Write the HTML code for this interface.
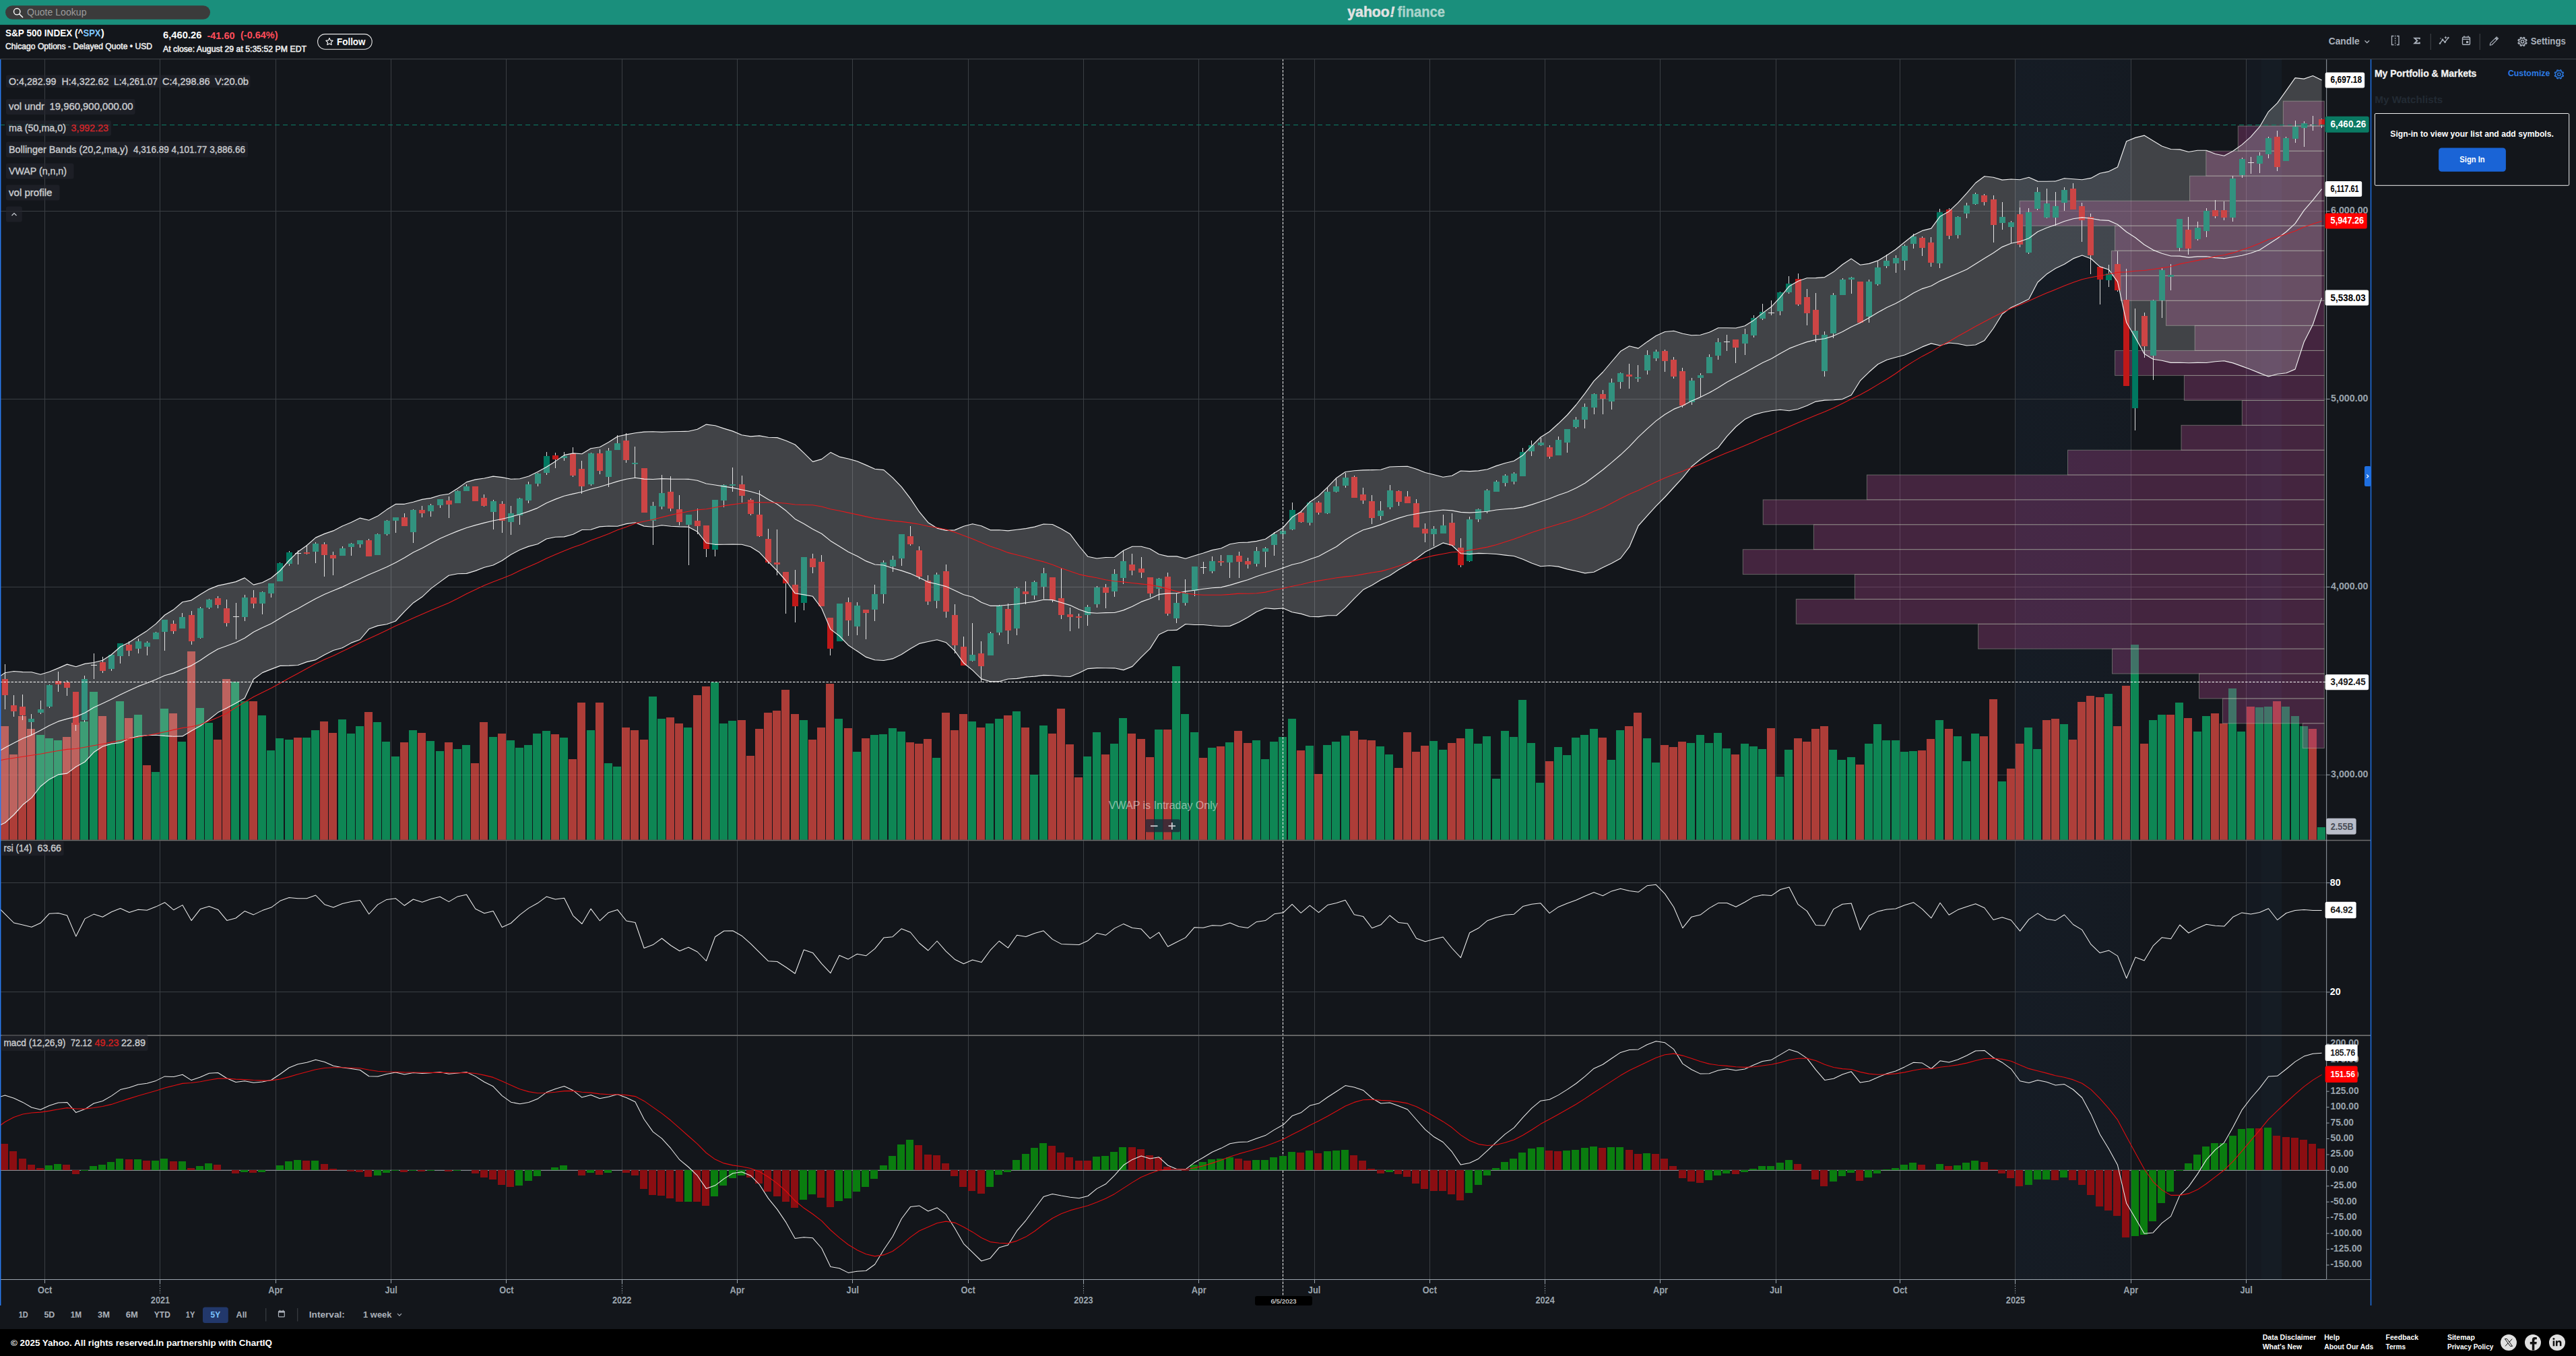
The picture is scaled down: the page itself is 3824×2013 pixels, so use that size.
<!DOCTYPE html><html><head><meta charset="utf-8"><title>S&amp;P 500 INDEX (^SPX) Interactive Chart</title><style>html,body{margin:0;padding:0;background:#13161b;}svg{display:block;font-family:"Liberation Sans", sans-serif;}</style></head><body>
<svg width="3824" height="2013" viewBox="0 0 3824 2013">
<defs>
<linearGradient id="g1" x1="0" x2="1" y1="0" y2="0"><stop offset="0" stop-color="#1b2a3c" stop-opacity="0.30"/><stop offset="1" stop-color="#1b2a3c" stop-opacity="0.22"/></linearGradient>
<linearGradient id="g2" x1="0" x2="1" y1="0" y2="0"><stop offset="0" stop-color="#1d2a3a" stop-opacity="0.3"/><stop offset="1" stop-color="#1d2a3a" stop-opacity="0.17"/></linearGradient>
<clipPath id="cpMain"><rect x="0" y="87.6" width="3453.7" height="1159.2"/></clipPath>
<clipPath id="cpMacd"><rect x="0" y="1538" width="3453.7" height="361.20000000000005"/></clipPath>
</defs>
<rect x="0" y="0" width="3824" height="2013" fill="#13161b" />
<rect x="2992" y="87.6" width="171.5" height="1811.6" fill="url(#g1)" />
<rect x="3335" y="87.6" width="21.5" height="1811.6" fill="rgba(27,42,60,0.2)" />
<rect x="3356.5" y="87.6" width="30.5" height="1811.6" fill="rgba(27,42,60,0.3)" />
<line x1="66.5" y1="87.6" x2="66.5" y2="1899.2" stroke="#3a3e43" stroke-width="1" />
<line x1="237.5" y1="87.6" x2="237.5" y2="1899.2" stroke="#3a3e43" stroke-width="1" />
<line x1="409.5" y1="87.6" x2="409.5" y2="1899.2" stroke="#3a3e43" stroke-width="1" />
<line x1="580.5" y1="87.6" x2="580.5" y2="1899.2" stroke="#3a3e43" stroke-width="1" />
<line x1="751.5" y1="87.6" x2="751.5" y2="1899.2" stroke="#3a3e43" stroke-width="1" />
<line x1="923.5" y1="87.6" x2="923.5" y2="1899.2" stroke="#3a3e43" stroke-width="1" />
<line x1="1094.5" y1="87.6" x2="1094.5" y2="1899.2" stroke="#3a3e43" stroke-width="1" />
<line x1="1265.5" y1="87.6" x2="1265.5" y2="1899.2" stroke="#3a3e43" stroke-width="1" />
<line x1="1437.5" y1="87.6" x2="1437.5" y2="1899.2" stroke="#3a3e43" stroke-width="1" />
<line x1="1608.5" y1="87.6" x2="1608.5" y2="1899.2" stroke="#3a3e43" stroke-width="1" />
<line x1="1779.5" y1="87.6" x2="1779.5" y2="1899.2" stroke="#3a3e43" stroke-width="1" />
<line x1="1951.5" y1="87.6" x2="1951.5" y2="1899.2" stroke="#3a3e43" stroke-width="1" />
<line x1="2122.5" y1="87.6" x2="2122.5" y2="1899.2" stroke="#3a3e43" stroke-width="1" />
<line x1="2293.5" y1="87.6" x2="2293.5" y2="1899.2" stroke="#3a3e43" stroke-width="1" />
<line x1="2464.5" y1="87.6" x2="2464.5" y2="1899.2" stroke="#3a3e43" stroke-width="1" />
<line x1="2636.5" y1="87.6" x2="2636.5" y2="1899.2" stroke="#3a3e43" stroke-width="1" />
<line x1="2820.5" y1="87.6" x2="2820.5" y2="1899.2" stroke="#3a3e43" stroke-width="1" />
<line x1="2991.5" y1="87.6" x2="2991.5" y2="1899.2" stroke="#3a3e43" stroke-width="1" />
<line x1="3163.5" y1="87.6" x2="3163.5" y2="1899.2" stroke="#3a3e43" stroke-width="1" />
<line x1="3334.5" y1="87.6" x2="3334.5" y2="1899.2" stroke="#3a3e43" stroke-width="1" />
<line x1="0" y1="313.5" x2="3453.7" y2="313.5" stroke="#3a3e43" stroke-width="1" />
<line x1="0" y1="592.5" x2="3453.7" y2="592.5" stroke="#3a3e43" stroke-width="1" />
<line x1="0" y1="871.5" x2="3453.7" y2="871.5" stroke="#3a3e43" stroke-width="1" />
<line x1="0" y1="1150.5" x2="3453.7" y2="1150.5" stroke="#3a3e43" stroke-width="1" />
<line x1="0" y1="1310.5" x2="3453.7" y2="1310.5" stroke="#3a3e43" stroke-width="1" />
<line x1="0" y1="1472.5" x2="3453.7" y2="1472.5" stroke="#3a3e43" stroke-width="1" />
<g clip-path="url(#cpMain)" shape-rendering="crispEdges">
<rect x="0.8" y="1078.3" width="12" height="168.3" fill="rgba(240,78,69,0.7)" />
<rect x="14" y="1120.4" width="12" height="126.2" fill="rgba(240,78,69,0.7)" />
<rect x="27.2" y="1063.4" width="12" height="183.2" fill="rgba(240,78,69,0.7)" />
<rect x="40.3" y="1082.4" width="12" height="164.2" fill="rgba(240,78,69,0.7)" />
<rect x="53.5" y="1091.3" width="12" height="155.3" fill="rgba(13,183,108,0.7)" />
<rect x="66.7" y="1096.3" width="12" height="150.3" fill="rgba(13,183,108,0.7)" />
<rect x="79.9" y="1099.3" width="12" height="147.3" fill="rgba(13,183,108,0.7)" />
<rect x="93" y="1094.3" width="12" height="152.3" fill="rgba(240,78,69,0.7)" />
<rect x="106.2" y="1072.5" width="12" height="174.1" fill="rgba(240,78,69,0.7)" />
<rect x="119.4" y="1071.2" width="12" height="175.4" fill="rgba(13,183,108,0.7)" />
<rect x="132.6" y="1026.5" width="12" height="220.1" fill="rgba(13,183,108,0.7)" />
<rect x="145.7" y="1063.4" width="12" height="183.2" fill="rgba(240,78,69,0.7)" />
<rect x="158.9" y="1104.1" width="12" height="142.5" fill="rgba(13,183,108,0.7)" />
<rect x="172.1" y="1041.1" width="12" height="205.5" fill="rgba(13,183,108,0.7)" />
<rect x="185.3" y="1066.1" width="12" height="180.5" fill="rgba(240,78,69,0.7)" />
<rect x="198.5" y="1061.3" width="12" height="185.3" fill="rgba(13,183,108,0.7)" />
<rect x="211.6" y="1136.4" width="12" height="110.2" fill="rgba(240,78,69,0.7)" />
<rect x="224.8" y="1146.3" width="12" height="100.3" fill="rgba(13,183,108,0.7)" />
<rect x="238" y="1052.4" width="12" height="194.2" fill="rgba(13,183,108,0.7)" />
<rect x="251.2" y="1059.2" width="12" height="187.4" fill="rgba(240,78,69,0.7)" />
<rect x="264.3" y="1100.5" width="12" height="146.1" fill="rgba(13,183,108,0.7)" />
<rect x="277.5" y="966.5" width="12" height="280.1" fill="rgba(240,78,69,0.7)" />
<rect x="290.7" y="1051.2" width="12" height="195.4" fill="rgba(13,183,108,0.7)" />
<rect x="303.9" y="1073.4" width="12" height="173.2" fill="rgba(13,183,108,0.7)" />
<rect x="317" y="1098.2" width="12" height="148.4" fill="rgba(240,78,69,0.7)" />
<rect x="330.2" y="1008.4" width="12" height="238.2" fill="rgba(240,78,69,0.7)" />
<rect x="343.4" y="1011.6" width="12" height="235" fill="rgba(13,183,108,0.7)" />
<rect x="356.6" y="1040.5" width="12" height="206.1" fill="rgba(13,183,108,0.7)" />
<rect x="369.8" y="1041.1" width="12" height="205.5" fill="rgba(240,78,69,0.7)" />
<rect x="382.9" y="1062.2" width="12" height="184.4" fill="rgba(13,183,108,0.7)" />
<rect x="396.1" y="1113.5" width="12" height="133.1" fill="rgba(13,183,108,0.7)" />
<rect x="409.3" y="1096.3" width="12" height="150.3" fill="rgba(13,183,108,0.7)" />
<rect x="422.5" y="1098.2" width="12" height="148.4" fill="rgba(13,183,108,0.7)" />
<rect x="435.6" y="1095.4" width="12" height="151.2" fill="rgba(240,78,69,0.7)" />
<rect x="448.8" y="1095.4" width="12" height="151.2" fill="rgba(13,183,108,0.7)" />
<rect x="462" y="1084.2" width="12" height="162.4" fill="rgba(13,183,108,0.7)" />
<rect x="475.2" y="1071.2" width="12" height="175.4" fill="rgba(240,78,69,0.7)" />
<rect x="488.3" y="1088.3" width="12" height="158.3" fill="rgba(240,78,69,0.7)" />
<rect x="501.5" y="1068.4" width="12" height="178.2" fill="rgba(13,183,108,0.7)" />
<rect x="514.7" y="1089.2" width="12" height="157.4" fill="rgba(13,183,108,0.7)" />
<rect x="527.9" y="1078.3" width="12" height="168.3" fill="rgba(13,183,108,0.7)" />
<rect x="541.1" y="1057.4" width="12" height="189.2" fill="rgba(240,78,69,0.7)" />
<rect x="554.2" y="1072.3" width="12" height="174.3" fill="rgba(13,183,108,0.7)" />
<rect x="567.4" y="1101.4" width="12" height="145.2" fill="rgba(13,183,108,0.7)" />
<rect x="580.6" y="1123.4" width="12" height="123.2" fill="rgba(13,183,108,0.7)" />
<rect x="593.8" y="1102.3" width="12" height="144.3" fill="rgba(240,78,69,0.7)" />
<rect x="606.9" y="1084.2" width="12" height="162.4" fill="rgba(13,183,108,0.7)" />
<rect x="620.1" y="1088.3" width="12" height="158.3" fill="rgba(240,78,69,0.7)" />
<rect x="633.3" y="1100.2" width="12" height="146.4" fill="rgba(13,183,108,0.7)" />
<rect x="646.5" y="1115.4" width="12" height="131.2" fill="rgba(13,183,108,0.7)" />
<rect x="659.7" y="1102.3" width="12" height="144.3" fill="rgba(240,78,69,0.7)" />
<rect x="672.8" y="1112.4" width="12" height="134.2" fill="rgba(13,183,108,0.7)" />
<rect x="686" y="1106.4" width="12" height="140.2" fill="rgba(13,183,108,0.7)" />
<rect x="699.2" y="1133.2" width="12" height="113.4" fill="rgba(240,78,69,0.7)" />
<rect x="712.4" y="1072.3" width="12" height="174.3" fill="rgba(240,78,69,0.7)" />
<rect x="725.5" y="1094.3" width="12" height="152.3" fill="rgba(13,183,108,0.7)" />
<rect x="738.7" y="1089.2" width="12" height="157.4" fill="rgba(240,78,69,0.7)" />
<rect x="751.9" y="1099.3" width="12" height="147.3" fill="rgba(13,183,108,0.7)" />
<rect x="765.1" y="1110.3" width="12" height="136.3" fill="rgba(13,183,108,0.7)" />
<rect x="778.2" y="1106.4" width="12" height="140.2" fill="rgba(13,183,108,0.7)" />
<rect x="791.4" y="1089.2" width="12" height="157.4" fill="rgba(13,183,108,0.7)" />
<rect x="804.6" y="1085.4" width="12" height="161.2" fill="rgba(13,183,108,0.7)" />
<rect x="817.8" y="1090.4" width="12" height="156.2" fill="rgba(240,78,69,0.7)" />
<rect x="831" y="1095.4" width="12" height="151.2" fill="rgba(13,183,108,0.7)" />
<rect x="844.1" y="1127.3" width="12" height="119.3" fill="rgba(240,78,69,0.7)" />
<rect x="857.3" y="1043.4" width="12" height="203.2" fill="rgba(240,78,69,0.7)" />
<rect x="870.5" y="1084.2" width="12" height="162.4" fill="rgba(13,183,108,0.7)" />
<rect x="883.7" y="1043.4" width="12" height="203.2" fill="rgba(240,78,69,0.7)" />
<rect x="896.8" y="1133.2" width="12" height="113.4" fill="rgba(13,183,108,0.7)" />
<rect x="910" y="1138.3" width="12" height="108.3" fill="rgba(13,183,108,0.7)" />
<rect x="923.2" y="1080.3" width="12" height="166.3" fill="rgba(240,78,69,0.7)" />
<rect x="936.4" y="1084.2" width="12" height="162.4" fill="rgba(240,78,69,0.7)" />
<rect x="949.5" y="1098.2" width="12" height="148.4" fill="rgba(240,78,69,0.7)" />
<rect x="962.7" y="1034.3" width="12" height="212.3" fill="rgba(13,183,108,0.7)" />
<rect x="975.9" y="1067.3" width="12" height="179.3" fill="rgba(13,183,108,0.7)" />
<rect x="989.1" y="1065.4" width="12" height="181.2" fill="rgba(240,78,69,0.7)" />
<rect x="1002.3" y="1074.4" width="12" height="172.2" fill="rgba(240,78,69,0.7)" />
<rect x="1015.4" y="1080.3" width="12" height="166.3" fill="rgba(13,183,108,0.7)" />
<rect x="1028.6" y="1032.2" width="12" height="214.4" fill="rgba(240,78,69,0.7)" />
<rect x="1041.8" y="1019.4" width="12" height="227.2" fill="rgba(240,78,69,0.7)" />
<rect x="1055" y="1013.4" width="12" height="233.2" fill="rgba(13,183,108,0.7)" />
<rect x="1068.1" y="1074.4" width="12" height="172.2" fill="rgba(13,183,108,0.7)" />
<rect x="1081.3" y="1070.2" width="12" height="176.4" fill="rgba(13,183,108,0.7)" />
<rect x="1094.5" y="1069.3" width="12" height="177.3" fill="rgba(240,78,69,0.7)" />
<rect x="1107.7" y="1122.2" width="12" height="124.4" fill="rgba(240,78,69,0.7)" />
<rect x="1120.8" y="1082.4" width="12" height="164.2" fill="rgba(240,78,69,0.7)" />
<rect x="1134" y="1058.3" width="12" height="188.3" fill="rgba(240,78,69,0.7)" />
<rect x="1147.2" y="1055.3" width="12" height="191.3" fill="rgba(240,78,69,0.7)" />
<rect x="1160.4" y="1024.4" width="12" height="222.2" fill="rgba(240,78,69,0.7)" />
<rect x="1173.6" y="1059.5" width="12" height="187.1" fill="rgba(240,78,69,0.7)" />
<rect x="1186.7" y="1069.3" width="12" height="177.3" fill="rgba(13,183,108,0.7)" />
<rect x="1199.9" y="1098.2" width="12" height="148.4" fill="rgba(240,78,69,0.7)" />
<rect x="1213.1" y="1080.3" width="12" height="166.3" fill="rgba(240,78,69,0.7)" />
<rect x="1226.3" y="1014.6" width="12" height="232" fill="rgba(240,78,69,0.7)" />
<rect x="1239.4" y="1067.3" width="12" height="179.3" fill="rgba(13,183,108,0.7)" />
<rect x="1252.6" y="1081.2" width="12" height="165.4" fill="rgba(240,78,69,0.7)" />
<rect x="1265.8" y="1116.3" width="12" height="130.3" fill="rgba(13,183,108,0.7)" />
<rect x="1279" y="1096.3" width="12" height="150.3" fill="rgba(240,78,69,0.7)" />
<rect x="1292.1" y="1091.3" width="12" height="155.3" fill="rgba(13,183,108,0.7)" />
<rect x="1305.3" y="1090.4" width="12" height="156.2" fill="rgba(13,183,108,0.7)" />
<rect x="1318.5" y="1081.2" width="12" height="165.4" fill="rgba(13,183,108,0.7)" />
<rect x="1331.7" y="1086.3" width="12" height="160.3" fill="rgba(13,183,108,0.7)" />
<rect x="1344.9" y="1102.3" width="12" height="144.3" fill="rgba(240,78,69,0.7)" />
<rect x="1358" y="1104.4" width="12" height="142.2" fill="rgba(240,78,69,0.7)" />
<rect x="1371.2" y="1097.3" width="12" height="149.3" fill="rgba(240,78,69,0.7)" />
<rect x="1384.4" y="1125.2" width="12" height="121.4" fill="rgba(13,183,108,0.7)" />
<rect x="1397.6" y="1058.3" width="12" height="188.3" fill="rgba(240,78,69,0.7)" />
<rect x="1410.7" y="1084.2" width="12" height="162.4" fill="rgba(240,78,69,0.7)" />
<rect x="1423.9" y="1060.4" width="12" height="186.2" fill="rgba(240,78,69,0.7)" />
<rect x="1437.1" y="1071.4" width="12" height="175.2" fill="rgba(13,183,108,0.7)" />
<rect x="1450.3" y="1080.3" width="12" height="166.3" fill="rgba(240,78,69,0.7)" />
<rect x="1463.4" y="1074.4" width="12" height="172.2" fill="rgba(13,183,108,0.7)" />
<rect x="1476.6" y="1067.3" width="12" height="179.3" fill="rgba(13,183,108,0.7)" />
<rect x="1489.8" y="1062.4" width="12" height="184.2" fill="rgba(240,78,69,0.7)" />
<rect x="1503" y="1056.3" width="12" height="190.3" fill="rgba(13,183,108,0.7)" />
<rect x="1516.2" y="1080.3" width="12" height="166.3" fill="rgba(240,78,69,0.7)" />
<rect x="1529.3" y="1150.2" width="12" height="96.4" fill="rgba(13,183,108,0.7)" />
<rect x="1542.5" y="1077.3" width="12" height="169.3" fill="rgba(13,183,108,0.7)" />
<rect x="1555.7" y="1089.2" width="12" height="157.4" fill="rgba(240,78,69,0.7)" />
<rect x="1568.9" y="1052.4" width="12" height="194.2" fill="rgba(240,78,69,0.7)" />
<rect x="1582" y="1105.3" width="12" height="141.3" fill="rgba(240,78,69,0.7)" />
<rect x="1595.2" y="1154.3" width="12" height="92.3" fill="rgba(240,78,69,0.7)" />
<rect x="1608.4" y="1123.4" width="12" height="123.2" fill="rgba(13,183,108,0.7)" />
<rect x="1621.6" y="1087.4" width="12" height="159.2" fill="rgba(13,183,108,0.7)" />
<rect x="1634.7" y="1120.4" width="12" height="126.2" fill="rgba(240,78,69,0.7)" />
<rect x="1647.9" y="1104.4" width="12" height="142.2" fill="rgba(13,183,108,0.7)" />
<rect x="1661.1" y="1066.3" width="12" height="180.3" fill="rgba(13,183,108,0.7)" />
<rect x="1674.3" y="1089.2" width="12" height="157.4" fill="rgba(240,78,69,0.7)" />
<rect x="1687.5" y="1097.3" width="12" height="149.3" fill="rgba(240,78,69,0.7)" />
<rect x="1700.6" y="1124.3" width="12" height="122.3" fill="rgba(240,78,69,0.7)" />
<rect x="1713.8" y="1083.3" width="12" height="163.3" fill="rgba(13,183,108,0.7)" />
<rect x="1727" y="1083.3" width="12" height="163.3" fill="rgba(240,78,69,0.7)" />
<rect x="1740.2" y="988.5" width="12" height="258.1" fill="rgba(13,183,108,0.7)" />
<rect x="1753.3" y="1060.4" width="12" height="186.2" fill="rgba(13,183,108,0.7)" />
<rect x="1766.5" y="1087.4" width="12" height="159.2" fill="rgba(13,183,108,0.7)" />
<rect x="1779.7" y="1125.2" width="12" height="121.4" fill="rgba(240,78,69,0.7)" />
<rect x="1792.9" y="1110.3" width="12" height="136.3" fill="rgba(13,183,108,0.7)" />
<rect x="1806.1" y="1108.3" width="12" height="138.3" fill="rgba(240,78,69,0.7)" />
<rect x="1819.2" y="1102.3" width="12" height="144.3" fill="rgba(13,183,108,0.7)" />
<rect x="1832.4" y="1085.4" width="12" height="161.2" fill="rgba(240,78,69,0.7)" />
<rect x="1845.6" y="1103.2" width="12" height="143.4" fill="rgba(240,78,69,0.7)" />
<rect x="1858.8" y="1099.3" width="12" height="147.3" fill="rgba(13,183,108,0.7)" />
<rect x="1871.9" y="1127.3" width="12" height="119.3" fill="rgba(13,183,108,0.7)" />
<rect x="1885.1" y="1101.4" width="12" height="145.2" fill="rgba(13,183,108,0.7)" />
<rect x="1898.3" y="1094.3" width="12" height="152.3" fill="rgba(13,183,108,0.7)" />
<rect x="1911.5" y="1067.3" width="12" height="179.3" fill="rgba(13,183,108,0.7)" />
<rect x="1924.6" y="1114.2" width="12" height="132.4" fill="rgba(240,78,69,0.7)" />
<rect x="1937.8" y="1107.3" width="12" height="139.3" fill="rgba(13,183,108,0.7)" />
<rect x="1951" y="1149.3" width="12" height="97.3" fill="rgba(240,78,69,0.7)" />
<rect x="1964.2" y="1106.4" width="12" height="140.2" fill="rgba(13,183,108,0.7)" />
<rect x="1977.4" y="1101.4" width="12" height="145.2" fill="rgba(13,183,108,0.7)" />
<rect x="1990.5" y="1092.2" width="12" height="154.4" fill="rgba(13,183,108,0.7)" />
<rect x="2003.7" y="1085.4" width="12" height="161.2" fill="rgba(240,78,69,0.7)" />
<rect x="2016.9" y="1098.2" width="12" height="148.4" fill="rgba(240,78,69,0.7)" />
<rect x="2030.1" y="1099.3" width="12" height="147.3" fill="rgba(240,78,69,0.7)" />
<rect x="2043.2" y="1108.3" width="12" height="138.3" fill="rgba(13,183,108,0.7)" />
<rect x="2056.4" y="1120.4" width="12" height="126.2" fill="rgba(13,183,108,0.7)" />
<rect x="2069.6" y="1140.3" width="12" height="106.3" fill="rgba(240,78,69,0.7)" />
<rect x="2082.8" y="1087.4" width="12" height="159.2" fill="rgba(240,78,69,0.7)" />
<rect x="2095.9" y="1116.3" width="12" height="130.3" fill="rgba(240,78,69,0.7)" />
<rect x="2109.1" y="1107.3" width="12" height="139.3" fill="rgba(240,78,69,0.7)" />
<rect x="2122.3" y="1100.2" width="12" height="146.4" fill="rgba(13,183,108,0.7)" />
<rect x="2135.5" y="1113.3" width="12" height="133.3" fill="rgba(13,183,108,0.7)" />
<rect x="2148.7" y="1103.2" width="12" height="143.4" fill="rgba(240,78,69,0.7)" />
<rect x="2161.8" y="1096.3" width="12" height="150.3" fill="rgba(240,78,69,0.7)" />
<rect x="2175" y="1082.4" width="12" height="164.2" fill="rgba(13,183,108,0.7)" />
<rect x="2188.2" y="1104.4" width="12" height="142.2" fill="rgba(13,183,108,0.7)" />
<rect x="2201.4" y="1093.4" width="12" height="153.2" fill="rgba(13,183,108,0.7)" />
<rect x="2214.5" y="1156.1" width="12" height="90.5" fill="rgba(13,183,108,0.7)" />
<rect x="2227.7" y="1085.4" width="12" height="161.2" fill="rgba(13,183,108,0.7)" />
<rect x="2240.9" y="1094.3" width="12" height="152.3" fill="rgba(13,183,108,0.7)" />
<rect x="2254.1" y="1039.3" width="12" height="207.3" fill="rgba(13,183,108,0.7)" />
<rect x="2267.2" y="1103.2" width="12" height="143.4" fill="rgba(13,183,108,0.7)" />
<rect x="2280.4" y="1162.3" width="12" height="84.3" fill="rgba(13,183,108,0.7)" />
<rect x="2293.6" y="1130.2" width="12" height="116.4" fill="rgba(240,78,69,0.7)" />
<rect x="2306.8" y="1109.4" width="12" height="137.2" fill="rgba(13,183,108,0.7)" />
<rect x="2320" y="1121.3" width="12" height="125.3" fill="rgba(13,183,108,0.7)" />
<rect x="2333.1" y="1095.4" width="12" height="151.2" fill="rgba(13,183,108,0.7)" />
<rect x="2346.3" y="1091.3" width="12" height="155.3" fill="rgba(13,183,108,0.7)" />
<rect x="2359.5" y="1082.4" width="12" height="164.2" fill="rgba(13,183,108,0.7)" />
<rect x="2372.7" y="1095.4" width="12" height="151.2" fill="rgba(240,78,69,0.7)" />
<rect x="2385.8" y="1128.2" width="12" height="118.4" fill="rgba(13,183,108,0.7)" />
<rect x="2399" y="1084.2" width="12" height="162.4" fill="rgba(13,183,108,0.7)" />
<rect x="2412.2" y="1078.3" width="12" height="168.3" fill="rgba(240,78,69,0.7)" />
<rect x="2425.4" y="1058.3" width="12" height="188.3" fill="rgba(240,78,69,0.7)" />
<rect x="2438.5" y="1096.3" width="12" height="150.3" fill="rgba(13,183,108,0.7)" />
<rect x="2451.7" y="1132.3" width="12" height="114.3" fill="rgba(13,183,108,0.7)" />
<rect x="2464.9" y="1106.4" width="12" height="140.2" fill="rgba(240,78,69,0.7)" />
<rect x="2478.1" y="1109.4" width="12" height="137.2" fill="rgba(240,78,69,0.7)" />
<rect x="2491.3" y="1101.4" width="12" height="145.2" fill="rgba(240,78,69,0.7)" />
<rect x="2504.4" y="1103.2" width="12" height="143.4" fill="rgba(13,183,108,0.7)" />
<rect x="2517.6" y="1091.3" width="12" height="155.3" fill="rgba(13,183,108,0.7)" />
<rect x="2530.8" y="1103.2" width="12" height="143.4" fill="rgba(13,183,108,0.7)" />
<rect x="2544" y="1088.3" width="12" height="158.3" fill="rgba(13,183,108,0.7)" />
<rect x="2557.1" y="1111.2" width="12" height="135.4" fill="rgba(13,183,108,0.7)" />
<rect x="2570.3" y="1120.4" width="12" height="126.2" fill="rgba(240,78,69,0.7)" />
<rect x="2583.5" y="1104.4" width="12" height="142.2" fill="rgba(13,183,108,0.7)" />
<rect x="2596.7" y="1108.3" width="12" height="138.3" fill="rgba(13,183,108,0.7)" />
<rect x="2609.8" y="1112.4" width="12" height="134.2" fill="rgba(13,183,108,0.7)" />
<rect x="2623" y="1081.2" width="12" height="165.4" fill="rgba(240,78,69,0.7)" />
<rect x="2636.2" y="1153.2" width="12" height="93.4" fill="rgba(13,183,108,0.7)" />
<rect x="2649.4" y="1113.3" width="12" height="133.3" fill="rgba(13,183,108,0.7)" />
<rect x="2662.6" y="1096.3" width="12" height="150.3" fill="rgba(240,78,69,0.7)" />
<rect x="2675.7" y="1101.4" width="12" height="145.2" fill="rgba(240,78,69,0.7)" />
<rect x="2688.9" y="1082.4" width="12" height="164.2" fill="rgba(240,78,69,0.7)" />
<rect x="2702.1" y="1078.3" width="12" height="168.3" fill="rgba(240,78,69,0.7)" />
<rect x="2715.3" y="1113.3" width="12" height="133.3" fill="rgba(13,183,108,0.7)" />
<rect x="2728.4" y="1128.2" width="12" height="118.4" fill="rgba(13,183,108,0.7)" />
<rect x="2741.6" y="1124.3" width="12" height="122.3" fill="rgba(13,183,108,0.7)" />
<rect x="2754.8" y="1135.3" width="12" height="111.3" fill="rgba(240,78,69,0.7)" />
<rect x="2768" y="1104.4" width="12" height="142.2" fill="rgba(13,183,108,0.7)" />
<rect x="2781.1" y="1075.3" width="12" height="171.3" fill="rgba(13,183,108,0.7)" />
<rect x="2794.3" y="1099.3" width="12" height="147.3" fill="rgba(13,183,108,0.7)" />
<rect x="2807.5" y="1099.3" width="12" height="147.3" fill="rgba(13,183,108,0.7)" />
<rect x="2820.7" y="1116.3" width="12" height="130.3" fill="rgba(13,183,108,0.7)" />
<rect x="2833.9" y="1115.4" width="12" height="131.2" fill="rgba(13,183,108,0.7)" />
<rect x="2847" y="1114.2" width="12" height="132.4" fill="rgba(240,78,69,0.7)" />
<rect x="2860.2" y="1097.3" width="12" height="149.3" fill="rgba(240,78,69,0.7)" />
<rect x="2873.4" y="1069.3" width="12" height="177.3" fill="rgba(13,183,108,0.7)" />
<rect x="2886.6" y="1082.4" width="12" height="164.2" fill="rgba(240,78,69,0.7)" />
<rect x="2899.7" y="1093.4" width="12" height="153.2" fill="rgba(13,183,108,0.7)" />
<rect x="2912.9" y="1130.2" width="12" height="116.4" fill="rgba(13,183,108,0.7)" />
<rect x="2926.1" y="1089.2" width="12" height="157.4" fill="rgba(13,183,108,0.7)" />
<rect x="2939.3" y="1093.4" width="12" height="153.2" fill="rgba(240,78,69,0.7)" />
<rect x="2952.5" y="1038.4" width="12" height="208.2" fill="rgba(240,78,69,0.7)" />
<rect x="2965.6" y="1160.3" width="12" height="86.3" fill="rgba(13,183,108,0.7)" />
<rect x="2978.8" y="1141.2" width="12" height="105.4" fill="rgba(240,78,69,0.7)" />
<rect x="2992" y="1104.4" width="12" height="142.2" fill="rgba(240,78,69,0.7)" />
<rect x="3005.2" y="1080.3" width="12" height="166.3" fill="rgba(13,183,108,0.7)" />
<rect x="3018.3" y="1112.4" width="12" height="134.2" fill="rgba(13,183,108,0.7)" />
<rect x="3031.5" y="1069.3" width="12" height="177.3" fill="rgba(240,78,69,0.7)" />
<rect x="3044.7" y="1067.3" width="12" height="179.3" fill="rgba(240,78,69,0.7)" />
<rect x="3057.9" y="1075.3" width="12" height="171.3" fill="rgba(13,183,108,0.7)" />
<rect x="3071" y="1098.2" width="12" height="148.4" fill="rgba(240,78,69,0.7)" />
<rect x="3084.2" y="1042.3" width="12" height="204.3" fill="rgba(240,78,69,0.7)" />
<rect x="3097.4" y="1033.4" width="12" height="213.2" fill="rgba(240,78,69,0.7)" />
<rect x="3110.6" y="1035.4" width="12" height="211.2" fill="rgba(240,78,69,0.7)" />
<rect x="3123.8" y="1030.4" width="12" height="216.2" fill="rgba(13,183,108,0.7)" />
<rect x="3136.9" y="1078.3" width="12" height="168.3" fill="rgba(240,78,69,0.7)" />
<rect x="3150.1" y="1017.6" width="12" height="229" fill="rgba(240,78,69,0.7)" />
<rect x="3163.3" y="957.3" width="12" height="289.3" fill="rgba(13,183,108,0.7)" />
<rect x="3176.5" y="1104.4" width="12" height="142.2" fill="rgba(240,78,69,0.7)" />
<rect x="3189.6" y="1069.3" width="12" height="177.3" fill="rgba(13,183,108,0.7)" />
<rect x="3202.8" y="1061.3" width="12" height="185.3" fill="rgba(13,183,108,0.7)" />
<rect x="3216" y="1061.3" width="12" height="185.3" fill="rgba(240,78,69,0.7)" />
<rect x="3229.2" y="1043.4" width="12" height="203.2" fill="rgba(13,183,108,0.7)" />
<rect x="3242.3" y="1066.3" width="12" height="180.3" fill="rgba(240,78,69,0.7)" />
<rect x="3255.5" y="1086.3" width="12" height="160.3" fill="rgba(13,183,108,0.7)" />
<rect x="3268.7" y="1063.4" width="12" height="183.2" fill="rgba(13,183,108,0.7)" />
<rect x="3281.9" y="1059.2" width="12" height="187.4" fill="rgba(240,78,69,0.7)" />
<rect x="3295.1" y="1074.4" width="12" height="172.2" fill="rgba(240,78,69,0.7)" />
<rect x="3308.2" y="1022.4" width="12" height="224.2" fill="rgba(13,183,108,0.7)" />
<rect x="3321.4" y="1086.3" width="12" height="160.3" fill="rgba(13,183,108,0.7)" />
<rect x="3334.6" y="1049.4" width="12" height="197.2" fill="rgba(240,78,69,0.7)" />
<rect x="3347.8" y="1050.3" width="12" height="196.3" fill="rgba(13,183,108,0.7)" />
<rect x="3360.9" y="1048.5" width="12" height="198.1" fill="rgba(13,183,108,0.7)" />
<rect x="3374.1" y="1041.4" width="12" height="205.2" fill="rgba(240,78,69,0.7)" />
<rect x="3387.3" y="1049.4" width="12" height="197.2" fill="rgba(13,183,108,0.7)" />
<rect x="3400.5" y="1063.4" width="12" height="183.2" fill="rgba(13,183,108,0.7)" />
<rect x="3413.6" y="1078.3" width="12" height="168.3" fill="rgba(13,183,108,0.7)" />
<rect x="3426.8" y="1082.4" width="12" height="164.2" fill="rgba(240,78,69,0.7)" />
<rect x="3440" y="1228.3" width="12" height="18.3" fill="rgba(13,183,108,0.7)" />
</g>
<g>
<rect x="3389.3" y="150.1" width="61" height="37" fill="rgba(182,74,150,0.3)" stroke="rgba(205,228,195,0.36)" stroke-width="1"/>
<rect x="3322.3" y="187.1" width="128" height="37" fill="rgba(182,74,150,0.3)" stroke="rgba(205,228,195,0.36)" stroke-width="1"/>
<rect x="3274.8" y="224.2" width="175.5" height="37" fill="rgba(182,74,150,0.3)" stroke="rgba(205,228,195,0.36)" stroke-width="1"/>
<rect x="3250.6" y="261.2" width="199.7" height="37" fill="rgba(182,74,150,0.3)" stroke="rgba(205,228,195,0.36)" stroke-width="1"/>
<rect x="2998.1" y="298.2" width="452.2" height="37" fill="rgba(182,74,150,0.3)" stroke="rgba(205,228,195,0.36)" stroke-width="1"/>
<rect x="3139.6" y="335.2" width="310.7" height="37" fill="rgba(182,74,150,0.3)" stroke="rgba(205,228,195,0.36)" stroke-width="1"/>
<rect x="3134.4" y="372.3" width="315.9" height="37" fill="rgba(182,74,150,0.3)" stroke="rgba(205,228,195,0.36)" stroke-width="1"/>
<rect x="3148" y="409.3" width="302.3" height="37" fill="rgba(182,74,150,0.3)" stroke="rgba(205,228,195,0.36)" stroke-width="1"/>
<rect x="3215.5" y="446.3" width="234.8" height="37" fill="rgba(182,74,150,0.3)" stroke="rgba(205,228,195,0.36)" stroke-width="1"/>
<rect x="3258.2" y="483.4" width="192.1" height="37" fill="rgba(182,74,150,0.3)" stroke="rgba(205,228,195,0.36)" stroke-width="1"/>
<rect x="3139.6" y="520.4" width="310.7" height="37" fill="rgba(182,74,150,0.3)" stroke="rgba(205,228,195,0.36)" stroke-width="1"/>
<rect x="3242.4" y="557.4" width="207.9" height="37" fill="rgba(182,74,150,0.3)" stroke="rgba(205,228,195,0.36)" stroke-width="1"/>
<rect x="3328.3" y="594.5" width="122" height="36.8" fill="rgba(182,74,150,0.3)" stroke="rgba(205,228,195,0.36)" stroke-width="1"/>
<rect x="3238" y="631.3" width="212.3" height="36.9" fill="rgba(182,74,150,0.3)" stroke="rgba(205,228,195,0.36)" stroke-width="1"/>
<rect x="3069.5" y="668.2" width="380.8" height="36.9" fill="rgba(182,74,150,0.3)" stroke="rgba(205,228,195,0.36)" stroke-width="1"/>
<rect x="2771.4" y="705" width="678.9" height="36.9" fill="rgba(182,74,150,0.3)" stroke="rgba(205,228,195,0.36)" stroke-width="1"/>
<rect x="2617.2" y="741.9" width="833.1" height="36.9" fill="rgba(182,74,150,0.3)" stroke="rgba(205,228,195,0.36)" stroke-width="1"/>
<rect x="2692.4" y="778.8" width="757.9" height="36.9" fill="rgba(182,74,150,0.3)" stroke="rgba(205,228,195,0.36)" stroke-width="1"/>
<rect x="2587.3" y="815.7" width="863" height="36.9" fill="rgba(182,74,150,0.3)" stroke="rgba(205,228,195,0.36)" stroke-width="1"/>
<rect x="2753.4" y="852.6" width="696.9" height="36.9" fill="rgba(182,74,150,0.3)" stroke="rgba(205,228,195,0.36)" stroke-width="1"/>
<rect x="2666.3" y="889.4" width="784" height="36.9" fill="rgba(182,74,150,0.3)" stroke="rgba(205,228,195,0.36)" stroke-width="1"/>
<rect x="2936.6" y="926.3" width="513.7" height="36.9" fill="rgba(182,74,150,0.3)" stroke="rgba(205,228,195,0.36)" stroke-width="1"/>
<rect x="3135.5" y="963.2" width="314.8" height="36.9" fill="rgba(182,74,150,0.3)" stroke="rgba(205,228,195,0.36)" stroke-width="1"/>
<rect x="3264.5" y="1000.1" width="185.8" height="36.9" fill="rgba(182,74,150,0.3)" stroke="rgba(205,228,195,0.36)" stroke-width="1"/>
<rect x="3299.4" y="1037" width="150.9" height="36.9" fill="rgba(182,74,150,0.3)" stroke="rgba(205,228,195,0.36)" stroke-width="1"/>
<rect x="3418.3" y="1073.8" width="32" height="36.9" fill="rgba(182,74,150,0.3)" stroke="rgba(205,228,195,0.36)" stroke-width="1"/>
</g>
<g clip-path="url(#cpMain)" shape-rendering="crispEdges">
<line x1="7.5" y1="986.3" x2="7.5" y2="1052.8" stroke="#dcdcdc" stroke-width="1" />
<rect x="3" y="1008.1" width="9" height="23.9" fill="#c01818" />
<line x1="20.5" y1="1031.6" x2="20.5" y2="1063.7" stroke="#dcdcdc" stroke-width="1" />
<rect x="16" y="1046.6" width="9" height="9.4" fill="#c01818" />
<line x1="33.5" y1="1030.7" x2="33.5" y2="1068.8" stroke="#dcdcdc" stroke-width="1" />
<rect x="29" y="1048.9" width="9" height="13.1" fill="#c01818" />
<line x1="46.5" y1="1060.1" x2="46.5" y2="1091.9" stroke="#dcdcdc" stroke-width="1" />
<rect x="42" y="1067.1" width="9" height="4.4" fill="#007860" />
<line x1="60.5" y1="1039.5" x2="60.5" y2="1060" stroke="#dcdcdc" stroke-width="1" />
<rect x="56" y="1053.1" width="9" height="4.9" fill="#007860" />
<line x1="73.5" y1="1015.8" x2="73.5" y2="1051.4" stroke="#dcdcdc" stroke-width="1" />
<rect x="69" y="1017.2" width="9" height="31.4" fill="#007860" />
<line x1="86.5" y1="996.9" x2="86.5" y2="1027.3" stroke="#dcdcdc" stroke-width="1" />
<rect x="82" y="1010.8" width="9" height="5.3" fill="#c01818" />
<line x1="99.5" y1="1010.2" x2="99.5" y2="1033.2" stroke="#dcdcdc" stroke-width="1" />
<rect x="95" y="1012.6" width="9" height="8.7" fill="#c01818" />
<line x1="112.5" y1="1027.2" x2="112.5" y2="1085.1" stroke="#dcdcdc" stroke-width="1" />
<rect x="108" y="1027.2" width="9" height="48.6" fill="#c01818" />
<line x1="125.5" y1="1002.7" x2="125.5" y2="1072.3" stroke="#dcdcdc" stroke-width="1" />
<rect x="121" y="1008.2" width="9" height="60.3" fill="#007860" />
<line x1="139.5" y1="970.1" x2="139.5" y2="1007.5" stroke="#dcdcdc" stroke-width="1" />
<rect x="135" y="986.9" width="9" height="1" fill="#dcdcdc" />
<line x1="152.5" y1="975" x2="152.5" y2="998.6" stroke="#dcdcdc" stroke-width="1" />
<rect x="148" y="982.9" width="9" height="12.7" fill="#c01818" />
<line x1="165.5" y1="970.6" x2="165.5" y2="996.1" stroke="#dcdcdc" stroke-width="1" />
<rect x="161" y="972.3" width="9" height="20.8" fill="#007860" />
<line x1="178.5" y1="955.3" x2="178.5" y2="984.5" stroke="#dcdcdc" stroke-width="1" />
<rect x="174" y="955.3" width="9" height="18.9" fill="#007860" />
<line x1="191.5" y1="951.6" x2="191.5" y2="973.6" stroke="#dcdcdc" stroke-width="1" />
<rect x="187" y="956.5" width="9" height="9.5" fill="#c01818" />
<line x1="205.5" y1="947.6" x2="205.5" y2="970.2" stroke="#dcdcdc" stroke-width="1" />
<rect x="201" y="952.4" width="9" height="10.3" fill="#007860" />
<line x1="218.5" y1="951.9" x2="218.5" y2="972.8" stroke="#dcdcdc" stroke-width="1" />
<rect x="214" y="954.2" width="9" height="6" fill="#007860" />
<line x1="231.5" y1="938.3" x2="231.5" y2="948.6" stroke="#dcdcdc" stroke-width="1" />
<rect x="227" y="939.4" width="9" height="10" fill="#007860" />
<line x1="244.5" y1="919.7" x2="244.5" y2="965.5" stroke="#dcdcdc" stroke-width="1" />
<rect x="240" y="920.3" width="9" height="17.6" fill="#007860" />
<line x1="257.5" y1="920.6" x2="257.5" y2="941.2" stroke="#dcdcdc" stroke-width="1" />
<rect x="253" y="926.3" width="9" height="10.5" fill="#c01818" />
<line x1="270.5" y1="910" x2="270.5" y2="932.6" stroke="#dcdcdc" stroke-width="1" />
<rect x="266" y="915.6" width="9" height="17.4" fill="#007860" />
<line x1="284.5" y1="907.4" x2="284.5" y2="956.7" stroke="#dcdcdc" stroke-width="1" />
<rect x="280" y="912.8" width="9" height="39.1" fill="#c01818" />
<line x1="297.5" y1="900.8" x2="297.5" y2="947.9" stroke="#dcdcdc" stroke-width="1" />
<rect x="293" y="902.9" width="9" height="44.2" fill="#007860" />
<line x1="310.5" y1="888.9" x2="310.5" y2="903.5" stroke="#dcdcdc" stroke-width="1" />
<rect x="306" y="889.6" width="9" height="12.6" fill="#007860" />
<line x1="323.5" y1="885.2" x2="323.5" y2="903.4" stroke="#dcdcdc" stroke-width="1" />
<rect x="319" y="888.2" width="9" height="10" fill="#c01818" />
<line x1="336.5" y1="889.6" x2="336.5" y2="930.1" stroke="#dcdcdc" stroke-width="1" />
<rect x="332" y="903.3" width="9" height="21.6" fill="#c01818" />
<line x1="350.5" y1="895.2" x2="350.5" y2="948.5" stroke="#dcdcdc" stroke-width="1" />
<rect x="346" y="914.9" width="9" height="1" fill="#dcdcdc" />
<line x1="363.5" y1="882.5" x2="363.5" y2="921.8" stroke="#dcdcdc" stroke-width="1" />
<rect x="359" y="887.2" width="9" height="28.4" fill="#007860" />
<line x1="376.5" y1="875.9" x2="376.5" y2="903" stroke="#dcdcdc" stroke-width="1" />
<rect x="372" y="887.3" width="9" height="9.1" fill="#c01818" />
<line x1="389.5" y1="877.5" x2="389.5" y2="912.2" stroke="#dcdcdc" stroke-width="1" />
<rect x="385" y="878.5" width="9" height="17" fill="#007860" />
<line x1="402.5" y1="865.6" x2="402.5" y2="887.2" stroke="#dcdcdc" stroke-width="1" />
<rect x="398" y="865.8" width="9" height="14.9" fill="#007860" />
<line x1="415.5" y1="835.3" x2="415.5" y2="861.8" stroke="#dcdcdc" stroke-width="1" />
<rect x="411" y="835.5" width="9" height="27.1" fill="#007860" />
<line x1="429.5" y1="818" x2="429.5" y2="839.9" stroke="#dcdcdc" stroke-width="1" />
<rect x="425" y="819.6" width="9" height="17.7" fill="#007860" />
<line x1="442.5" y1="817.2" x2="442.5" y2="838.4" stroke="#dcdcdc" stroke-width="1" />
<rect x="438" y="820.7" width="9" height="1" fill="#dcdcdc" />
<line x1="455.5" y1="810.4" x2="455.5" y2="822.6" stroke="#dcdcdc" stroke-width="1" />
<rect x="451" y="819.8" width="9" height="1.9" fill="#c01818" />
<line x1="468.5" y1="805" x2="468.5" y2="835.5" stroke="#dcdcdc" stroke-width="1" />
<rect x="464" y="806.5" width="9" height="12.1" fill="#007860" />
<line x1="481.5" y1="805.4" x2="481.5" y2="855.5" stroke="#dcdcdc" stroke-width="1" />
<rect x="477" y="807.7" width="9" height="16" fill="#c01818" />
<line x1="494.5" y1="818.7" x2="494.5" y2="854.3" stroke="#dcdcdc" stroke-width="1" />
<rect x="490" y="824" width="9" height="4.7" fill="#c01818" />
<line x1="508.5" y1="810.7" x2="508.5" y2="823.9" stroke="#dcdcdc" stroke-width="1" />
<rect x="504" y="814.4" width="9" height="10.3" fill="#007860" />
<line x1="521.5" y1="806.3" x2="521.5" y2="824.5" stroke="#dcdcdc" stroke-width="1" />
<rect x="517" y="807.3" width="9" height="4.5" fill="#007860" />
<line x1="534.5" y1="801.7" x2="534.5" y2="813.2" stroke="#dcdcdc" stroke-width="1" />
<rect x="530" y="802.4" width="9" height="5.8" fill="#007860" />
<line x1="547.5" y1="799.7" x2="547.5" y2="825.5" stroke="#dcdcdc" stroke-width="1" />
<rect x="543" y="802.1" width="9" height="23.6" fill="#c01818" />
<line x1="560.5" y1="791.6" x2="560.5" y2="823" stroke="#dcdcdc" stroke-width="1" />
<rect x="556" y="793.1" width="9" height="30.7" fill="#007860" />
<line x1="574.5" y1="772.2" x2="574.5" y2="794.8" stroke="#dcdcdc" stroke-width="1" />
<rect x="570" y="773.1" width="9" height="19.6" fill="#007860" />
<line x1="587.5" y1="767.7" x2="587.5" y2="790.7" stroke="#dcdcdc" stroke-width="1" />
<rect x="583" y="768.3" width="9" height="4.5" fill="#007860" />
<line x1="600.5" y1="761.6" x2="600.5" y2="781.4" stroke="#dcdcdc" stroke-width="1" />
<rect x="596" y="767.5" width="9" height="13.4" fill="#c01818" />
<line x1="613.5" y1="755.6" x2="613.5" y2="806.4" stroke="#dcdcdc" stroke-width="1" />
<rect x="609" y="756.5" width="9" height="33" fill="#007860" />
<line x1="626.5" y1="751.4" x2="626.5" y2="767.5" stroke="#dcdcdc" stroke-width="1" />
<rect x="622" y="757.1" width="9" height="4.8" fill="#c01818" />
<line x1="639.5" y1="748.4" x2="639.5" y2="767.3" stroke="#dcdcdc" stroke-width="1" />
<rect x="635" y="749.6" width="9" height="9.1" fill="#007860" />
<line x1="653.5" y1="740.7" x2="653.5" y2="753.9" stroke="#dcdcdc" stroke-width="1" />
<rect x="649" y="740.8" width="9" height="9.2" fill="#007860" />
<line x1="666.5" y1="737.4" x2="666.5" y2="768.8" stroke="#dcdcdc" stroke-width="1" />
<rect x="662" y="742.6" width="9" height="6.4" fill="#c01818" />
<line x1="679.5" y1="728.2" x2="679.5" y2="745.8" stroke="#dcdcdc" stroke-width="1" />
<rect x="675" y="729.3" width="9" height="17.3" fill="#007860" />
<line x1="692.5" y1="719.1" x2="692.5" y2="728.1" stroke="#dcdcdc" stroke-width="1" />
<rect x="688" y="722" width="9" height="6.8" fill="#007860" />
<line x1="705.5" y1="722" x2="705.5" y2="743.7" stroke="#dcdcdc" stroke-width="1" />
<rect x="701" y="722" width="9" height="22.2" fill="#c01818" />
<line x1="718.5" y1="733.9" x2="718.5" y2="752.1" stroke="#dcdcdc" stroke-width="1" />
<rect x="714" y="738.9" width="9" height="12.5" fill="#c01818" />
<line x1="732.5" y1="741.6" x2="732.5" y2="786.1" stroke="#dcdcdc" stroke-width="1" />
<rect x="728" y="744.3" width="9" height="15.5" fill="#007860" />
<line x1="745.5" y1="743.8" x2="745.5" y2="790.9" stroke="#dcdcdc" stroke-width="1" />
<rect x="741" y="748.1" width="9" height="24.5" fill="#c01818" />
<line x1="758.5" y1="751.4" x2="758.5" y2="793.6" stroke="#dcdcdc" stroke-width="1" />
<rect x="754" y="762.2" width="9" height="12.7" fill="#007860" />
<line x1="771.5" y1="738.7" x2="771.5" y2="779.4" stroke="#dcdcdc" stroke-width="1" />
<rect x="767" y="739.9" width="9" height="24.8" fill="#007860" />
<line x1="784.5" y1="715.3" x2="784.5" y2="746.6" stroke="#dcdcdc" stroke-width="1" />
<rect x="780" y="719.4" width="9" height="23.4" fill="#007860" />
<line x1="798.5" y1="701.8" x2="798.5" y2="721.5" stroke="#dcdcdc" stroke-width="1" />
<rect x="794" y="702.5" width="9" height="15.2" fill="#007860" />
<line x1="811.5" y1="671" x2="811.5" y2="705.4" stroke="#dcdcdc" stroke-width="1" />
<rect x="807" y="676.8" width="9" height="25" fill="#007860" />
<line x1="824.5" y1="672" x2="824.5" y2="695.4" stroke="#dcdcdc" stroke-width="1" />
<rect x="820" y="675.7" width="9" height="6" fill="#c01818" />
<line x1="837.5" y1="671.2" x2="837.5" y2="683.7" stroke="#dcdcdc" stroke-width="1" />
<rect x="833" y="676.7" width="9" height="3.2" fill="#007860" />
<line x1="850.5" y1="663.9" x2="850.5" y2="708.1" stroke="#dcdcdc" stroke-width="1" />
<rect x="846" y="672.8" width="9" height="33.5" fill="#c01818" />
<line x1="863.5" y1="683.7" x2="863.5" y2="733.3" stroke="#dcdcdc" stroke-width="1" />
<rect x="859" y="696" width="9" height="26" fill="#c01818" />
<line x1="877.5" y1="672.3" x2="877.5" y2="720.6" stroke="#dcdcdc" stroke-width="1" />
<rect x="873" y="672.8" width="9" height="46.4" fill="#007860" />
<line x1="890.5" y1="667.2" x2="890.5" y2="704" stroke="#dcdcdc" stroke-width="1" />
<rect x="886" y="673.3" width="9" height="25.8" fill="#c01818" />
<line x1="903.5" y1="664.8" x2="903.5" y2="723.2" stroke="#dcdcdc" stroke-width="1" />
<rect x="899" y="668.9" width="9" height="39.3" fill="#007860" />
<line x1="916.5" y1="645.7" x2="916.5" y2="666.6" stroke="#dcdcdc" stroke-width="1" />
<rect x="912" y="657.7" width="9" height="9.8" fill="#007860" />
<line x1="929.5" y1="643" x2="929.5" y2="686.5" stroke="#dcdcdc" stroke-width="1" />
<rect x="925" y="654.3" width="9" height="29" fill="#c01818" />
<line x1="942.5" y1="662.5" x2="942.5" y2="709" stroke="#dcdcdc" stroke-width="1" />
<rect x="938" y="686.5" width="9" height="2.9" fill="#007860" />
<line x1="956.5" y1="695" x2="956.5" y2="761.1" stroke="#dcdcdc" stroke-width="1" />
<rect x="952" y="695" width="9" height="66.2" fill="#c01818" />
<line x1="969.5" y1="745" x2="969.5" y2="809.3" stroke="#dcdcdc" stroke-width="1" />
<rect x="965" y="750.9" width="9" height="21.9" fill="#007860" />
<line x1="982.5" y1="705.3" x2="982.5" y2="755.9" stroke="#dcdcdc" stroke-width="1" />
<rect x="978" y="731.8" width="9" height="20" fill="#007860" />
<line x1="995.5" y1="706.8" x2="995.5" y2="759.4" stroke="#dcdcdc" stroke-width="1" />
<rect x="991" y="730.3" width="9" height="25.1" fill="#c01818" />
<line x1="1008.5" y1="734.8" x2="1008.5" y2="780.1" stroke="#dcdcdc" stroke-width="1" />
<rect x="1004" y="756.3" width="9" height="18.6" fill="#c01818" />
<line x1="1022.5" y1="763.9" x2="1022.5" y2="839.4" stroke="#dcdcdc" stroke-width="1" />
<rect x="1018" y="764.1" width="9" height="15.3" fill="#007860" />
<line x1="1035.5" y1="755.1" x2="1035.5" y2="793.4" stroke="#dcdcdc" stroke-width="1" />
<rect x="1031" y="772.6" width="9" height="7.9" fill="#c01818" />
<line x1="1048.5" y1="780.2" x2="1048.5" y2="827.3" stroke="#dcdcdc" stroke-width="1" />
<rect x="1044" y="780.2" width="9" height="35" fill="#c01818" />
<line x1="1061.5" y1="741.6" x2="1061.5" y2="826.3" stroke="#dcdcdc" stroke-width="1" />
<rect x="1057" y="742.2" width="9" height="73.4" fill="#007860" />
<line x1="1074.5" y1="719.1" x2="1074.5" y2="753" stroke="#dcdcdc" stroke-width="1" />
<rect x="1070" y="719.9" width="9" height="23.3" fill="#007860" />
<line x1="1087.5" y1="693.6" x2="1087.5" y2="729.8" stroke="#dcdcdc" stroke-width="1" />
<rect x="1083" y="719.1" width="9" height="2.1" fill="#007860" />
<line x1="1101.5" y1="705.8" x2="1101.5" y2="745.9" stroke="#dcdcdc" stroke-width="1" />
<rect x="1097" y="718.5" width="9" height="17.4" fill="#c01818" />
<line x1="1114.5" y1="740" x2="1114.5" y2="765" stroke="#dcdcdc" stroke-width="1" />
<rect x="1110" y="742.3" width="9" height="20.3" fill="#c01818" />
<line x1="1127.5" y1="728.3" x2="1127.5" y2="796.7" stroke="#dcdcdc" stroke-width="1" />
<rect x="1123" y="763.8" width="9" height="32.6" fill="#c01818" />
<line x1="1140.5" y1="785.3" x2="1140.5" y2="836.7" stroke="#dcdcdc" stroke-width="1" />
<rect x="1136" y="800.2" width="9" height="35.2" fill="#c01818" />
<line x1="1153.5" y1="785.6" x2="1153.5" y2="853.9" stroke="#dcdcdc" stroke-width="1" />
<rect x="1149" y="834.9" width="9" height="2.8" fill="#c01818" />
<line x1="1166.5" y1="848.7" x2="1166.5" y2="910.7" stroke="#dcdcdc" stroke-width="1" />
<rect x="1162" y="848.7" width="9" height="16.8" fill="#c01818" />
<line x1="1180.5" y1="846.1" x2="1180.5" y2="924.3" stroke="#dcdcdc" stroke-width="1" />
<rect x="1176" y="867.7" width="9" height="31.9" fill="#c01818" />
<line x1="1193.5" y1="827.2" x2="1193.5" y2="906.2" stroke="#dcdcdc" stroke-width="1" />
<rect x="1189" y="827.2" width="9" height="67.4" fill="#007860" />
<line x1="1206.5" y1="821.9" x2="1206.5" y2="850.8" stroke="#dcdcdc" stroke-width="1" />
<rect x="1202" y="829.2" width="9" height="12.7" fill="#c01818" />
<line x1="1219.5" y1="824.3" x2="1219.5" y2="899.2" stroke="#dcdcdc" stroke-width="1" />
<rect x="1215" y="833.8" width="9" height="66" fill="#c01818" />
<line x1="1232.5" y1="916.5" x2="1232.5" y2="972.7" stroke="#dcdcdc" stroke-width="1" />
<rect x="1228" y="916.5" width="9" height="46.4" fill="#c01818" />
<line x1="1246.5" y1="895.5" x2="1246.5" y2="950.8" stroke="#dcdcdc" stroke-width="1" />
<rect x="1242" y="896" width="9" height="55.6" fill="#007860" />
<line x1="1259.5" y1="886.5" x2="1259.5" y2="944.3" stroke="#dcdcdc" stroke-width="1" />
<rect x="1255" y="893.5" width="9" height="27.4" fill="#c01818" />
<line x1="1272.5" y1="894.1" x2="1272.5" y2="943.3" stroke="#dcdcdc" stroke-width="1" />
<rect x="1268" y="899.4" width="9" height="30.6" fill="#007860" />
<line x1="1285.5" y1="904.6" x2="1285.5" y2="949" stroke="#dcdcdc" stroke-width="1" />
<rect x="1281" y="904.6" width="9" height="5.8" fill="#c01818" />
<line x1="1298.5" y1="867.9" x2="1298.5" y2="922" stroke="#dcdcdc" stroke-width="1" />
<rect x="1294" y="882.1" width="9" height="22.5" fill="#007860" />
<line x1="1311.5" y1="832.3" x2="1311.5" y2="896.3" stroke="#dcdcdc" stroke-width="1" />
<rect x="1307" y="835" width="9" height="46.7" fill="#007860" />
<line x1="1325.5" y1="824.6" x2="1325.5" y2="849.1" stroke="#dcdcdc" stroke-width="1" />
<rect x="1321" y="830.9" width="9" height="10" fill="#007860" />
<line x1="1338.5" y1="793.1" x2="1338.5" y2="840.1" stroke="#dcdcdc" stroke-width="1" />
<rect x="1334" y="793.2" width="9" height="35.4" fill="#007860" />
<line x1="1351.5" y1="780.6" x2="1351.5" y2="810.4" stroke="#dcdcdc" stroke-width="1" />
<rect x="1347" y="796.2" width="9" height="12.2" fill="#c01818" />
<line x1="1364.5" y1="810.9" x2="1364.5" y2="859.7" stroke="#dcdcdc" stroke-width="1" />
<rect x="1360" y="817" width="9" height="39.1" fill="#c01818" />
<line x1="1377.5" y1="853.8" x2="1377.5" y2="898.3" stroke="#dcdcdc" stroke-width="1" />
<rect x="1373" y="861.7" width="9" height="31.6" fill="#c01818" />
<line x1="1390.5" y1="850" x2="1390.5" y2="903" stroke="#dcdcdc" stroke-width="1" />
<rect x="1386" y="852.6" width="9" height="38.9" fill="#007860" />
<line x1="1404.5" y1="838.1" x2="1404.5" y2="916.8" stroke="#dcdcdc" stroke-width="1" />
<rect x="1400" y="848" width="9" height="59.5" fill="#c01818" />
<line x1="1417.5" y1="897.3" x2="1417.5" y2="969.7" stroke="#dcdcdc" stroke-width="1" />
<rect x="1413" y="913.2" width="9" height="44.5" fill="#c01818" />
<line x1="1430.5" y1="944.8" x2="1430.5" y2="987.4" stroke="#dcdcdc" stroke-width="1" />
<rect x="1426" y="959.9" width="9" height="27.9" fill="#c01818" />
<line x1="1443.5" y1="925.2" x2="1443.5" y2="981.6" stroke="#dcdcdc" stroke-width="1" />
<rect x="1439" y="971.9" width="9" height="9.1" fill="#007860" />
<line x1="1456.5" y1="951.7" x2="1456.5" y2="1013.2" stroke="#dcdcdc" stroke-width="1" />
<rect x="1452" y="969.7" width="9" height="18.8" fill="#c01818" />
<line x1="1470.5" y1="937.5" x2="1470.5" y2="972.2" stroke="#dcdcdc" stroke-width="1" />
<rect x="1466" y="940.3" width="9" height="32.6" fill="#007860" />
<line x1="1483.5" y1="897.8" x2="1483.5" y2="943.4" stroke="#dcdcdc" stroke-width="1" />
<rect x="1479" y="899" width="9" height="39.6" fill="#007860" />
<line x1="1496.5" y1="896" x2="1496.5" y2="955.6" stroke="#dcdcdc" stroke-width="1" />
<rect x="1492" y="904.3" width="9" height="31.8" fill="#c01818" />
<line x1="1509.5" y1="871" x2="1509.5" y2="942.7" stroke="#dcdcdc" stroke-width="1" />
<rect x="1505" y="873.4" width="9" height="60" fill="#007860" />
<line x1="1522.5" y1="863.3" x2="1522.5" y2="897.4" stroke="#dcdcdc" stroke-width="1" />
<rect x="1518" y="877.5" width="9" height="4.3" fill="#c01818" />
<line x1="1535.5" y1="861.9" x2="1535.5" y2="890" stroke="#dcdcdc" stroke-width="1" />
<rect x="1531" y="864.1" width="9" height="20.3" fill="#007860" />
<line x1="1549.5" y1="843.3" x2="1549.5" y2="888.8" stroke="#dcdcdc" stroke-width="1" />
<rect x="1545" y="851.4" width="9" height="19.3" fill="#007860" />
<line x1="1562.5" y1="856.8" x2="1562.5" y2="894.1" stroke="#dcdcdc" stroke-width="1" />
<rect x="1558" y="856.9" width="9" height="33.6" fill="#c01818" />
<line x1="1575.5" y1="843.2" x2="1575.5" y2="919.4" stroke="#dcdcdc" stroke-width="1" />
<rect x="1571" y="888.3" width="9" height="25" fill="#c01818" />
<line x1="1588.5" y1="902.1" x2="1588.5" y2="937.1" stroke="#dcdcdc" stroke-width="1" />
<rect x="1584" y="912.2" width="9" height="3.3" fill="#c01818" />
<line x1="1601.5" y1="910.9" x2="1601.5" y2="932.5" stroke="#dcdcdc" stroke-width="1" />
<rect x="1597" y="915.1" width="9" height="1.9" fill="#c01818" />
<line x1="1614.5" y1="897.5" x2="1614.5" y2="928.7" stroke="#dcdcdc" stroke-width="1" />
<rect x="1610" y="900.6" width="9" height="12.5" fill="#007860" />
<line x1="1628.5" y1="870.3" x2="1628.5" y2="901.9" stroke="#dcdcdc" stroke-width="1" />
<rect x="1624" y="871.6" width="9" height="25.4" fill="#007860" />
<line x1="1641.5" y1="867.1" x2="1641.5" y2="903.3" stroke="#dcdcdc" stroke-width="1" />
<rect x="1637" y="871.6" width="9" height="8.2" fill="#c01818" />
<line x1="1654.5" y1="845.1" x2="1654.5" y2="885.6" stroke="#dcdcdc" stroke-width="1" />
<rect x="1650" y="851.7" width="9" height="26.6" fill="#007860" />
<line x1="1667.5" y1="816.9" x2="1667.5" y2="867" stroke="#dcdcdc" stroke-width="1" />
<rect x="1663" y="833.3" width="9" height="25.1" fill="#007860" />
<line x1="1680.5" y1="822.1" x2="1680.5" y2="854.4" stroke="#dcdcdc" stroke-width="1" />
<rect x="1676" y="838" width="9" height="8.9" fill="#c01818" />
<line x1="1694.5" y1="826.8" x2="1694.5" y2="858" stroke="#dcdcdc" stroke-width="1" />
<rect x="1690" y="844.4" width="9" height="5.7" fill="#c01818" />
<line x1="1707.5" y1="856.8" x2="1707.5" y2="887.3" stroke="#dcdcdc" stroke-width="1" />
<rect x="1703" y="856.8" width="9" height="23.8" fill="#c01818" />
<line x1="1720.5" y1="857.9" x2="1720.5" y2="891.4" stroke="#dcdcdc" stroke-width="1" />
<rect x="1716" y="858.6" width="9" height="15.7" fill="#007860" />
<line x1="1733.5" y1="849.5" x2="1733.5" y2="914.2" stroke="#dcdcdc" stroke-width="1" />
<rect x="1729" y="856" width="9" height="54.8" fill="#c01818" />
<line x1="1746.5" y1="881.3" x2="1746.5" y2="924.7" stroke="#dcdcdc" stroke-width="1" />
<rect x="1742" y="894.6" width="9" height="23.5" fill="#007860" />
<line x1="1759.5" y1="860.4" x2="1759.5" y2="898.9" stroke="#dcdcdc" stroke-width="1" />
<rect x="1755" y="879.5" width="9" height="15.7" fill="#007860" />
<line x1="1773.5" y1="840.5" x2="1773.5" y2="884.9" stroke="#dcdcdc" stroke-width="1" />
<rect x="1769" y="840.9" width="9" height="36.1" fill="#007860" />
<line x1="1786.5" y1="834.2" x2="1786.5" y2="851.9" stroke="#dcdcdc" stroke-width="1" />
<rect x="1782" y="842" width="9" height="1" fill="#dcdcdc" />
<line x1="1799.5" y1="825.9" x2="1799.5" y2="851.1" stroke="#dcdcdc" stroke-width="1" />
<rect x="1795" y="833" width="9" height="15.4" fill="#007860" />
<line x1="1812.5" y1="824.1" x2="1812.5" y2="839.8" stroke="#dcdcdc" stroke-width="1" />
<rect x="1808" y="833.1" width="9" height="1.8" fill="#c01818" />
<line x1="1825.5" y1="823.9" x2="1825.5" y2="857.6" stroke="#dcdcdc" stroke-width="1" />
<rect x="1821" y="824.1" width="9" height="11.2" fill="#007860" />
<line x1="1839.5" y1="819.2" x2="1839.5" y2="857.9" stroke="#dcdcdc" stroke-width="1" />
<rect x="1835" y="824.9" width="9" height="9.3" fill="#c01818" />
<line x1="1852.5" y1="828.3" x2="1852.5" y2="843.8" stroke="#dcdcdc" stroke-width="1" />
<rect x="1848" y="833.2" width="9" height="4.4" fill="#c01818" />
<line x1="1865.5" y1="812" x2="1865.5" y2="840.7" stroke="#dcdcdc" stroke-width="1" />
<rect x="1861" y="817.8" width="9" height="19" fill="#007860" />
<line x1="1878.5" y1="812" x2="1878.5" y2="842.4" stroke="#dcdcdc" stroke-width="1" />
<rect x="1874" y="814.1" width="9" height="4.9" fill="#007860" />
<line x1="1891.5" y1="790.3" x2="1891.5" y2="825" stroke="#dcdcdc" stroke-width="1" />
<rect x="1887" y="792.6" width="9" height="16.3" fill="#007860" />
<line x1="1904.5" y1="781.4" x2="1904.5" y2="798.6" stroke="#dcdcdc" stroke-width="1" />
<rect x="1900" y="788" width="9" height="5.2" fill="#007860" />
<line x1="1918.5" y1="746.3" x2="1918.5" y2="786.5" stroke="#dcdcdc" stroke-width="1" />
<rect x="1914" y="757.1" width="9" height="29" fill="#007860" />
<line x1="1931.5" y1="759.8" x2="1931.5" y2="776.2" stroke="#dcdcdc" stroke-width="1" />
<rect x="1927" y="760.9" width="9" height="14.1" fill="#c01818" />
<line x1="1944.5" y1="743.5" x2="1944.5" y2="779.9" stroke="#dcdcdc" stroke-width="1" />
<rect x="1940" y="745.8" width="9" height="30.2" fill="#007860" />
<line x1="1957.5" y1="744.1" x2="1957.5" y2="764" stroke="#dcdcdc" stroke-width="1" />
<rect x="1953" y="745.7" width="9" height="15.2" fill="#c01818" />
<line x1="1970.5" y1="724.2" x2="1970.5" y2="762.6" stroke="#dcdcdc" stroke-width="1" />
<rect x="1966" y="730.4" width="9" height="31.8" fill="#007860" />
<line x1="1983.5" y1="710" x2="1983.5" y2="730.5" stroke="#dcdcdc" stroke-width="1" />
<rect x="1979" y="721.8" width="9" height="8.5" fill="#007860" />
<line x1="1997.5" y1="702" x2="1997.5" y2="723.9" stroke="#dcdcdc" stroke-width="1" />
<rect x="1993" y="709" width="9" height="11.6" fill="#007860" />
<line x1="2010.5" y1="705.6" x2="2010.5" y2="739" stroke="#dcdcdc" stroke-width="1" />
<rect x="2006" y="708.3" width="9" height="30.6" fill="#c01818" />
<line x1="2023.5" y1="724.3" x2="2023.5" y2="747.5" stroke="#dcdcdc" stroke-width="1" />
<rect x="2019" y="734.3" width="9" height="8.5" fill="#c01818" />
<line x1="2036.5" y1="734.6" x2="2036.5" y2="777.9" stroke="#dcdcdc" stroke-width="1" />
<rect x="2032" y="743.6" width="9" height="25.5" fill="#c01818" />
<line x1="2049.5" y1="743.5" x2="2049.5" y2="772" stroke="#dcdcdc" stroke-width="1" />
<rect x="2045" y="758.2" width="9" height="7.9" fill="#007860" />
<line x1="2063.5" y1="720.4" x2="2063.5" y2="755.6" stroke="#dcdcdc" stroke-width="1" />
<rect x="2059" y="727.5" width="9" height="25.8" fill="#007860" />
<line x1="2076.5" y1="727.9" x2="2076.5" y2="751.3" stroke="#dcdcdc" stroke-width="1" />
<rect x="2072" y="729.1" width="9" height="15.5" fill="#c01818" />
<line x1="2089.5" y1="728.6" x2="2089.5" y2="746.6" stroke="#dcdcdc" stroke-width="1" />
<rect x="2085" y="737.2" width="9" height="9.4" fill="#c01818" />
<line x1="2102.5" y1="741.3" x2="2102.5" y2="783.1" stroke="#dcdcdc" stroke-width="1" />
<rect x="2098" y="747.2" width="9" height="35.7" fill="#c01818" />
<line x1="2115.5" y1="777" x2="2115.5" y2="804.8" stroke="#dcdcdc" stroke-width="1" />
<rect x="2111" y="784.7" width="9" height="7.1" fill="#c01818" />
<line x1="2128.5" y1="781" x2="2128.5" y2="811" stroke="#dcdcdc" stroke-width="1" />
<rect x="2124" y="785.3" width="9" height="7.5" fill="#007860" />
<line x1="2142.5" y1="763.8" x2="2142.5" y2="792.2" stroke="#dcdcdc" stroke-width="1" />
<rect x="2138" y="780" width="9" height="11.6" fill="#007860" />
<line x1="2155.5" y1="761.6" x2="2155.5" y2="809.2" stroke="#dcdcdc" stroke-width="1" />
<rect x="2151" y="775.9" width="9" height="33.8" fill="#c01818" />
<line x1="2168.5" y1="799" x2="2168.5" y2="842.4" stroke="#dcdcdc" stroke-width="1" />
<rect x="2164" y="812.7" width="9" height="26.7" fill="#c01818" />
<line x1="2181.5" y1="767.2" x2="2181.5" y2="834.3" stroke="#dcdcdc" stroke-width="1" />
<rect x="2177" y="771.4" width="9" height="61.9" fill="#007860" />
<line x1="2194.5" y1="754.8" x2="2194.5" y2="775.4" stroke="#dcdcdc" stroke-width="1" />
<rect x="2190" y="755.6" width="9" height="15" fill="#007860" />
<line x1="2207.5" y1="726" x2="2207.5" y2="761.5" stroke="#dcdcdc" stroke-width="1" />
<rect x="2203" y="728" width="9" height="30.7" fill="#007860" />
<line x1="2221.5" y1="712.8" x2="2221.5" y2="729" stroke="#dcdcdc" stroke-width="1" />
<rect x="2217" y="715.4" width="9" height="14.1" fill="#007860" />
<line x1="2234.5" y1="704.2" x2="2234.5" y2="721.5" stroke="#dcdcdc" stroke-width="1" />
<rect x="2230" y="705.5" width="9" height="11.9" fill="#007860" />
<line x1="2247.5" y1="701.4" x2="2247.5" y2="718.9" stroke="#dcdcdc" stroke-width="1" />
<rect x="2243" y="702.8" width="9" height="12" fill="#007860" />
<line x1="2260.5" y1="665.4" x2="2260.5" y2="705.9" stroke="#dcdcdc" stroke-width="1" />
<rect x="2256" y="670.8" width="9" height="35.9" fill="#007860" />
<line x1="2273.5" y1="654.4" x2="2273.5" y2="676.7" stroke="#dcdcdc" stroke-width="1" />
<rect x="2269" y="660.9" width="9" height="8.9" fill="#007860" />
<line x1="2287.5" y1="650.1" x2="2287.5" y2="661.6" stroke="#dcdcdc" stroke-width="1" />
<rect x="2283" y="656.7" width="9" height="3.9" fill="#007860" />
<line x1="2300.5" y1="661" x2="2300.5" y2="681.1" stroke="#dcdcdc" stroke-width="1" />
<rect x="2296" y="663.5" width="9" height="14.2" fill="#c01818" />
<line x1="2313.5" y1="647.6" x2="2313.5" y2="676.2" stroke="#dcdcdc" stroke-width="1" />
<rect x="2309" y="652.7" width="9" height="23.2" fill="#007860" />
<line x1="2326.5" y1="636.5" x2="2326.5" y2="672" stroke="#dcdcdc" stroke-width="1" />
<rect x="2322" y="637.1" width="9" height="19.6" fill="#007860" />
<line x1="2339.5" y1="618.5" x2="2339.5" y2="635.9" stroke="#dcdcdc" stroke-width="1" />
<rect x="2335" y="622.9" width="9" height="11.3" fill="#007860" />
<line x1="2352.5" y1="599.3" x2="2352.5" y2="635.6" stroke="#dcdcdc" stroke-width="1" />
<rect x="2348" y="604" width="9" height="19.1" fill="#007860" />
<line x1="2366.5" y1="584.1" x2="2366.5" y2="615.3" stroke="#dcdcdc" stroke-width="1" />
<rect x="2362" y="585" width="9" height="20.2" fill="#007860" />
<line x1="2379.5" y1="579" x2="2379.5" y2="614.7" stroke="#dcdcdc" stroke-width="1" />
<rect x="2375" y="585" width="9" height="6.7" fill="#c01818" />
<line x1="2392.5" y1="561.5" x2="2392.5" y2="607.5" stroke="#dcdcdc" stroke-width="1" />
<rect x="2388" y="567.7" width="9" height="28.5" fill="#007860" />
<line x1="2405.5" y1="553.3" x2="2405.5" y2="576.5" stroke="#dcdcdc" stroke-width="1" />
<rect x="2401" y="554.2" width="9" height="13.1" fill="#007860" />
<line x1="2418.5" y1="539.7" x2="2418.5" y2="576.6" stroke="#dcdcdc" stroke-width="1" />
<rect x="2414" y="555.9" width="9" height="2.8" fill="#c01818" />
<line x1="2431.5" y1="542.3" x2="2431.5" y2="567" stroke="#dcdcdc" stroke-width="1" />
<rect x="2427" y="559.8" width="9" height="2.2" fill="#007860" />
<line x1="2445.5" y1="519.6" x2="2445.5" y2="555.7" stroke="#dcdcdc" stroke-width="1" />
<rect x="2441" y="527.1" width="9" height="22.9" fill="#007860" />
<line x1="2458.5" y1="518.6" x2="2458.5" y2="535.7" stroke="#dcdcdc" stroke-width="1" />
<rect x="2454" y="521.5" width="9" height="10.5" fill="#007860" />
<line x1="2471.5" y1="518.8" x2="2471.5" y2="551.7" stroke="#dcdcdc" stroke-width="1" />
<rect x="2467" y="520.5" width="9" height="15.8" fill="#c01818" />
<line x1="2484.5" y1="529.7" x2="2484.5" y2="562.3" stroke="#dcdcdc" stroke-width="1" />
<rect x="2480" y="533.5" width="9" height="25.3" fill="#c01818" />
<line x1="2497.5" y1="545.5" x2="2497.5" y2="605.4" stroke="#dcdcdc" stroke-width="1" />
<rect x="2493" y="550.7" width="9" height="51.7" fill="#c01818" />
<line x1="2511.5" y1="560.5" x2="2511.5" y2="601" stroke="#dcdcdc" stroke-width="1" />
<rect x="2507" y="564.6" width="9" height="32.2" fill="#007860" />
<line x1="2524.5" y1="553.6" x2="2524.5" y2="589.4" stroke="#dcdcdc" stroke-width="1" />
<rect x="2520" y="556.8" width="9" height="4.6" fill="#007860" />
<line x1="2537.5" y1="525.6" x2="2537.5" y2="552.7" stroke="#dcdcdc" stroke-width="1" />
<rect x="2533" y="530.3" width="9" height="23.2" fill="#007860" />
<line x1="2550.5" y1="501.7" x2="2550.5" y2="533.6" stroke="#dcdcdc" stroke-width="1" />
<rect x="2546" y="507.9" width="9" height="20.4" fill="#007860" />
<line x1="2563.5" y1="497.1" x2="2563.5" y2="520.8" stroke="#dcdcdc" stroke-width="1" />
<rect x="2559" y="506.9" width="9" height="1" fill="#dcdcdc" />
<line x1="2576.5" y1="504.3" x2="2576.5" y2="539" stroke="#dcdcdc" stroke-width="1" />
<rect x="2572" y="504.3" width="9" height="11.5" fill="#c01818" />
<line x1="2590.5" y1="487.8" x2="2590.5" y2="527.1" stroke="#dcdcdc" stroke-width="1" />
<rect x="2586" y="495.7" width="9" height="14.7" fill="#007860" />
<line x1="2603.5" y1="467.7" x2="2603.5" y2="501.2" stroke="#dcdcdc" stroke-width="1" />
<rect x="2599" y="472.1" width="9" height="26" fill="#007860" />
<line x1="2616.5" y1="451.4" x2="2616.5" y2="475.2" stroke="#dcdcdc" stroke-width="1" />
<rect x="2612" y="462.9" width="9" height="10.1" fill="#007860" />
<line x1="2629.5" y1="446.4" x2="2629.5" y2="467.9" stroke="#dcdcdc" stroke-width="1" />
<rect x="2625" y="463.6" width="9" height="1" fill="#dcdcdc" />
<line x1="2642.5" y1="433.4" x2="2642.5" y2="467.9" stroke="#dcdcdc" stroke-width="1" />
<rect x="2638" y="434.2" width="9" height="27.6" fill="#007860" />
<line x1="2655.5" y1="409.6" x2="2655.5" y2="435.5" stroke="#dcdcdc" stroke-width="1" />
<rect x="2651" y="420.8" width="9" height="12.7" fill="#007860" />
<line x1="2669.5" y1="405.7" x2="2669.5" y2="453.8" stroke="#dcdcdc" stroke-width="1" />
<rect x="2665" y="414.4" width="9" height="37.9" fill="#c01818" />
<line x1="2682.5" y1="429.2" x2="2682.5" y2="483.4" stroke="#dcdcdc" stroke-width="1" />
<rect x="2678" y="440.6" width="9" height="24.6" fill="#c01818" />
<line x1="2695.5" y1="434.5" x2="2695.5" y2="508.2" stroke="#dcdcdc" stroke-width="1" />
<rect x="2691" y="459.5" width="9" height="37.1" fill="#c01818" />
<line x1="2708.5" y1="492.4" x2="2708.5" y2="559.2" stroke="#dcdcdc" stroke-width="1" />
<rect x="2704" y="496.5" width="9" height="54.6" fill="#007860" />
<line x1="2721.5" y1="434.5" x2="2721.5" y2="502" stroke="#dcdcdc" stroke-width="1" />
<rect x="2717" y="437.9" width="9" height="57.2" fill="#007860" />
<line x1="2735.5" y1="413" x2="2735.5" y2="437.9" stroke="#dcdcdc" stroke-width="1" />
<rect x="2731" y="415.4" width="9" height="22.4" fill="#007860" />
<line x1="2748.5" y1="410.7" x2="2748.5" y2="436" stroke="#dcdcdc" stroke-width="1" />
<rect x="2744" y="411.6" width="9" height="3.2" fill="#007860" />
<line x1="2761.5" y1="418.4" x2="2761.5" y2="480.1" stroke="#dcdcdc" stroke-width="1" />
<rect x="2757" y="418.4" width="9" height="60.9" fill="#c01818" />
<line x1="2774.5" y1="415" x2="2774.5" y2="478.9" stroke="#dcdcdc" stroke-width="1" />
<rect x="2770" y="417.8" width="9" height="52.1" fill="#007860" />
<line x1="2787.5" y1="387.8" x2="2787.5" y2="423.8" stroke="#dcdcdc" stroke-width="1" />
<rect x="2783" y="396.5" width="9" height="25.2" fill="#007860" />
<line x1="2800.5" y1="378.4" x2="2800.5" y2="397.5" stroke="#dcdcdc" stroke-width="1" />
<rect x="2796" y="386.6" width="9" height="8.1" fill="#007860" />
<line x1="2814.5" y1="379" x2="2814.5" y2="404.5" stroke="#dcdcdc" stroke-width="1" />
<rect x="2810" y="383" width="9" height="7.6" fill="#007860" />
<line x1="2827.5" y1="363.1" x2="2827.5" y2="400.9" stroke="#dcdcdc" stroke-width="1" />
<rect x="2823" y="365.1" width="9" height="22.3" fill="#007860" />
<line x1="2840.5" y1="347.4" x2="2840.5" y2="368.7" stroke="#dcdcdc" stroke-width="1" />
<rect x="2836" y="351.3" width="9" height="10.5" fill="#007860" />
<line x1="2853.5" y1="350.6" x2="2853.5" y2="379.8" stroke="#dcdcdc" stroke-width="1" />
<rect x="2849" y="353.2" width="9" height="14.7" fill="#c01818" />
<line x1="2866.5" y1="351.8" x2="2866.5" y2="396.4" stroke="#dcdcdc" stroke-width="1" />
<rect x="2862" y="359.8" width="9" height="30.1" fill="#c01818" />
<line x1="2879.5" y1="310" x2="2879.5" y2="398.2" stroke="#dcdcdc" stroke-width="1" />
<rect x="2875" y="314.8" width="9" height="76.2" fill="#007860" />
<line x1="2893.5" y1="308.7" x2="2893.5" y2="354.5" stroke="#dcdcdc" stroke-width="1" />
<rect x="2889" y="311" width="9" height="39.4" fill="#c01818" />
<line x1="2906.5" y1="321.1" x2="2906.5" y2="353.9" stroke="#dcdcdc" stroke-width="1" />
<rect x="2902" y="322.1" width="9" height="27.3" fill="#007860" />
<line x1="2919.5" y1="301.2" x2="2919.5" y2="323.6" stroke="#dcdcdc" stroke-width="1" />
<rect x="2915" y="304.5" width="9" height="12" fill="#007860" />
<line x1="2932.5" y1="285.6" x2="2932.5" y2="304.2" stroke="#dcdcdc" stroke-width="1" />
<rect x="2928" y="288.3" width="9" height="14.8" fill="#007860" />
<line x1="2945.5" y1="287.7" x2="2945.5" y2="305.2" stroke="#dcdcdc" stroke-width="1" />
<rect x="2941" y="290.4" width="9" height="9.7" fill="#c01818" />
<line x1="2959.5" y1="289.8" x2="2959.5" y2="360.3" stroke="#dcdcdc" stroke-width="1" />
<rect x="2955" y="295.7" width="9" height="37.9" fill="#c01818" />
<line x1="2972.5" y1="299.6" x2="2972.5" y2="340.7" stroke="#dcdcdc" stroke-width="1" />
<rect x="2968" y="321.7" width="9" height="9.3" fill="#007860" />
<line x1="2985.5" y1="327.7" x2="2985.5" y2="361.1" stroke="#dcdcdc" stroke-width="1" />
<rect x="2981" y="329.6" width="9" height="6.9" fill="#007860" />
<line x1="2998.5" y1="307.7" x2="2998.5" y2="367.1" stroke="#dcdcdc" stroke-width="1" />
<rect x="2994" y="318.3" width="9" height="44.2" fill="#c01818" />
<line x1="3011.5" y1="309.3" x2="3011.5" y2="376.8" stroke="#dcdcdc" stroke-width="1" />
<rect x="3007" y="314.5" width="9" height="60.7" fill="#007860" />
<line x1="3024.5" y1="277.8" x2="3024.5" y2="311.6" stroke="#dcdcdc" stroke-width="1" />
<rect x="3020" y="285.3" width="9" height="25.1" fill="#007860" />
<line x1="3038.5" y1="279.8" x2="3038.5" y2="323.9" stroke="#dcdcdc" stroke-width="1" />
<rect x="3034" y="302.2" width="9" height="20.7" fill="#007860" />
<line x1="3051.5" y1="285.3" x2="3051.5" y2="334.7" stroke="#dcdcdc" stroke-width="1" />
<rect x="3047" y="306.3" width="9" height="16.5" fill="#007860" />
<line x1="3064.5" y1="278" x2="3064.5" y2="312.7" stroke="#dcdcdc" stroke-width="1" />
<rect x="3060" y="281.5" width="9" height="19.8" fill="#007860" />
<line x1="3077.5" y1="272.4" x2="3077.5" y2="311.1" stroke="#dcdcdc" stroke-width="1" />
<rect x="3073" y="279.6" width="9" height="31.1" fill="#c01818" />
<line x1="3090.5" y1="301.3" x2="3090.5" y2="358.8" stroke="#dcdcdc" stroke-width="1" />
<rect x="3086" y="306.1" width="9" height="20.9" fill="#c01818" />
<line x1="3103.5" y1="317.4" x2="3103.5" y2="406.6" stroke="#dcdcdc" stroke-width="1" />
<rect x="3099" y="322.4" width="9" height="56.1" fill="#c01818" />
<line x1="3117.5" y1="395.7" x2="3117.5" y2="451.7" stroke="#dcdcdc" stroke-width="1" />
<rect x="3113" y="395.7" width="9" height="19.3" fill="#c01818" />
<line x1="3130.5" y1="392.9" x2="3130.5" y2="425.7" stroke="#dcdcdc" stroke-width="1" />
<rect x="3126" y="406.2" width="9" height="9.7" fill="#007860" />
<line x1="3143.5" y1="372.9" x2="3143.5" y2="432.8" stroke="#dcdcdc" stroke-width="1" />
<rect x="3139" y="392.2" width="9" height="39.1" fill="#c01818" />
<line x1="3156.5" y1="398.5" x2="3156.5" y2="573" stroke="#dcdcdc" stroke-width="1" />
<rect x="3152" y="445.2" width="9" height="127.4" fill="#c01818" />
<line x1="3169.5" y1="458.2" x2="3169.5" y2="638.5" stroke="#dcdcdc" stroke-width="1" />
<rect x="3165" y="491.1" width="9" height="115" fill="#007860" />
<line x1="3183.5" y1="464.3" x2="3183.5" y2="530.9" stroke="#dcdcdc" stroke-width="1" />
<rect x="3179" y="469.2" width="9" height="45.2" fill="#c01818" />
<line x1="3196.5" y1="445.1" x2="3196.5" y2="564.1" stroke="#dcdcdc" stroke-width="1" />
<rect x="3192" y="446" width="9" height="82.3" fill="#007860" />
<line x1="3209.5" y1="397" x2="3209.5" y2="471.6" stroke="#dcdcdc" stroke-width="1" />
<rect x="3205" y="400.9" width="9" height="44.7" fill="#007860" />
<line x1="3222.5" y1="391.6" x2="3222.5" y2="431" stroke="#dcdcdc" stroke-width="1" />
<rect x="3218" y="408.4" width="9" height="2.1" fill="#007860" />
<line x1="3235.5" y1="325.1" x2="3235.5" y2="373.2" stroke="#dcdcdc" stroke-width="1" />
<rect x="3231" y="325.1" width="9" height="43" fill="#007860" />
<line x1="3248.5" y1="322.3" x2="3248.5" y2="378.4" stroke="#dcdcdc" stroke-width="1" />
<rect x="3244" y="340.6" width="9" height="28.7" fill="#c01818" />
<line x1="3262.5" y1="329.4" x2="3262.5" y2="357.1" stroke="#dcdcdc" stroke-width="1" />
<rect x="3258" y="338.2" width="9" height="16.9" fill="#007860" />
<line x1="3275.5" y1="308.8" x2="3275.5" y2="352.2" stroke="#dcdcdc" stroke-width="1" />
<rect x="3271" y="313.4" width="9" height="29.7" fill="#007860" />
<line x1="3288.5" y1="297" x2="3288.5" y2="323.8" stroke="#dcdcdc" stroke-width="1" />
<rect x="3284" y="312.2" width="9" height="8.5" fill="#c01818" />
<line x1="3301.5" y1="299.3" x2="3301.5" y2="326.8" stroke="#dcdcdc" stroke-width="1" />
<rect x="3297" y="312.4" width="9" height="10.9" fill="#c01818" />
<line x1="3314.5" y1="261.2" x2="3314.5" y2="329.4" stroke="#dcdcdc" stroke-width="1" />
<rect x="3310" y="265.2" width="9" height="57.5" fill="#007860" />
<line x1="3328.5" y1="234.1" x2="3328.5" y2="263.9" stroke="#dcdcdc" stroke-width="1" />
<rect x="3324" y="235.6" width="9" height="24.8" fill="#007860" />
<line x1="3341.5" y1="232.6" x2="3341.5" y2="257.5" stroke="#dcdcdc" stroke-width="1" />
<rect x="3337" y="240.7" width="9" height="1" fill="#dcdcdc" />
<line x1="3354.5" y1="225.5" x2="3354.5" y2="257.3" stroke="#dcdcdc" stroke-width="1" />
<rect x="3350" y="230.7" width="9" height="12.4" fill="#007860" />
<line x1="3367.5" y1="203.1" x2="3367.5" y2="234.9" stroke="#dcdcdc" stroke-width="1" />
<rect x="3363" y="205.1" width="9" height="24.2" fill="#007860" />
<line x1="3380.5" y1="194.4" x2="3380.5" y2="254.2" stroke="#dcdcdc" stroke-width="1" />
<rect x="3376" y="202.6" width="9" height="45.3" fill="#c01818" />
<line x1="3393.5" y1="203.3" x2="3393.5" y2="237.7" stroke="#dcdcdc" stroke-width="1" />
<rect x="3389" y="204.9" width="9" height="33.6" fill="#007860" />
<line x1="3407.5" y1="179.3" x2="3407.5" y2="212" stroke="#dcdcdc" stroke-width="1" />
<rect x="3403" y="188.1" width="9" height="17.6" fill="#007860" />
<line x1="3420.5" y1="179.9" x2="3420.5" y2="217.6" stroke="#dcdcdc" stroke-width="1" />
<rect x="3416" y="183.3" width="9" height="6.9" fill="#007860" />
<line x1="3433.5" y1="171.8" x2="3433.5" y2="193.8" stroke="#dcdcdc" stroke-width="1" />
<rect x="3429" y="185" width="9" height="1" fill="#dcdcdc" />
<line x1="3446.5" y1="176.4" x2="3446.5" y2="189.5" stroke="#dcdcdc" stroke-width="1" />
<rect x="3442" y="177" width="9" height="8.9" fill="#c01818" />
</g>
<g clip-path="url(#cpMain)">
<polygon points="-5.8,1007.9 7.4,998.7 20.6,996.5 33.8,997.6 46.9,997.8 60.1,1001.2 73.3,997.2 86.5,991.9 99.6,986.1 112.8,989.7 126,985.4 139.2,983.5 152.3,980.2 165.5,971.7 178.7,960 191.9,953.6 205.1,944.7 218.2,936.4 231.4,926.1 244.6,913 257.8,904.9 270.9,893.7 284.1,891.1 297.3,882.5 310.5,874.6 323.6,869.4 336.8,866.6 350,863.6 363.2,857.9 376.4,868.1 389.5,864.8 402.7,858 415.9,847 429.1,832 442.2,819.2 455.4,809.7 468.6,798.1 481.8,792.4 494.9,787.9 508.1,781 521.3,775.5 534.5,769.1 547.7,772.2 560.8,766.1 574,756.6 587.2,748.4 600.4,748.3 613.5,745.3 626.7,741.4 639.9,739.4 653.1,735.3 666.3,733.3 679.4,725 692.6,715.6 705.8,711.9 719,710 732.1,707.1 745.3,708.6 758.5,711.2 771.7,710.7 784.8,707 798,700.5 811.2,693.3 824.4,684.9 837.6,675.6 850.7,672.9 863.9,673.8 877.1,665.7 890.3,663.7 903.4,656.6 916.6,648 929.8,645.1 943,642.7 956.1,641.1 969.3,640.7 982.5,641.4 995.7,640.8 1008.9,640.5 1022,640.3 1035.2,637.2 1048.4,630.1 1061.6,631.7 1074.7,636.1 1087.9,640.1 1101.1,645.8 1114.3,647.9 1127.4,646.9 1140.6,649.2 1153.8,649.6 1167,654.2 1180.2,660 1193.3,672.4 1206.5,685.4 1219.7,681.6 1232.9,671.6 1246,678.1 1259.2,681 1272.4,684.7 1285.6,690.4 1298.7,696.2 1311.9,697.6 1325.1,709.1 1338.3,722.8 1351.5,740.1 1364.6,759.7 1377.8,775.7 1391,784.1 1404.2,787.4 1417.3,786.9 1430.5,781.2 1443.7,777.7 1456.9,780.8 1470,786.8 1483.2,786.8 1496.4,787.9 1509.6,786.3 1522.8,784.6 1535.9,782.1 1549.1,778 1562.3,778.5 1575.5,784.9 1588.6,792.8 1601.8,810.5 1615,826.3 1628.2,829 1641.3,827.5 1654.5,827.3 1667.7,817.2 1680.9,811.2 1694.1,811.2 1707.2,814.8 1720.4,822.8 1733.6,825.9 1746.8,825.9 1759.9,829.2 1773.1,825 1786.3,821 1799.5,816.6 1812.7,814 1825.8,807.8 1839,805.5 1852.2,805.1 1865.4,803.4 1878.5,800.3 1891.7,791.2 1904.9,783 1918.1,767.8 1931.2,759.5 1944.4,745.3 1957.6,736 1970.8,723.1 1984,709.4 1997.1,700.5 2010.3,698.7 2023.5,697.9 2036.7,697.6 2049.8,697.2 2063,693 2076.2,692.5 2089.4,692.3 2102.5,696.2 2115.7,701.5 2128.9,704.7 2142.1,708.2 2155.3,706.2 2168.4,699 2181.6,699.6 2194.8,698.9 2208,696.7 2221.1,691.6 2234.3,687.5 2247.5,684.2 2260.7,675.7 2273.8,662.2 2287,649 2300.2,640.7 2313.4,628.8 2326.6,616 2339.7,601 2352.9,583.8 2366.1,565.7 2379.3,552.5 2392.4,537 2405.6,521.6 2418.8,513.8 2432,517.1 2445.1,507.4 2458.3,498.5 2471.5,492.5 2484.7,491.3 2497.9,495.2 2511,497.7 2524.2,497.2 2537.4,493.3 2550.6,486.8 2563.7,486.7 2576.9,487 2590.1,483.8 2603.3,475.4 2616.4,464.9 2629.6,455.3 2642.8,441.2 2656,424.9 2669.2,417.2 2682.3,412.8 2695.5,412.6 2708.7,411.6 2721.9,403.6 2735,392.7 2748.2,384.1 2761.4,393.2 2774.6,391.4 2787.7,386.9 2800.9,379.1 2814.1,370.3 2827.3,359.5 2840.5,349 2853.6,342.4 2866.8,339.1 2880,321.2 2893.2,313.7 2906.3,301.4 2919.5,286.9 2932.7,271.5 2945.9,261.7 2959.1,263.2 2972.2,267.1 2985.4,266 2998.6,266.7 3011.8,263.3 3024.9,269.1 3038.1,269.3 3051.3,269 3064.5,264.7 3077.6,265.8 3090.8,266.8 3104,264.4 3117.2,257.2 3130.4,254.6 3143.5,248 3156.7,209.8 3169.9,204.4 3183.1,201.1 3196.2,209 3209.4,217 3222.6,221.5 3235.8,221.9 3248.9,225.5 3262.1,223.3 3275.3,223.2 3288.5,228.5 3301.7,231.3 3314.8,224.2 3328,214.9 3341.2,203.1 3354.4,188.2 3367.5,165.8 3380.7,152.8 3393.9,134.3 3407.1,115.6 3420.2,117.1 3433.4,112.5 3446.6,119.1 3446.6,442.4 3433.4,481.7 3420.2,507.8 3407.1,548.1 3393.9,553.7 3380.7,555.2 3367.5,559 3354.4,553.9 3341.2,548.5 3328,543.6 3314.8,538.9 3301.7,535.8 3288.5,536.7 3275.3,538.5 3262.1,538.4 3248.9,538.7 3235.8,538.3 3222.6,538.4 3209.4,535.3 3196.2,533.2 3183.1,525.3 3169.9,501.1 3156.7,478.8 3143.5,418.4 3130.4,400.2 3117.2,395.9 3104,384 3090.8,379 3077.6,383.9 3064.5,392.3 3051.3,398.5 3038.1,407.1 3024.9,419 3011.8,444.1 2998.6,450.4 2985.4,456.4 2972.2,466.2 2959.1,487.5 2945.9,505.4 2932.7,512 2919.5,513 2906.3,510.2 2893.2,509 2880,513 2866.8,509.9 2853.6,514.9 2840.5,521.2 2827.3,527 2814.1,530.5 2800.9,534.2 2787.7,540.7 2774.6,552.3 2761.4,565.2 2748.2,586.5 2735,592.6 2721.9,593.7 2708.7,594.1 2695.5,596.1 2682.3,602.3 2669.2,607.3 2656,609.8 2642.8,608.2 2629.6,609.8 2616.4,612.3 2603.3,615.9 2590.1,622.6 2576.9,633.5 2563.7,647.6 2550.6,664.4 2537.4,672.8 2524.2,682 2511,692.8 2497.9,709.2 2484.7,723.5 2471.5,738 2458.3,751.3 2445.1,765.8 2432,780.5 2418.8,811.7 2405.6,829 2392.4,836.2 2379.3,842.5 2366.1,849.3 2352.9,850.9 2339.7,847.8 2326.6,844.9 2313.4,841.1 2300.2,839.8 2287,840.7 2273.8,836 2260.7,830.2 2247.5,825.5 2234.3,824.1 2221.1,822.5 2208,821.8 2194.8,821.4 2181.6,822.6 2168.4,821.7 2155.3,809.5 2142.1,805.9 2128.9,812.8 2115.7,819.2 2102.5,829.2 2089.4,838.2 2076.2,845.8 2063,854.4 2049.8,860.7 2036.7,868.7 2023.5,875.6 2010.3,888.6 1997.1,902.4 1984,913.7 1970.8,913.7 1957.6,915.6 1944.4,915.3 1931.2,911.1 1918.1,908.8 1904.9,903 1891.7,903.9 1878.5,902.7 1865.4,908.3 1852.2,916.4 1839,923.8 1825.8,929.4 1812.7,929.8 1799.5,928.8 1786.3,927.5 1773.1,927.5 1759.9,926.5 1746.8,935.4 1733.6,935.8 1720.4,942 1707.2,962.9 1694.1,975.7 1680.9,989.4 1667.7,994.6 1654.5,991.8 1641.3,991.7 1628.2,991.6 1615,992.6 1601.8,999 1588.6,1004.5 1575.5,1004 1562.3,1002.7 1549.1,1002.4 1535.9,1004.1 1522.8,1005.1 1509.6,1007.4 1496.4,1008 1483.2,1011.8 1470,1011.8 1456.9,1007.9 1443.7,994.9 1430.5,984.2 1417.3,966.2 1404.2,953.7 1391,949.8 1377.8,952.5 1364.6,955.4 1351.5,963 1338.3,971.5 1325.1,977.9 1311.9,980.5 1298.7,979.8 1285.6,975.4 1272.4,966.6 1259.2,957.7 1246,944 1232.9,934.1 1219.7,903 1206.5,885.3 1193.3,882.9 1180.2,880.8 1167,862.5 1153.8,847.5 1140.6,834.1 1127.4,820.1 1114.3,811.7 1101.1,808.2 1087.9,808 1074.7,808.2 1061.6,808.3 1048.4,806 1035.2,789.3 1022,782.2 1008.9,781.9 995.7,781.3 982.5,779.7 969.3,782.3 956.1,781.1 943,775.7 929.8,777.6 916.6,781.3 903.4,781 890.3,781.9 877.1,786.2 863.9,786.5 850.7,793.3 837.6,796.9 824.4,797.2 811.2,800 798,807.7 784.8,811.1 771.7,816.2 758.5,823.2 745.3,832.3 732.1,839 719,842.2 705.8,847.4 692.6,851.4 679.4,851.8 666.3,854.2 653.1,863.9 639.9,873.6 626.7,886.1 613.5,894.9 600.4,907.8 587.2,922 574,926.8 560.8,928.9 547.7,933.8 534.5,949.5 521.3,954.4 508.1,961.8 494.9,965.5 481.8,972.1 468.6,979.6 455.4,982.6 442.2,987.5 429.1,988.1 415.9,988.4 402.7,993.4 389.5,998.6 376.4,1008.3 363.2,1036.4 350,1044.1 336.8,1051.1 323.6,1057.6 310.5,1068 297.3,1077.8 284.1,1085.1 270.9,1092.9 257.8,1093.3 244.6,1092.4 231.4,1091.2 218.2,1091.6 205.1,1093.1 191.9,1096.4 178.7,1102.5 165.5,1104.1 152.3,1108.2 139.2,1116.8 126,1131 112.8,1138.2 99.6,1148.1 86.5,1149.9 73.3,1156.9 60.1,1167.5 46.9,1184.4 33.8,1194.8 20.6,1209.5 7.4,1221.5 -5.8,1227.6" fill="rgba(255,255,255,0.197)"/>
<polyline points="-5.8,1007.9 7.4,998.7 20.6,996.5 33.8,997.6 46.9,997.8 60.1,1001.2 73.3,997.2 86.5,991.9 99.6,986.1 112.8,989.7 126,985.4 139.2,983.5 152.3,980.2 165.5,971.7 178.7,960 191.9,953.6 205.1,944.7 218.2,936.4 231.4,926.1 244.6,913 257.8,904.9 270.9,893.7 284.1,891.1 297.3,882.5 310.5,874.6 323.6,869.4 336.8,866.6 350,863.6 363.2,857.9 376.4,868.1 389.5,864.8 402.7,858 415.9,847 429.1,832 442.2,819.2 455.4,809.7 468.6,798.1 481.8,792.4 494.9,787.9 508.1,781 521.3,775.5 534.5,769.1 547.7,772.2 560.8,766.1 574,756.6 587.2,748.4 600.4,748.3 613.5,745.3 626.7,741.4 639.9,739.4 653.1,735.3 666.3,733.3 679.4,725 692.6,715.6 705.8,711.9 719,710 732.1,707.1 745.3,708.6 758.5,711.2 771.7,710.7 784.8,707 798,700.5 811.2,693.3 824.4,684.9 837.6,675.6 850.7,672.9 863.9,673.8 877.1,665.7 890.3,663.7 903.4,656.6 916.6,648 929.8,645.1 943,642.7 956.1,641.1 969.3,640.7 982.5,641.4 995.7,640.8 1008.9,640.5 1022,640.3 1035.2,637.2 1048.4,630.1 1061.6,631.7 1074.7,636.1 1087.9,640.1 1101.1,645.8 1114.3,647.9 1127.4,646.9 1140.6,649.2 1153.8,649.6 1167,654.2 1180.2,660 1193.3,672.4 1206.5,685.4 1219.7,681.6 1232.9,671.6 1246,678.1 1259.2,681 1272.4,684.7 1285.6,690.4 1298.7,696.2 1311.9,697.6 1325.1,709.1 1338.3,722.8 1351.5,740.1 1364.6,759.7 1377.8,775.7 1391,784.1 1404.2,787.4 1417.3,786.9 1430.5,781.2 1443.7,777.7 1456.9,780.8 1470,786.8 1483.2,786.8 1496.4,787.9 1509.6,786.3 1522.8,784.6 1535.9,782.1 1549.1,778 1562.3,778.5 1575.5,784.9 1588.6,792.8 1601.8,810.5 1615,826.3 1628.2,829 1641.3,827.5 1654.5,827.3 1667.7,817.2 1680.9,811.2 1694.1,811.2 1707.2,814.8 1720.4,822.8 1733.6,825.9 1746.8,825.9 1759.9,829.2 1773.1,825 1786.3,821 1799.5,816.6 1812.7,814 1825.8,807.8 1839,805.5 1852.2,805.1 1865.4,803.4 1878.5,800.3 1891.7,791.2 1904.9,783 1918.1,767.8 1931.2,759.5 1944.4,745.3 1957.6,736 1970.8,723.1 1984,709.4 1997.1,700.5 2010.3,698.7 2023.5,697.9 2036.7,697.6 2049.8,697.2 2063,693 2076.2,692.5 2089.4,692.3 2102.5,696.2 2115.7,701.5 2128.9,704.7 2142.1,708.2 2155.3,706.2 2168.4,699 2181.6,699.6 2194.8,698.9 2208,696.7 2221.1,691.6 2234.3,687.5 2247.5,684.2 2260.7,675.7 2273.8,662.2 2287,649 2300.2,640.7 2313.4,628.8 2326.6,616 2339.7,601 2352.9,583.8 2366.1,565.7 2379.3,552.5 2392.4,537 2405.6,521.6 2418.8,513.8 2432,517.1 2445.1,507.4 2458.3,498.5 2471.5,492.5 2484.7,491.3 2497.9,495.2 2511,497.7 2524.2,497.2 2537.4,493.3 2550.6,486.8 2563.7,486.7 2576.9,487 2590.1,483.8 2603.3,475.4 2616.4,464.9 2629.6,455.3 2642.8,441.2 2656,424.9 2669.2,417.2 2682.3,412.8 2695.5,412.6 2708.7,411.6 2721.9,403.6 2735,392.7 2748.2,384.1 2761.4,393.2 2774.6,391.4 2787.7,386.9 2800.9,379.1 2814.1,370.3 2827.3,359.5 2840.5,349 2853.6,342.4 2866.8,339.1 2880,321.2 2893.2,313.7 2906.3,301.4 2919.5,286.9 2932.7,271.5 2945.9,261.7 2959.1,263.2 2972.2,267.1 2985.4,266 2998.6,266.7 3011.8,263.3 3024.9,269.1 3038.1,269.3 3051.3,269 3064.5,264.7 3077.6,265.8 3090.8,266.8 3104,264.4 3117.2,257.2 3130.4,254.6 3143.5,248 3156.7,209.8 3169.9,204.4 3183.1,201.1 3196.2,209 3209.4,217 3222.6,221.5 3235.8,221.9 3248.9,225.5 3262.1,223.3 3275.3,223.2 3288.5,228.5 3301.7,231.3 3314.8,224.2 3328,214.9 3341.2,203.1 3354.4,188.2 3367.5,165.8 3380.7,152.8 3393.9,134.3 3407.1,115.6 3420.2,117.1 3433.4,112.5 3446.6,119.1" fill="none" stroke="#f0f0f0" stroke-width="1.15" stroke-linejoin="round"/>
<polyline points="-5.8,1227.6 7.4,1221.5 20.6,1209.5 33.8,1194.8 46.9,1184.4 60.1,1167.5 73.3,1156.9 86.5,1149.9 99.6,1148.1 112.8,1138.2 126,1131 139.2,1116.8 152.3,1108.2 165.5,1104.1 178.7,1102.5 191.9,1096.4 205.1,1093.1 218.2,1091.6 231.4,1091.2 244.6,1092.4 257.8,1093.3 270.9,1092.9 284.1,1085.1 297.3,1077.8 310.5,1068 323.6,1057.6 336.8,1051.1 350,1044.1 363.2,1036.4 376.4,1008.3 389.5,998.6 402.7,993.4 415.9,988.4 429.1,988.1 442.2,987.5 455.4,982.6 468.6,979.6 481.8,972.1 494.9,965.5 508.1,961.8 521.3,954.4 534.5,949.5 547.7,933.8 560.8,928.9 574,926.8 587.2,922 600.4,907.8 613.5,894.9 626.7,886.1 639.9,873.6 653.1,863.9 666.3,854.2 679.4,851.8 692.6,851.4 705.8,847.4 719,842.2 732.1,839 745.3,832.3 758.5,823.2 771.7,816.2 784.8,811.1 798,807.7 811.2,800 824.4,797.2 837.6,796.9 850.7,793.3 863.9,786.5 877.1,786.2 890.3,781.9 903.4,781 916.6,781.3 929.8,777.6 943,775.7 956.1,781.1 969.3,782.3 982.5,779.7 995.7,781.3 1008.9,781.9 1022,782.2 1035.2,789.3 1048.4,806 1061.6,808.3 1074.7,808.2 1087.9,808 1101.1,808.2 1114.3,811.7 1127.4,820.1 1140.6,834.1 1153.8,847.5 1167,862.5 1180.2,880.8 1193.3,882.9 1206.5,885.3 1219.7,903 1232.9,934.1 1246,944 1259.2,957.7 1272.4,966.6 1285.6,975.4 1298.7,979.8 1311.9,980.5 1325.1,977.9 1338.3,971.5 1351.5,963 1364.6,955.4 1377.8,952.5 1391,949.8 1404.2,953.7 1417.3,966.2 1430.5,984.2 1443.7,994.9 1456.9,1007.9 1470,1011.8 1483.2,1011.8 1496.4,1008 1509.6,1007.4 1522.8,1005.1 1535.9,1004.1 1549.1,1002.4 1562.3,1002.7 1575.5,1004 1588.6,1004.5 1601.8,999 1615,992.6 1628.2,991.6 1641.3,991.7 1654.5,991.8 1667.7,994.6 1680.9,989.4 1694.1,975.7 1707.2,962.9 1720.4,942 1733.6,935.8 1746.8,935.4 1759.9,926.5 1773.1,927.5 1786.3,927.5 1799.5,928.8 1812.7,929.8 1825.8,929.4 1839,923.8 1852.2,916.4 1865.4,908.3 1878.5,902.7 1891.7,903.9 1904.9,903 1918.1,908.8 1931.2,911.1 1944.4,915.3 1957.6,915.6 1970.8,913.7 1984,913.7 1997.1,902.4 2010.3,888.6 2023.5,875.6 2036.7,868.7 2049.8,860.7 2063,854.4 2076.2,845.8 2089.4,838.2 2102.5,829.2 2115.7,819.2 2128.9,812.8 2142.1,805.9 2155.3,809.5 2168.4,821.7 2181.6,822.6 2194.8,821.4 2208,821.8 2221.1,822.5 2234.3,824.1 2247.5,825.5 2260.7,830.2 2273.8,836 2287,840.7 2300.2,839.8 2313.4,841.1 2326.6,844.9 2339.7,847.8 2352.9,850.9 2366.1,849.3 2379.3,842.5 2392.4,836.2 2405.6,829 2418.8,811.7 2432,780.5 2445.1,765.8 2458.3,751.3 2471.5,738 2484.7,723.5 2497.9,709.2 2511,692.8 2524.2,682 2537.4,672.8 2550.6,664.4 2563.7,647.6 2576.9,633.5 2590.1,622.6 2603.3,615.9 2616.4,612.3 2629.6,609.8 2642.8,608.2 2656,609.8 2669.2,607.3 2682.3,602.3 2695.5,596.1 2708.7,594.1 2721.9,593.7 2735,592.6 2748.2,586.5 2761.4,565.2 2774.6,552.3 2787.7,540.7 2800.9,534.2 2814.1,530.5 2827.3,527 2840.5,521.2 2853.6,514.9 2866.8,509.9 2880,513 2893.2,509 2906.3,510.2 2919.5,513 2932.7,512 2945.9,505.4 2959.1,487.5 2972.2,466.2 2985.4,456.4 2998.6,450.4 3011.8,444.1 3024.9,419 3038.1,407.1 3051.3,398.5 3064.5,392.3 3077.6,383.9 3090.8,379 3104,384 3117.2,395.9 3130.4,400.2 3143.5,418.4 3156.7,478.8 3169.9,501.1 3183.1,525.3 3196.2,533.2 3209.4,535.3 3222.6,538.4 3235.8,538.3 3248.9,538.7 3262.1,538.4 3275.3,538.5 3288.5,536.7 3301.7,535.8 3314.8,538.9 3328,543.6 3341.2,548.5 3354.4,553.9 3367.5,559 3380.7,555.2 3393.9,553.7 3407.1,548.1 3420.2,507.8 3433.4,481.7 3446.6,442.4" fill="none" stroke="#f0f0f0" stroke-width="1.15" stroke-linejoin="round"/>
<polyline points="-5.8,1117.8 7.4,1110.1 20.6,1103 33.8,1096.2 46.9,1091.1 60.1,1084.3 73.3,1077 86.5,1070.9 99.6,1067.1 112.8,1063.9 126,1058.2 139.2,1050.2 152.3,1044.2 165.5,1037.9 178.7,1031.3 191.9,1025 205.1,1018.9 218.2,1014 231.4,1008.7 244.6,1002.7 257.8,999.1 270.9,993.3 284.1,988.1 297.3,980.2 310.5,971.3 323.6,963.5 336.8,958.8 350,953.8 363.2,947.2 376.4,938.2 389.5,931.7 402.7,925.7 415.9,917.7 429.1,910.1 442.2,903.4 455.4,896.1 468.6,888.8 481.8,882.3 494.9,876.7 508.1,871.4 521.3,865 534.5,859.3 547.7,853 560.8,847.5 574,841.7 587.2,835.2 600.4,828 613.5,820.1 626.7,813.8 639.9,806.5 653.1,799.6 666.3,793.7 679.4,788.4 692.6,783.5 705.8,779.6 719,776.1 732.1,773 745.3,770.5 758.5,767.2 771.7,763.5 784.8,759.1 798,754.1 811.2,746.7 824.4,741.1 837.6,736.2 850.7,733.1 863.9,730.2 877.1,726 890.3,722.8 903.4,718.8 916.6,714.6 929.8,711.3 943,709.2 956.1,711.1 969.3,711.5 982.5,710.6 995.7,711.1 1008.9,711.2 1022,711.3 1035.2,713.3 1048.4,718 1061.6,720 1074.7,722.1 1087.9,724.1 1101.1,727 1114.3,729.8 1127.4,733.5 1140.6,741.6 1153.8,748.5 1167,758.3 1180.2,770.4 1193.3,777.6 1206.5,785.4 1219.7,792.3 1232.9,802.9 1246,811.1 1259.2,819.3 1272.4,825.6 1285.6,832.9 1298.7,838 1311.9,839 1325.1,843.5 1338.3,847.1 1351.5,851.6 1364.6,857.6 1377.8,864.1 1391,867 1404.2,870.6 1417.3,876.6 1430.5,882.7 1443.7,886.3 1456.9,894.3 1470,899.3 1483.2,899.3 1496.4,898 1509.6,896.8 1522.8,894.9 1535.9,893.1 1549.1,890.2 1562.3,890.6 1575.5,894.5 1588.6,898.6 1601.8,904.8 1615,909.4 1628.2,910.3 1641.3,909.6 1654.5,909.5 1667.7,905.9 1680.9,900.3 1694.1,893.4 1707.2,888.8 1720.4,882.4 1733.6,880.9 1746.8,880.7 1759.9,877.9 1773.1,876.2 1786.3,874.3 1799.5,872.7 1812.7,871.9 1825.8,868.6 1839,864.6 1852.2,860.7 1865.4,855.8 1878.5,851.5 1891.7,847.5 1904.9,843 1918.1,838.3 1931.2,835.3 1944.4,830.3 1957.6,825.8 1970.8,818.4 1984,811.5 1997.1,801.5 2010.3,793.6 2023.5,786.8 2036.7,783.1 2049.8,778.9 2063,773.7 2076.2,769.1 2089.4,765.2 2102.5,762.7 2115.7,760.4 2128.9,758.8 2142.1,757 2155.3,757.9 2168.4,760.4 2181.6,761.1 2194.8,760.2 2208,759.3 2221.1,757 2234.3,755.8 2247.5,754.9 2260.7,752.9 2273.8,749.1 2287,744.8 2300.2,740.3 2313.4,735 2326.6,730.5 2339.7,724.4 2352.9,717.3 2366.1,707.5 2379.3,697.5 2392.4,686.6 2405.6,675.3 2418.8,662.8 2432,648.8 2445.1,636.6 2458.3,624.9 2471.5,615.3 2484.7,607.4 2497.9,602.2 2511,595.3 2524.2,589.6 2537.4,583.1 2550.6,575.6 2563.7,567.2 2576.9,560.3 2590.1,553.2 2603.3,545.7 2616.4,538.6 2629.6,532.5 2642.8,524.7 2656,517.4 2669.2,512.2 2682.3,507.6 2695.5,504.4 2708.7,502.8 2721.9,498.6 2735,492.6 2748.2,485.3 2761.4,479.2 2774.6,471.8 2787.7,463.8 2800.9,456.6 2814.1,450.4 2827.3,443.3 2840.5,435.1 2853.6,428.6 2866.8,424.5 2880,417.1 2893.2,411.4 2906.3,405.8 2919.5,399.9 2932.7,391.8 2945.9,383.5 2959.1,375.4 2972.2,366.6 2985.4,361.2 2998.6,358.5 3011.8,353.7 3024.9,344 3038.1,338.2 3051.3,333.7 3064.5,328.5 3077.6,324.8 3090.8,322.9 3104,324.2 3117.2,326.6 3130.4,327.4 3143.5,333.2 3156.7,344.3 3169.9,352.8 3183.1,363.2 3196.2,371.1 3209.4,376.2 3222.6,380 3235.8,380.1 3248.9,382.1 3262.1,380.9 3275.3,380.8 3288.5,382.6 3301.7,383.6 3314.8,381.5 3328,379.2 3341.2,375.8 3354.4,371 3367.5,362.4 3380.7,354 3393.9,344 3407.1,331.9 3420.2,312.4 3433.4,297.1 3446.6,280.7" fill="none" stroke="#f0f0f0" stroke-width="1.15" stroke-linejoin="round"/>
<polyline  points="-5.8,1129.8 7.4,1127.3 20.6,1125.2 33.8,1123.2 46.9,1121.3 60.1,1119.3 73.3,1116.8 86.5,1114.5 99.6,1112.4 112.8,1111.5 126,1109.3 139.2,1106.8 152.3,1104.5 165.5,1101.9 178.7,1099.3 191.9,1096.9 205.1,1094.2 218.2,1091.8 231.4,1089.4 244.6,1086.5 257.8,1083.4 270.9,1080.6 284.1,1078.7 297.3,1075.7 310.5,1070.2 323.6,1065 336.8,1058.8 350,1050.3 363.2,1042.4 376.4,1034.5 389.5,1027.9 402.7,1021.5 415.9,1014.3 429.1,1006.7 442.2,999.7 455.4,992.4 468.6,985.3 481.8,979 494.9,973.6 508.1,967.1 521.3,960.8 534.5,953.9 547.7,948.1 560.8,942 574,935.7 587.2,929.3 600.4,923.4 613.5,917.5 626.7,911.8 639.9,906 653.1,900.6 666.3,894.9 679.4,888.4 692.6,881.6 705.8,875.2 719,869.1 732.1,863.7 745.3,858.8 758.5,853.6 771.7,846.9 784.8,841.2 798,835.5 811.2,829.1 824.4,823.3 837.6,817.7 850.7,812.5 863.9,807.9 877.1,802.3 890.3,797.4 903.4,792.4 916.6,786.8 929.8,782.2 943,776.9 956.1,774 969.3,771.3 982.5,767.9 995.7,764.6 1008.9,761.7 1022,759.3 1035.2,756.9 1048.4,755.7 1061.6,753.2 1074.7,750.9 1087.9,748.9 1101.1,747.2 1114.3,746 1127.4,745.8 1140.6,746 1153.8,746.2 1167,747.2 1180.2,749 1193.3,749.5 1206.5,749.8 1219.7,752 1232.9,755.7 1246,758.3 1259.2,761.1 1272.4,763.9 1285.6,766.9 1298.7,769.6 1311.9,771.4 1325.1,773.1 1338.3,774.4 1351.5,776.1 1364.6,778.3 1377.8,781.2 1391,783.3 1404.2,786 1417.3,789.9 1430.5,794.9 1443.7,799.9 1456.9,805.6 1470,810.9 1483.2,815.2 1496.4,820.4 1509.6,823.8 1522.8,827 1535.9,830.8 1549.1,833.9 1562.3,838.3 1575.5,843.4 1588.6,848 1601.8,852.6 1615,855.4 1628.2,857.8 1641.3,860.8 1654.5,862.7 1667.7,863.9 1680.9,865.5 1694.1,866.9 1707.2,868.2 1720.4,870.6 1733.6,874.4 1746.8,877.9 1759.9,880.8 1773.1,882.4 1786.3,883.3 1799.5,883.2 1812.7,883.2 1825.8,882.4 1839,881.1 1852.2,881.3 1865.4,880.8 1878.5,879.1 1891.7,875.7 1904.9,873.5 1918.1,870.3 1931.2,867.8 1944.4,864.5 1957.6,862.1 1970.8,860 1984,857.8 1997.1,856.1 2010.3,854.7 2023.5,852.4 2036.7,850 2049.8,848.1 2063,844.5 2076.2,840.2 2089.4,835.4 2102.5,831.6 2115.7,827.7 2128.9,824.6 2142.1,822.2 2155.3,819.7 2168.4,819 2181.6,816.8 2194.8,814.6 2208,812.1 2221.1,808.7 2234.3,804.5 2247.5,800.3 2260.7,795.4 2273.8,790.6 2287,786.3 2300.2,782.2 2313.4,778.3 2326.6,774.3 2339.7,769.9 2352.9,765 2366.1,759.1 2379.3,753.7 2392.4,746.9 2405.6,740.1 2418.8,733.6 2432,728 2445.1,721.7 2458.3,715.5 2471.5,709.5 2484.7,704.2 2497.9,699.5 2511,694.1 2524.2,688.9 2537.4,683.2 2550.6,677.5 2563.7,671.9 2576.9,667.1 2590.1,661.5 2603.3,656 2616.4,650.1 2629.6,644.7 2642.8,639 2656,633.2 2669.2,627.5 2682.3,621.9 2695.5,616.5 2708.7,611.3 2721.9,605.5 2735,598.9 2748.2,592.2 2761.4,586.1 2774.6,578.7 2787.7,570.9 2800.9,563 2814.1,554.5 2827.3,545 2840.5,536.6 2853.6,528.9 2866.8,522.1 2880,514.1 2893.2,507 2906.3,499.3 2919.5,492 2932.7,484.6 2945.9,477.4 2959.1,470.5 2972.2,463.9 2985.4,457.8 2998.6,452.5 3011.8,446.8 3024.9,440.8 3038.1,435 3051.3,429.8 3064.5,424.3 3077.6,419.3 3090.8,414.7 3104,411.7 3117.2,409.5 3130.4,407 3143.5,404.4 3156.7,403.8 3169.9,402.3 3183.1,401.5 3196.2,399.8 3209.4,397.6 3222.6,395.7 3235.8,391.9 3248.9,389.3 3262.1,386.6 3275.3,383.7 3288.5,380.8 3301.7,378.5 3314.8,375.4 3328,371.1 3341.2,366.6 3354.4,361.3 3367.5,355.5 3380.7,351.7 3393.9,347.5 3407.1,343 3420.2,337.1 3433.4,332.5 3446.6,328.2" fill="none" stroke="#e5191c" stroke-width="1.1" stroke-linejoin="round"/>
</g>
<line x1="0" y1="185.5" x2="3453.7" y2="185.5" stroke="#0b7f68" stroke-width="1" stroke-dasharray="7,5"/>
<line x1="0" y1="1012.5" x2="3453.7" y2="1012.5" stroke="#ffffff" stroke-width="1" stroke-dasharray="3.5,2"/>
<line x1="1904.5" y1="87.6" x2="1904.5" y2="1923" stroke="#ffffff" stroke-width="1" stroke-dasharray="3.5,2"/>
<polyline points="-5.8,1343.6 7.4,1356.9 20.6,1370 33.8,1373.1 46.9,1376.3 60.1,1370.3 73.3,1356.2 86.5,1355.6 99.6,1359 112.8,1390.1 126,1363.9 139.2,1357.1 152.3,1361.2 165.5,1353.8 178.7,1348.6 191.9,1354.5 205.1,1350.2 218.2,1351.3 231.4,1346.1 244.6,1339.7 257.8,1350.8 270.9,1343.6 284.1,1366.6 297.3,1349.6 310.5,1345.4 323.6,1350.4 336.8,1366.4 350,1363 363.2,1352.6 376.4,1357.9 389.5,1351.6 402.7,1347.1 415.9,1337.3 429.1,1332.6 442.2,1333.8 455.4,1333.7 468.6,1329 481.8,1342.7 494.9,1346.9 508.1,1341.4 521.3,1338.5 534.5,1336.5 547.7,1357 560.8,1342.9 574,1335.4 587.2,1333.7 600.4,1344.3 613.5,1335 626.7,1339.2 639.9,1334.6 653.1,1331.3 666.3,1338.6 679.4,1330.9 692.6,1328.1 705.8,1349.3 719,1355.8 732.1,1352.5 745.3,1376.4 758.5,1370.5 771.7,1358.1 784.8,1348.1 798,1340.8 811.2,1331.1 824.4,1334.9 837.6,1333.2 850.7,1359.3 863.9,1371.5 877.1,1349.1 890.3,1366.8 903.4,1354.7 916.6,1350.4 929.8,1367 943,1369.5 956.1,1407.5 969.3,1402.6 982.5,1393 995.7,1403.5 1008.9,1411.7 1022,1406.2 1035.2,1413 1048.4,1426.5 1061.6,1390.8 1074.7,1382 1087.9,1381.7 1101.1,1389.2 1114.3,1400.9 1127.4,1413.9 1140.6,1426.8 1153.8,1427.5 1167,1436 1180.2,1445.3 1193.3,1410 1206.5,1414.4 1219.7,1430.6 1232.9,1444.6 1246,1418.2 1259.2,1423.9 1272.4,1416.2 1285.6,1418.8 1298.7,1408.3 1311.9,1392.1 1325.1,1390.7 1338.3,1378.7 1351.5,1384 1364.6,1400 1377.8,1411 1391,1397 1404.2,1412.2 1417.3,1424.2 1430.5,1430.7 1443.7,1424.9 1456.9,1428.6 1470,1410.7 1483.2,1397 1496.4,1407.1 1509.6,1388.3 1522.8,1390.6 1535.9,1385.6 1549.1,1381.8 1562.3,1394.4 1575.5,1401.4 1588.6,1402.1 1601.8,1402.6 1615,1396.4 1628.2,1385.3 1641.3,1388.3 1654.5,1378.1 1667.7,1371.6 1680.9,1377.6 1694.1,1379.1 1707.2,1393.1 1720.4,1384.1 1733.6,1405.2 1746.8,1398.5 1759.9,1391.9 1773.1,1376.7 1786.3,1377.3 1799.5,1373.7 1812.7,1374.3 1825.8,1370 1839,1375.5 1852.2,1377.6 1865.4,1368.4 1878.5,1366.6 1891.7,1356.8 1904.9,1354.8 1918.1,1342.3 1931.2,1355.3 1944.4,1344.2 1957.6,1354.7 1970.8,1343.6 1984,1340.6 1997.1,1336.2 2010.3,1357.7 2023.5,1360.4 2036.7,1377.8 2049.8,1372.8 2063,1359 2076.2,1369.6 2089.4,1371 2102.5,1392.9 2115.7,1397.7 2128.9,1394.3 2142.1,1391 2155.3,1407.5 2168.4,1421.7 2181.6,1384.7 2194.8,1377.8 2208,1366.7 2221.1,1361.9 2234.3,1358.3 2247.5,1357.2 2260.7,1345.6 2273.8,1342.3 2287,1340.8 2300.2,1355.6 2313.4,1346.4 2326.6,1341 2339.7,1336.2 2352.9,1330.3 2366.1,1324.8 2379.3,1329.7 2392.4,1322.9 2405.6,1319.2 2418.8,1322.6 2432,1324.3 2445.1,1314.8 2458.3,1313.3 2471.5,1326.9 2484.7,1346.8 2497.9,1377.6 2511,1361.2 2524.2,1358.1 2537.4,1348.1 2550.6,1340.6 2563.7,1340.4 2576.9,1346.3 2590.1,1339.2 2603.3,1331.4 2616.4,1328.5 2629.6,1329.6 2642.8,1320.5 2656,1316.9 2669.2,1342.7 2682.3,1352.4 2695.5,1373.5 2708.7,1374 2721.9,1349.6 2735,1342.3 2748.2,1341 2761.4,1380.4 2774.6,1359.2 2787.7,1352.9 2800.9,1350.1 2814.1,1349 2827.3,1343.7 2840.5,1339.7 2853.6,1349.7 2866.8,1362.9 2880,1340.3 2893.2,1358.3 2906.3,1350.6 2919.5,1345.9 2932.7,1341.7 2945.9,1347.8 2959.1,1365.5 2972.2,1361.8 2985.4,1366 2998.6,1382.1 3011.8,1364.9 3024.9,1355.9 3038.1,1364.3 3051.3,1366.4 3064.5,1358 3077.6,1372.5 3090.8,1380.4 3104,1401.9 3117.2,1414.6 3130.4,1410.9 3143.5,1419.1 3156.7,1452.2 3169.9,1421.1 3183.1,1425.9 3196.2,1404.2 3209.4,1391.7 3222.6,1393.7 3235.8,1373 3248.9,1385 3262.1,1377.9 3275.3,1372.2 3288.5,1374.3 3301.7,1375.1 3314.8,1361.3 3328,1354.9 3341.2,1356.9 3354.4,1354.5 3367.5,1348.7 3380.7,1365.7 3393.9,1355.5 3407.1,1351.6 3420.2,1350.5 3433.4,1351.4 3446.6,1351.4" fill="none" stroke="#ececec" stroke-width="1.05" stroke-linejoin="round"/>
<g clip-path="url(#cpMacd)">
<line x1="0" y1="1737.4" x2="3453.7" y2="1737.4" stroke="#8a8f96" stroke-width="1.2" />
<g shape-rendering="crispEdges">
<rect x="1.1" y="1697.8" width="11" height="39.6" fill="#8b0e12" />
<rect x="14.3" y="1709.2" width="11" height="28.2" fill="#8b0e12" />
<rect x="27.5" y="1719.8" width="11" height="17.6" fill="#8b0e12" />
<rect x="40.6" y="1729.4" width="11" height="8" fill="#8b0e12" />
<rect x="53.8" y="1733.6" width="11" height="3.8" fill="#8b0e12" />
<rect x="67" y="1729.5" width="11" height="7.9" fill="#0a7d0f" />
<rect x="80.2" y="1727.8" width="11" height="9.6" fill="#0a7d0f" />
<rect x="93.3" y="1729.1" width="11" height="8.3" fill="#8b0e12" />
<rect x="106.5" y="1737.4" width="11" height="5.6" fill="#8b0e12" />
<rect x="119.7" y="1737.4" width="11" height="0.8" fill="#0a7d0f" />
<rect x="132.9" y="1730.9" width="11" height="6.5" fill="#0a7d0f" />
<rect x="146" y="1729.4" width="11" height="8" fill="#0a7d0f" />
<rect x="159.2" y="1724.9" width="11" height="12.5" fill="#0a7d0f" />
<rect x="172.4" y="1720" width="11" height="17.4" fill="#0a7d0f" />
<rect x="185.6" y="1720.9" width="11" height="16.5" fill="#8b0e12" />
<rect x="198.8" y="1720.6" width="11" height="16.8" fill="#0a7d0f" />
<rect x="211.9" y="1722.6" width="11" height="14.8" fill="#8b0e12" />
<rect x="225.1" y="1722.6" width="11" height="14.8" fill="#0a7d0f" />
<rect x="238.3" y="1720.3" width="11" height="17.1" fill="#0a7d0f" />
<rect x="251.5" y="1724.2" width="11" height="13.2" fill="#8b0e12" />
<rect x="264.6" y="1724.2" width="11" height="13.2" fill="#0a7d0f" />
<rect x="277.8" y="1733.6" width="11" height="3.8" fill="#8b0e12" />
<rect x="291" y="1730.6" width="11" height="6.8" fill="#0a7d0f" />
<rect x="304.2" y="1727.4" width="11" height="10" fill="#0a7d0f" />
<rect x="317.3" y="1728.8" width="11" height="8.6" fill="#8b0e12" />
<rect x="330.5" y="1736.6" width="11" height="0.8" fill="#8b0e12" />
<rect x="343.7" y="1737.4" width="11" height="4.3" fill="#8b0e12" />
<rect x="356.9" y="1737.4" width="11" height="2.1" fill="#0a7d0f" />
<rect x="370.1" y="1737.4" width="11" height="3.7" fill="#8b0e12" />
<rect x="383.2" y="1737.4" width="11" height="2.1" fill="#0a7d0f" />
<rect x="396.4" y="1736.6" width="11" height="0.8" fill="#0a7d0f" />
<rect x="409.6" y="1729.9" width="11" height="7.5" fill="#0a7d0f" />
<rect x="422.8" y="1723.8" width="11" height="13.6" fill="#0a7d0f" />
<rect x="435.9" y="1722.3" width="11" height="15.1" fill="#0a7d0f" />
<rect x="449.1" y="1723.3" width="11" height="14.1" fill="#8b0e12" />
<rect x="462.3" y="1723" width="11" height="14.4" fill="#0a7d0f" />
<rect x="475.5" y="1728.4" width="11" height="9" fill="#8b0e12" />
<rect x="488.6" y="1734.8" width="11" height="2.6" fill="#8b0e12" />
<rect x="501.8" y="1736.6" width="11" height="0.8" fill="#8b0e12" />
<rect x="515" y="1737.4" width="11" height="1.5" fill="#8b0e12" />
<rect x="528.2" y="1737.4" width="11" height="2.6" fill="#8b0e12" />
<rect x="541.4" y="1737.4" width="11" height="9.5" fill="#8b0e12" />
<rect x="554.5" y="1737.4" width="11" height="7.8" fill="#0a7d0f" />
<rect x="567.7" y="1737.4" width="11" height="3.4" fill="#0a7d0f" />
<rect x="580.9" y="1737.4" width="11" height="0.8" fill="#0a7d0f" />
<rect x="594.1" y="1737.4" width="11" height="2.9" fill="#8b0e12" />
<rect x="607.2" y="1737.4" width="11" height="0.8" fill="#0a7d0f" />
<rect x="620.4" y="1737.4" width="11" height="1.1" fill="#8b0e12" />
<rect x="633.6" y="1737.4" width="11" height="0.8" fill="#0a7d0f" />
<rect x="646.8" y="1736.6" width="11" height="0.8" fill="#0a7d0f" />
<rect x="660" y="1737.4" width="11" height="1.6" fill="#8b0e12" />
<rect x="673.1" y="1737.4" width="11" height="0.8" fill="#0a7d0f" />
<rect x="686.3" y="1736.5" width="11" height="0.9" fill="#0a7d0f" />
<rect x="699.5" y="1737.4" width="11" height="4.3" fill="#8b0e12" />
<rect x="712.7" y="1737.4" width="11" height="10.3" fill="#8b0e12" />
<rect x="725.8" y="1737.4" width="11" height="13.4" fill="#8b0e12" />
<rect x="739" y="1737.4" width="11" height="21.8" fill="#8b0e12" />
<rect x="752.2" y="1737.4" width="11" height="25" fill="#8b0e12" />
<rect x="765.4" y="1737.4" width="11" height="22.1" fill="#0a7d0f" />
<rect x="778.5" y="1737.4" width="11" height="15.9" fill="#0a7d0f" />
<rect x="791.7" y="1737.4" width="11" height="8.6" fill="#0a7d0f" />
<rect x="804.9" y="1736.5" width="11" height="0.9" fill="#0a7d0f" />
<rect x="818.1" y="1732.5" width="11" height="4.9" fill="#0a7d0f" />
<rect x="831.3" y="1730.4" width="11" height="7" fill="#0a7d0f" />
<rect x="844.4" y="1736.6" width="11" height="0.8" fill="#8b0e12" />
<rect x="857.6" y="1737.4" width="11" height="7.7" fill="#8b0e12" />
<rect x="870.8" y="1737.4" width="11" height="3.3" fill="#0a7d0f" />
<rect x="884" y="1737.4" width="11" height="6.9" fill="#8b0e12" />
<rect x="897.1" y="1737.4" width="11" height="3.5" fill="#0a7d0f" />
<rect x="910.3" y="1736.6" width="11" height="0.8" fill="#0a7d0f" />
<rect x="923.5" y="1737.4" width="11" height="3.8" fill="#8b0e12" />
<rect x="936.7" y="1737.4" width="11" height="8" fill="#8b0e12" />
<rect x="949.8" y="1737.4" width="11" height="27.1" fill="#8b0e12" />
<rect x="963" y="1737.4" width="11" height="36.5" fill="#8b0e12" />
<rect x="976.2" y="1737.4" width="11" height="37.3" fill="#8b0e12" />
<rect x="989.4" y="1737.4" width="11" height="41.5" fill="#8b0e12" />
<rect x="1002.6" y="1737.4" width="11" height="46.8" fill="#8b0e12" />
<rect x="1015.7" y="1737.4" width="11" height="46.1" fill="#0a7d0f" />
<rect x="1028.9" y="1737.4" width="11" height="47" fill="#8b0e12" />
<rect x="1042.1" y="1737.4" width="11" height="52.9" fill="#8b0e12" />
<rect x="1055.3" y="1737.4" width="11" height="38.6" fill="#0a7d0f" />
<rect x="1068.4" y="1737.4" width="11" height="23" fill="#0a7d0f" />
<rect x="1081.6" y="1737.4" width="11" height="12" fill="#0a7d0f" />
<rect x="1094.8" y="1737.4" width="11" height="7.9" fill="#0a7d0f" />
<rect x="1108" y="1737.4" width="11" height="10.7" fill="#8b0e12" />
<rect x="1121.1" y="1737.4" width="11" height="19.2" fill="#8b0e12" />
<rect x="1134.3" y="1737.4" width="11" height="31.8" fill="#8b0e12" />
<rect x="1147.5" y="1737.4" width="11" height="38.5" fill="#8b0e12" />
<rect x="1160.7" y="1737.4" width="11" height="46.4" fill="#8b0e12" />
<rect x="1173.9" y="1737.4" width="11" height="56" fill="#8b0e12" />
<rect x="1187" y="1737.4" width="11" height="43.3" fill="#0a7d0f" />
<rect x="1200.2" y="1737.4" width="11" height="35.6" fill="#0a7d0f" />
<rect x="1213.4" y="1737.4" width="11" height="40.6" fill="#8b0e12" />
<rect x="1226.6" y="1737.4" width="11" height="54.5" fill="#8b0e12" />
<rect x="1239.7" y="1737.4" width="11" height="45.4" fill="#0a7d0f" />
<rect x="1252.9" y="1737.4" width="11" height="41.6" fill="#0a7d0f" />
<rect x="1266.1" y="1737.4" width="11" height="31.6" fill="#0a7d0f" />
<rect x="1279.3" y="1737.4" width="11" height="24.7" fill="#0a7d0f" />
<rect x="1292.4" y="1737.4" width="11" height="12.1" fill="#0a7d0f" />
<rect x="1305.6" y="1729.7" width="11" height="7.7" fill="#0a7d0f" />
<rect x="1318.8" y="1715.7" width="11" height="21.7" fill="#0a7d0f" />
<rect x="1332" y="1698.8" width="11" height="38.6" fill="#0a7d0f" />
<rect x="1345.2" y="1692.4" width="11" height="45" fill="#0a7d0f" />
<rect x="1358.3" y="1700" width="11" height="37.4" fill="#8b0e12" />
<rect x="1371.5" y="1713.9" width="11" height="23.5" fill="#8b0e12" />
<rect x="1384.7" y="1714.6" width="11" height="22.8" fill="#8b0e12" />
<rect x="1397.9" y="1727" width="11" height="10.4" fill="#8b0e12" />
<rect x="1411" y="1737.4" width="11" height="8.1" fill="#8b0e12" />
<rect x="1424.2" y="1737.4" width="11" height="24.9" fill="#8b0e12" />
<rect x="1437.4" y="1737.4" width="11" height="30.2" fill="#8b0e12" />
<rect x="1450.6" y="1737.4" width="11" height="34.5" fill="#8b0e12" />
<rect x="1463.7" y="1737.4" width="11" height="24.3" fill="#0a7d0f" />
<rect x="1476.9" y="1737.4" width="11" height="6.8" fill="#0a7d0f" />
<rect x="1490.1" y="1737.4" width="11" height="2.3" fill="#0a7d0f" />
<rect x="1503.3" y="1722.4" width="11" height="15" fill="#0a7d0f" />
<rect x="1516.5" y="1713.1" width="11" height="24.3" fill="#0a7d0f" />
<rect x="1529.6" y="1704" width="11" height="33.4" fill="#0a7d0f" />
<rect x="1542.8" y="1696.5" width="11" height="40.9" fill="#0a7d0f" />
<rect x="1556" y="1701.4" width="11" height="36" fill="#8b0e12" />
<rect x="1569.2" y="1710.7" width="11" height="26.7" fill="#8b0e12" />
<rect x="1582.3" y="1717.7" width="11" height="19.7" fill="#8b0e12" />
<rect x="1595.5" y="1722.9" width="11" height="14.5" fill="#8b0e12" />
<rect x="1608.7" y="1723.1" width="11" height="14.3" fill="#8b0e12" />
<rect x="1621.9" y="1717.3" width="11" height="20.1" fill="#0a7d0f" />
<rect x="1635" y="1715.9" width="11" height="21.5" fill="#0a7d0f" />
<rect x="1648.2" y="1709.8" width="11" height="27.6" fill="#0a7d0f" />
<rect x="1661.4" y="1703.3" width="11" height="34.1" fill="#0a7d0f" />
<rect x="1674.6" y="1703.4" width="11" height="34" fill="#8b0e12" />
<rect x="1687.8" y="1705.8" width="11" height="31.6" fill="#8b0e12" />
<rect x="1700.9" y="1715.4" width="11" height="22" fill="#8b0e12" />
<rect x="1714.1" y="1718" width="11" height="19.4" fill="#8b0e12" />
<rect x="1727.3" y="1731.7" width="11" height="5.7" fill="#8b0e12" />
<rect x="1740.5" y="1736.6" width="11" height="0.8" fill="#8b0e12" />
<rect x="1753.6" y="1737.4" width="11" height="0.8" fill="#8b0e12" />
<rect x="1766.8" y="1729.4" width="11" height="8" fill="#0a7d0f" />
<rect x="1780" y="1725.1" width="11" height="12.3" fill="#0a7d0f" />
<rect x="1793.2" y="1721.1" width="11" height="16.3" fill="#0a7d0f" />
<rect x="1806.4" y="1719.8" width="11" height="17.6" fill="#0a7d0f" />
<rect x="1819.5" y="1717.9" width="11" height="19.5" fill="#0a7d0f" />
<rect x="1832.7" y="1719.9" width="11" height="17.5" fill="#8b0e12" />
<rect x="1845.9" y="1723" width="11" height="14.4" fill="#8b0e12" />
<rect x="1859.1" y="1721.9" width="11" height="15.5" fill="#0a7d0f" />
<rect x="1872.2" y="1721.5" width="11" height="15.9" fill="#0a7d0f" />
<rect x="1885.4" y="1717.9" width="11" height="19.5" fill="#0a7d0f" />
<rect x="1898.6" y="1716" width="11" height="21.4" fill="#0a7d0f" />
<rect x="1911.8" y="1709.7" width="11" height="27.7" fill="#0a7d0f" />
<rect x="1924.9" y="1711.4" width="11" height="26" fill="#8b0e12" />
<rect x="1938.1" y="1708.2" width="11" height="29.2" fill="#0a7d0f" />
<rect x="1951.3" y="1711.5" width="11" height="25.9" fill="#8b0e12" />
<rect x="1964.5" y="1709.1" width="11" height="28.3" fill="#0a7d0f" />
<rect x="1977.7" y="1708.1" width="11" height="29.3" fill="#0a7d0f" />
<rect x="1990.8" y="1707" width="11" height="30.4" fill="#0a7d0f" />
<rect x="2004" y="1715" width="11" height="22.4" fill="#8b0e12" />
<rect x="2017.2" y="1723" width="11" height="14.4" fill="#8b0e12" />
<rect x="2030.4" y="1735.3" width="11" height="2.1" fill="#8b0e12" />
<rect x="2043.5" y="1737.4" width="11" height="4.5" fill="#8b0e12" />
<rect x="2056.7" y="1737.4" width="11" height="2.8" fill="#0a7d0f" />
<rect x="2069.9" y="1737.4" width="11" height="6" fill="#8b0e12" />
<rect x="2083.1" y="1737.4" width="11" height="9.1" fill="#8b0e12" />
<rect x="2096.2" y="1737.4" width="11" height="19.2" fill="#8b0e12" />
<rect x="2109.4" y="1737.4" width="11" height="27.4" fill="#8b0e12" />
<rect x="2122.6" y="1737.4" width="11" height="30.6" fill="#8b0e12" />
<rect x="2135.8" y="1737.4" width="11" height="30.6" fill="#8b0e12" />
<rect x="2149" y="1737.4" width="11" height="35.8" fill="#8b0e12" />
<rect x="2162.1" y="1737.4" width="11" height="44.2" fill="#8b0e12" />
<rect x="2175.3" y="1737.4" width="11" height="33.2" fill="#0a7d0f" />
<rect x="2188.5" y="1737.4" width="11" height="21.6" fill="#0a7d0f" />
<rect x="2201.7" y="1737.4" width="11" height="7.6" fill="#0a7d0f" />
<rect x="2214.8" y="1733.5" width="11" height="3.9" fill="#0a7d0f" />
<rect x="2228" y="1724.7" width="11" height="12.7" fill="#0a7d0f" />
<rect x="2241.2" y="1719.6" width="11" height="17.8" fill="#0a7d0f" />
<rect x="2254.4" y="1711" width="11" height="26.4" fill="#0a7d0f" />
<rect x="2267.5" y="1705.2" width="11" height="32.2" fill="#0a7d0f" />
<rect x="2280.7" y="1703" width="11" height="34.4" fill="#0a7d0f" />
<rect x="2293.9" y="1708.4" width="11" height="29" fill="#8b0e12" />
<rect x="2307.1" y="1708.8" width="11" height="28.6" fill="#8b0e12" />
<rect x="2320.3" y="1707.9" width="11" height="29.5" fill="#0a7d0f" />
<rect x="2333.4" y="1706.7" width="11" height="30.7" fill="#0a7d0f" />
<rect x="2346.6" y="1704.4" width="11" height="33" fill="#0a7d0f" />
<rect x="2359.8" y="1701.6" width="11" height="35.8" fill="#0a7d0f" />
<rect x="2373" y="1704" width="11" height="33.4" fill="#8b0e12" />
<rect x="2386.1" y="1703.4" width="11" height="34" fill="#0a7d0f" />
<rect x="2399.3" y="1703.2" width="11" height="34.2" fill="#0a7d0f" />
<rect x="2412.5" y="1706.9" width="11" height="30.5" fill="#8b0e12" />
<rect x="2425.7" y="1712.6" width="11" height="24.8" fill="#8b0e12" />
<rect x="2438.8" y="1711.8" width="11" height="25.6" fill="#0a7d0f" />
<rect x="2452" y="1713" width="11" height="24.4" fill="#8b0e12" />
<rect x="2465.2" y="1719.5" width="11" height="17.9" fill="#8b0e12" />
<rect x="2478.4" y="1730.9" width="11" height="6.5" fill="#8b0e12" />
<rect x="2491.6" y="1737.4" width="11" height="11.9" fill="#8b0e12" />
<rect x="2504.7" y="1737.4" width="11" height="16.5" fill="#8b0e12" />
<rect x="2517.9" y="1737.4" width="11" height="18.3" fill="#8b0e12" />
<rect x="2531.1" y="1737.4" width="11" height="14.3" fill="#0a7d0f" />
<rect x="2544.3" y="1737.4" width="11" height="7.6" fill="#0a7d0f" />
<rect x="2557.4" y="1737.4" width="11" height="4.4" fill="#0a7d0f" />
<rect x="2570.6" y="1737.4" width="11" height="5.2" fill="#8b0e12" />
<rect x="2583.8" y="1737.4" width="11" height="2.7" fill="#0a7d0f" />
<rect x="2597" y="1734.7" width="11" height="2.7" fill="#0a7d0f" />
<rect x="2610.1" y="1730.9" width="11" height="6.5" fill="#0a7d0f" />
<rect x="2623.3" y="1730.5" width="11" height="6.9" fill="#0a7d0f" />
<rect x="2636.5" y="1725.6" width="11" height="11.8" fill="#0a7d0f" />
<rect x="2649.7" y="1721.8" width="11" height="15.6" fill="#0a7d0f" />
<rect x="2662.9" y="1728.3" width="11" height="9.1" fill="#8b0e12" />
<rect x="2676" y="1736.6" width="11" height="0.8" fill="#8b0e12" />
<rect x="2689.2" y="1737.4" width="11" height="13.5" fill="#8b0e12" />
<rect x="2702.4" y="1737.4" width="11" height="23.1" fill="#8b0e12" />
<rect x="2715.6" y="1737.4" width="11" height="16.7" fill="#0a7d0f" />
<rect x="2728.7" y="1737.4" width="11" height="8.5" fill="#0a7d0f" />
<rect x="2741.9" y="1737.4" width="11" height="3.4" fill="#0a7d0f" />
<rect x="2755.1" y="1737.4" width="11" height="15.8" fill="#8b0e12" />
<rect x="2768.3" y="1737.4" width="11" height="11" fill="#0a7d0f" />
<rect x="2781.4" y="1737.4" width="11" height="4.2" fill="#0a7d0f" />
<rect x="2794.6" y="1736.2" width="11" height="1.2" fill="#0a7d0f" />
<rect x="2807.8" y="1733.5" width="11" height="3.9" fill="#0a7d0f" />
<rect x="2821" y="1729.4" width="11" height="8" fill="#0a7d0f" />
<rect x="2834.2" y="1725.7" width="11" height="11.7" fill="#0a7d0f" />
<rect x="2847.3" y="1728.7" width="11" height="8.7" fill="#8b0e12" />
<rect x="2860.5" y="1736.6" width="11" height="0.8" fill="#8b0e12" />
<rect x="2873.7" y="1727.9" width="11" height="9.5" fill="#0a7d0f" />
<rect x="2886.9" y="1731.4" width="11" height="6" fill="#8b0e12" />
<rect x="2900" y="1729.5" width="11" height="7.9" fill="#0a7d0f" />
<rect x="2913.2" y="1726.3" width="11" height="11.1" fill="#0a7d0f" />
<rect x="2926.4" y="1722.9" width="11" height="14.5" fill="#0a7d0f" />
<rect x="2939.6" y="1725.4" width="11" height="12" fill="#8b0e12" />
<rect x="2952.8" y="1736.2" width="11" height="1.2" fill="#8b0e12" />
<rect x="2965.9" y="1737.4" width="11" height="4.8" fill="#8b0e12" />
<rect x="2979.1" y="1737.4" width="11" height="11.5" fill="#8b0e12" />
<rect x="2992.3" y="1737.4" width="11" height="23.5" fill="#8b0e12" />
<rect x="3005.5" y="1737.4" width="11" height="21.1" fill="#0a7d0f" />
<rect x="3018.6" y="1737.4" width="11" height="13.6" fill="#0a7d0f" />
<rect x="3031.8" y="1737.4" width="11" height="13.1" fill="#0a7d0f" />
<rect x="3045" y="1737.4" width="11" height="14.3" fill="#8b0e12" />
<rect x="3058.2" y="1737.4" width="11" height="10.3" fill="#0a7d0f" />
<rect x="3071.3" y="1737.4" width="11" height="14.6" fill="#8b0e12" />
<rect x="3084.5" y="1737.4" width="11" height="21.3" fill="#8b0e12" />
<rect x="3097.7" y="1737.4" width="11" height="36.5" fill="#8b0e12" />
<rect x="3110.9" y="1737.4" width="11" height="53.1" fill="#8b0e12" />
<rect x="3124.1" y="1737.4" width="11" height="60" fill="#8b0e12" />
<rect x="3137.2" y="1737.4" width="11" height="67.2" fill="#8b0e12" />
<rect x="3150.4" y="1737.4" width="11" height="99.1" fill="#8b0e12" />
<rect x="3163.6" y="1737.4" width="11" height="97.1" fill="#0a7d0f" />
<rect x="3176.8" y="1737.4" width="11" height="95.9" fill="#0a7d0f" />
<rect x="3189.9" y="1737.4" width="11" height="75.5" fill="#0a7d0f" />
<rect x="3203.1" y="1737.4" width="11" height="49" fill="#0a7d0f" />
<rect x="3216.3" y="1737.4" width="11" height="31.2" fill="#0a7d0f" />
<rect x="3229.5" y="1737.4" width="11" height="0.8" fill="#0a7d0f" />
<rect x="3242.6" y="1727.1" width="11" height="10.3" fill="#0a7d0f" />
<rect x="3255.8" y="1714.2" width="11" height="23.2" fill="#0a7d0f" />
<rect x="3269" y="1701.8" width="11" height="35.6" fill="#0a7d0f" />
<rect x="3282.2" y="1697.1" width="11" height="40.3" fill="#0a7d0f" />
<rect x="3295.4" y="1696.8" width="11" height="40.6" fill="#0a7d0f" />
<rect x="3308.5" y="1686.4" width="11" height="51" fill="#0a7d0f" />
<rect x="3321.7" y="1676.3" width="11" height="61.1" fill="#0a7d0f" />
<rect x="3334.9" y="1674.7" width="11" height="62.7" fill="#0a7d0f" />
<rect x="3348.1" y="1675.1" width="11" height="62.3" fill="#8b0e12" />
<rect x="3361.2" y="1673.7" width="11" height="63.7" fill="#0a7d0f" />
<rect x="3374.4" y="1685.8" width="11" height="51.6" fill="#8b0e12" />
<rect x="3387.6" y="1687.9" width="11" height="49.5" fill="#8b0e12" />
<rect x="3400.8" y="1689.1" width="11" height="48.3" fill="#8b0e12" />
<rect x="3413.9" y="1692.4" width="11" height="45" fill="#8b0e12" />
<rect x="3427.1" y="1698.3" width="11" height="39.1" fill="#8b0e12" />
<rect x="3440.3" y="1705.3" width="11" height="32.1" fill="#8b0e12" />
</g>
<polyline points="-5.8,1630.2 7.4,1625.9 20.6,1630.2 33.8,1636.4 46.9,1644 60.1,1647.3 73.3,1641.2 86.5,1637.1 99.6,1636.4 112.8,1651.6 126,1646.6 139.2,1638 152.3,1634.5 165.5,1626.9 178.7,1617.6 191.9,1614.4 205.1,1609.9 218.2,1608.2 231.4,1604.4 244.6,1597.9 257.8,1598.5 270.9,1595.2 284.1,1603.6 297.3,1598.9 310.5,1593.2 323.6,1592.5 336.8,1600.7 350,1606.4 363.2,1604.8 376.4,1607.3 389.5,1606.1 402.7,1603.3 415.9,1594.5 429.1,1585 442.2,1579.7 455.4,1577.3 468.6,1573.3 481.8,1576.5 494.9,1582.2 508.1,1584.8 521.3,1586.6 534.5,1588.5 547.7,1597.7 560.8,1598 574,1594.4 587.2,1591.9 600.4,1594.9 613.5,1592.4 626.7,1593.4 639.9,1592.8 653.1,1591.5 666.3,1594.2 679.4,1592.9 692.6,1591.5 705.8,1597.9 719,1606.3 732.1,1612.8 745.3,1626.6 758.5,1636.2 771.7,1638.8 784.8,1636.5 798,1631.3 811.2,1621.6 824.4,1616.4 837.6,1612.6 850.7,1618.7 863.9,1629.1 877.1,1625.4 890.3,1630.7 903.4,1628.2 916.6,1624.5 929.8,1629.5 943,1635.7 956.1,1661.5 969.3,1680.1 982.5,1690.2 995.7,1704.7 1008.9,1721.7 1022,1732.5 1035.2,1745.2 1048.4,1764.4 1061.6,1759.8 1074.7,1749.9 1087.9,1741.8 1101.1,1739.7 1114.3,1745.2 1127.4,1758.5 1140.6,1779.1 1153.8,1795.4 1167,1814.9 1180.2,1838.5 1193.3,1836.7 1206.5,1837.8 1219.7,1853 1232.9,1880.6 1246,1882.8 1259.2,1889.4 1272.4,1887.2 1285.6,1886.5 1298.7,1877 1311.9,1855.2 1325.1,1835.8 1338.3,1809.3 1351.5,1791.6 1364.6,1789.9 1377.8,1798 1391,1792.9 1404.2,1802.7 1417.3,1823.2 1430.5,1846.3 1443.7,1859.1 1456.9,1872 1470,1867.9 1483.2,1852.1 1496.4,1848.2 1509.6,1827.2 1522.8,1811.8 1535.9,1794.3 1549.1,1776.6 1562.3,1772.5 1575.5,1775.1 1588.6,1777.2 1601.8,1778.8 1615,1775.5 1628.2,1764.6 1641.3,1757.8 1654.5,1744.9 1667.7,1729.8 1680.9,1721.4 1694.1,1715.9 1707.2,1720 1720.4,1717.8 1733.6,1730 1746.8,1735.6 1759.9,1735.9 1773.1,1725.8 1786.3,1718.3 1799.5,1710.3 1812.7,1704.6 1825.8,1697.8 1839,1695.4 1852.2,1695 1865.4,1690 1878.5,1685.6 1891.7,1677.1 1904.9,1669.8 1918.1,1656.6 1931.2,1651.8 1944.4,1641.3 1957.6,1638.1 1970.8,1628.7 1984,1620.3 1997.1,1611.6 2010.3,1614 2023.5,1618.4 2036.7,1630.2 2049.8,1638 2063,1637 2076.2,1641.7 2089.4,1647 2102.5,1662 2115.7,1676.9 2128.9,1687.8 2142.1,1695.5 2155.3,1709.7 2168.4,1729.1 2181.6,1726.4 2194.8,1720.2 2208,1708.1 2221.1,1695.6 2234.3,1683.6 2247.5,1674.1 2260.7,1658.8 2273.8,1645.1 2287,1634.2 2300.2,1632.3 2313.4,1625.6 2326.6,1617.4 2339.7,1608.5 2352.9,1597.9 2366.1,1586.2 2379.3,1580.2 2392.4,1571.2 2405.6,1562.4 2418.8,1558.4 2432,1557.9 2445.1,1550.8 2458.3,1545.8 2471.5,1547.8 2484.7,1557.7 2497.9,1579.1 2511,1587.7 2524.2,1594.1 2537.4,1593.7 2550.6,1588.9 2563.7,1586.8 2576.9,1588.9 2590.1,1587 2603.3,1580.9 2616.4,1575.5 2629.6,1573.4 2642.8,1565.6 2656,1557.9 2669.2,1562.1 2682.3,1570.9 2695.5,1588.1 2708.7,1603.4 2721.9,1601.2 2735,1595.1 2748.2,1590.8 2761.4,1607.1 2774.6,1605.1 2787.7,1599.3 2800.9,1593.7 2814.1,1590 2827.3,1583.9 2840.5,1577.3 2853.6,1578.1 2866.8,1586.5 2880,1574.8 2893.2,1576.9 2906.3,1572.9 2919.5,1567 2932.7,1560 2945.9,1559.4 2959.1,1570 2972.2,1577.2 2985.4,1586.8 2998.6,1604.7 3011.8,1607.5 3024.9,1603.4 3038.1,1606.2 3051.3,1611 3064.5,1609.6 3077.6,1617.5 3090.8,1629.5 3104,1653.9 3117.2,1683.7 3130.4,1705.6 3143.5,1729.6 3156.7,1786.3 3169.9,1808.6 3183.1,1831.3 3196.2,1829.9 3209.4,1815.6 3222.6,1805.6 3235.8,1774.6 3248.9,1761.6 3262.1,1742.9 3275.3,1721.6 3288.5,1706.9 3301.7,1696.3 3314.8,1673.2 3328,1647.9 3341.2,1630.5 3354.4,1615.4 3367.5,1598 3380.7,1597.3 3393.9,1587 3407.1,1576.1 3420.2,1568.1 3433.4,1564.3 3446.6,1563.3" fill="none" stroke="#ececec" stroke-width="1.05" stroke-linejoin="round"/>
<polyline points="-5.8,1675.4 7.4,1665.5 20.6,1658.4 33.8,1654 46.9,1652 60.1,1651.1 73.3,1649.1 86.5,1646.7 99.6,1644.6 112.8,1646 126,1646.1 139.2,1644.5 152.3,1642.5 165.5,1639.4 178.7,1635 191.9,1630.9 205.1,1626.7 218.2,1623 231.4,1619.3 244.6,1615 257.8,1611.7 270.9,1608.4 284.1,1607.5 297.3,1605.7 310.5,1603.2 323.6,1601.1 336.8,1601 350,1602.1 363.2,1602.6 376.4,1603.5 389.5,1604.1 402.7,1603.9 415.9,1602 429.1,1598.6 442.2,1594.8 455.4,1591.3 468.6,1587.7 481.8,1585.5 494.9,1584.8 508.1,1584.8 521.3,1585.2 534.5,1585.8 547.7,1588.2 560.8,1590.2 574,1591 587.2,1591.2 600.4,1591.9 613.5,1592 626.7,1592.3 639.9,1592.4 653.1,1592.2 666.3,1592.6 679.4,1592.7 692.6,1592.4 705.8,1593.5 719,1596.1 732.1,1599.4 745.3,1604.9 758.5,1611.1 771.7,1616.7 784.8,1620.6 798,1622.8 811.2,1622.5 824.4,1621.3 837.6,1619.6 850.7,1619.4 863.9,1621.3 877.1,1622.1 890.3,1623.9 903.4,1624.7 916.6,1624.7 929.8,1625.6 943,1627.6 956.1,1634.4 969.3,1643.6 982.5,1652.9 995.7,1663.3 1008.9,1674.9 1022,1686.5 1035.2,1698.2 1048.4,1711.5 1061.6,1721.1 1074.7,1726.9 1087.9,1729.9 1101.1,1731.8 1114.3,1734.5 1127.4,1739.3 1140.6,1747.3 1153.8,1756.9 1167,1768.5 1180.2,1782.5 1193.3,1793.3 1206.5,1802.2 1219.7,1812.4 1232.9,1826 1246,1837.4 1259.2,1847.8 1272.4,1855.7 1285.6,1861.8 1298.7,1864.9 1311.9,1862.9 1325.1,1857.5 1338.3,1847.9 1351.5,1836.6 1364.6,1827.3 1377.8,1821.4 1391,1815.7 1404.2,1813.1 1417.3,1815.1 1430.5,1821.4 1443.7,1828.9 1456.9,1837.5 1470,1843.6 1483.2,1845.3 1496.4,1845.9 1509.6,1842.1 1522.8,1836.1 1535.9,1827.7 1549.1,1817.5 1562.3,1808.5 1575.5,1801.8 1588.6,1796.9 1601.8,1793.3 1615,1789.7 1628.2,1784.7 1641.3,1779.3 1654.5,1772.4 1667.7,1763.9 1680.9,1755.4 1694.1,1747.5 1707.2,1742 1720.4,1737.2 1733.6,1735.7 1746.8,1735.7 1759.9,1735.7 1773.1,1733.8 1786.3,1730.7 1799.5,1726.6 1812.7,1722.2 1825.8,1717.3 1839,1712.9 1852.2,1709.3 1865.4,1705.5 1878.5,1701.5 1891.7,1696.6 1904.9,1691.3 1918.1,1684.3 1931.2,1677.8 1944.4,1670.5 1957.6,1664 1970.8,1657 1984,1649.6 1997.1,1642 2010.3,1636.4 2023.5,1632.8 2036.7,1632.3 2049.8,1633.4 2063,1634.1 2076.2,1635.6 2089.4,1637.9 2102.5,1642.7 2115.7,1649.6 2128.9,1657.2 2142.1,1664.9 2155.3,1673.8 2168.4,1684.9 2181.6,1693.2 2194.8,1698.6 2208,1700.5 2221.1,1699.5 2234.3,1696.3 2247.5,1691.9 2260.7,1685.3 2273.8,1677.2 2287,1668.6 2300.2,1661.4 2313.4,1654.2 2326.6,1646.8 2339.7,1639.2 2352.9,1630.9 2366.1,1622 2379.3,1613.6 2392.4,1605.1 2405.6,1596.6 2418.8,1589 2432,1582.7 2445.1,1576.4 2458.3,1570.2 2471.5,1565.8 2484.7,1564.1 2497.9,1567.1 2511,1571.2 2524.2,1575.8 2537.4,1579.4 2550.6,1581.3 2563.7,1582.4 2576.9,1583.7 2590.1,1584.4 2603.3,1583.7 2616.4,1582 2629.6,1580.3 2642.8,1577.4 2656,1573.5 2669.2,1571.2 2682.3,1571.1 2695.5,1574.5 2708.7,1580.3 2721.9,1584.5 2735,1586.6 2748.2,1587.5 2761.4,1591.4 2774.6,1594.1 2787.7,1595.2 2800.9,1594.9 2814.1,1593.9 2827.3,1591.9 2840.5,1589 2853.6,1586.8 2866.8,1586.7 2880,1584.3 2893.2,1582.8 2906.3,1580.9 2919.5,1578.1 2932.7,1574.5 2945.9,1571.5 2959.1,1571.2 2972.2,1572.4 2985.4,1575.3 2998.6,1581.1 3011.8,1586.4 3024.9,1589.8 3038.1,1593.1 3051.3,1596.7 3064.5,1599.3 3077.6,1602.9 3090.8,1608.2 3104,1617.4 3117.2,1630.6 3130.4,1645.6 3143.5,1662.4 3156.7,1687.2 3169.9,1711.5 3183.1,1735.5 3196.2,1754.3 3209.4,1766.6 3222.6,1774.4 3235.8,1774.4 3248.9,1771.9 3262.1,1766.1 3275.3,1757.2 3288.5,1747.1 3301.7,1737 3314.8,1724.2 3328,1708.9 3341.2,1693.3 3354.4,1677.7 3367.5,1661.7 3380.7,1648.8 3393.9,1636.5 3407.1,1624.4 3420.2,1613.1 3433.4,1603.4 3446.6,1595.4" fill="none" stroke="#e00d10" stroke-width="1.1" stroke-linejoin="round"/>
</g>
<line x1="0" y1="1247.5" x2="3519" y2="1247.5" stroke="#6e6e6e" stroke-width="1.6" />
<line x1="0" y1="1537.2" x2="3519" y2="1537.2" stroke="#6e6e6e" stroke-width="1.8" />
<line x1="3453.7" y1="87.6" x2="3453.7" y2="1899.2" stroke="#9aa2ab" stroke-width="1" />
<line x1="0" y1="1899.5" x2="3453.7" y2="1899.5" stroke="#9aa4ad" stroke-width="1.2" />
<line x1="3453.7" y1="1899.5" x2="3519" y2="1899.5" stroke="#6e7378" stroke-width="1" />
<rect x="0" y="87.6" width="1.4" height="1850.4" fill="#2a7af0" />
<rect x="3518.8" y="87.6" width="1.5" height="1850.4" fill="#1f6fe0" />
<line x1="0" y1="87.6" x2="3824" y2="87.6" stroke="#3a3e43" stroke-width="1.2" />
<line x1="66.5" y1="1899.2" x2="66.5" y2="1905" stroke="#9aa4ad" stroke-width="1" />
<g transform="translate(66.7,1919.8) scale(0.9,1)"><text x="0" y="0" font-size="14.2" fill="#9aa4ad" font-weight="bold" text-anchor="middle">Oct</text></g>
<line x1="237.5" y1="1899.2" x2="237.5" y2="1905" stroke="#9aa4ad" stroke-width="1" />
<line x1="237.5" y1="1905" x2="237.5" y2="1920" stroke="#9aa4ad" stroke-width="1" stroke-dasharray="1.5,2"/>
<g transform="translate(238,1935.2) scale(0.9,1)"><text x="0" y="0" font-size="14.2" fill="#9aa4ad" font-weight="bold" text-anchor="middle">2021</text></g>
<line x1="409.5" y1="1899.2" x2="409.5" y2="1905" stroke="#9aa4ad" stroke-width="1" />
<g transform="translate(409.3,1919.8) scale(0.9,1)"><text x="0" y="0" font-size="14.2" fill="#9aa4ad" font-weight="bold" text-anchor="middle">Apr</text></g>
<line x1="580.5" y1="1899.2" x2="580.5" y2="1905" stroke="#9aa4ad" stroke-width="1" />
<g transform="translate(580.6,1919.8) scale(0.9,1)"><text x="0" y="0" font-size="14.2" fill="#9aa4ad" font-weight="bold" text-anchor="middle">Jul</text></g>
<line x1="751.5" y1="1899.2" x2="751.5" y2="1905" stroke="#9aa4ad" stroke-width="1" />
<g transform="translate(751.9,1919.8) scale(0.9,1)"><text x="0" y="0" font-size="14.2" fill="#9aa4ad" font-weight="bold" text-anchor="middle">Oct</text></g>
<line x1="923.5" y1="1899.2" x2="923.5" y2="1905" stroke="#9aa4ad" stroke-width="1" />
<line x1="923.5" y1="1905" x2="923.5" y2="1920" stroke="#9aa4ad" stroke-width="1" stroke-dasharray="1.5,2"/>
<g transform="translate(923.2,1935.2) scale(0.9,1)"><text x="0" y="0" font-size="14.2" fill="#9aa4ad" font-weight="bold" text-anchor="middle">2022</text></g>
<line x1="1094.5" y1="1899.2" x2="1094.5" y2="1905" stroke="#9aa4ad" stroke-width="1" />
<g transform="translate(1094.5,1919.8) scale(0.9,1)"><text x="0" y="0" font-size="14.2" fill="#9aa4ad" font-weight="bold" text-anchor="middle">Apr</text></g>
<line x1="1265.5" y1="1899.2" x2="1265.5" y2="1905" stroke="#9aa4ad" stroke-width="1" />
<g transform="translate(1265.8,1919.8) scale(0.9,1)"><text x="0" y="0" font-size="14.2" fill="#9aa4ad" font-weight="bold" text-anchor="middle">Jul</text></g>
<line x1="1437.5" y1="1899.2" x2="1437.5" y2="1905" stroke="#9aa4ad" stroke-width="1" />
<g transform="translate(1437.1,1919.8) scale(0.9,1)"><text x="0" y="0" font-size="14.2" fill="#9aa4ad" font-weight="bold" text-anchor="middle">Oct</text></g>
<line x1="1608.5" y1="1899.2" x2="1608.5" y2="1905" stroke="#9aa4ad" stroke-width="1" />
<line x1="1608.5" y1="1905" x2="1608.5" y2="1920" stroke="#9aa4ad" stroke-width="1" stroke-dasharray="1.5,2"/>
<g transform="translate(1608.4,1935.2) scale(0.9,1)"><text x="0" y="0" font-size="14.2" fill="#9aa4ad" font-weight="bold" text-anchor="middle">2023</text></g>
<line x1="1779.5" y1="1899.2" x2="1779.5" y2="1905" stroke="#9aa4ad" stroke-width="1" />
<g transform="translate(1779.7,1919.8) scale(0.9,1)"><text x="0" y="0" font-size="14.2" fill="#9aa4ad" font-weight="bold" text-anchor="middle">Apr</text></g>
<line x1="1951.5" y1="1899.2" x2="1951.5" y2="1905" stroke="#9aa4ad" stroke-width="1" />
<g transform="translate(1951,1919.8) scale(0.9,1)"><text x="0" y="0" font-size="14.2" fill="#9aa4ad" font-weight="bold" text-anchor="middle">Jul</text></g>
<line x1="2122.5" y1="1899.2" x2="2122.5" y2="1905" stroke="#9aa4ad" stroke-width="1" />
<g transform="translate(2122.3,1919.8) scale(0.9,1)"><text x="0" y="0" font-size="14.2" fill="#9aa4ad" font-weight="bold" text-anchor="middle">Oct</text></g>
<line x1="2293.5" y1="1899.2" x2="2293.5" y2="1905" stroke="#9aa4ad" stroke-width="1" />
<line x1="2293.5" y1="1905" x2="2293.5" y2="1920" stroke="#9aa4ad" stroke-width="1" stroke-dasharray="1.5,2"/>
<g transform="translate(2293.6,1935.2) scale(0.9,1)"><text x="0" y="0" font-size="14.2" fill="#9aa4ad" font-weight="bold" text-anchor="middle">2024</text></g>
<line x1="2464.5" y1="1899.2" x2="2464.5" y2="1905" stroke="#9aa4ad" stroke-width="1" />
<g transform="translate(2464.9,1919.8) scale(0.9,1)"><text x="0" y="0" font-size="14.2" fill="#9aa4ad" font-weight="bold" text-anchor="middle">Apr</text></g>
<line x1="2636.5" y1="1899.2" x2="2636.5" y2="1905" stroke="#9aa4ad" stroke-width="1" />
<g transform="translate(2636.2,1919.8) scale(0.9,1)"><text x="0" y="0" font-size="14.2" fill="#9aa4ad" font-weight="bold" text-anchor="middle">Jul</text></g>
<line x1="2820.5" y1="1899.2" x2="2820.5" y2="1905" stroke="#9aa4ad" stroke-width="1" />
<g transform="translate(2820.7,1919.8) scale(0.9,1)"><text x="0" y="0" font-size="14.2" fill="#9aa4ad" font-weight="bold" text-anchor="middle">Oct</text></g>
<line x1="2991.5" y1="1899.2" x2="2991.5" y2="1905" stroke="#9aa4ad" stroke-width="1" />
<line x1="2991.5" y1="1905" x2="2991.5" y2="1920" stroke="#9aa4ad" stroke-width="1" stroke-dasharray="1.5,2"/>
<g transform="translate(2992,1935.2) scale(0.9,1)"><text x="0" y="0" font-size="14.2" fill="#9aa4ad" font-weight="bold" text-anchor="middle">2025</text></g>
<line x1="3163.5" y1="1899.2" x2="3163.5" y2="1905" stroke="#9aa4ad" stroke-width="1" />
<g transform="translate(3163.3,1919.8) scale(0.9,1)"><text x="0" y="0" font-size="14.2" fill="#9aa4ad" font-weight="bold" text-anchor="middle">Apr</text></g>
<line x1="3334.5" y1="1899.2" x2="3334.5" y2="1905" stroke="#9aa4ad" stroke-width="1" />
<g transform="translate(3334.6,1919.8) scale(0.9,1)"><text x="0" y="0" font-size="14.2" fill="#9aa4ad" font-weight="bold" text-anchor="middle">Jul</text></g>
<rect x="1863" y="1924" width="85" height="14" rx="3" fill="#000"/>
<text x="1905.5" y="1934.6" font-size="9.8" fill="#fff" font-weight="normal" text-anchor="middle" >6/5/2023</text>
<line x1="3453.7" y1="313.5" x2="3458.7" y2="313.5" stroke="#9aa4ad" stroke-width="1" />
<text x="3460" y="316.7" font-size="14.3" fill="#9aa4ad" font-weight="bold" text-anchor="start" textLength="55.5" lengthAdjust="spacingAndGlyphs">6,000.00</text>
<line x1="3453.7" y1="592.4" x2="3458.7" y2="592.4" stroke="#9aa4ad" stroke-width="1" />
<text x="3460" y="595.6" font-size="14.3" fill="#9aa4ad" font-weight="bold" text-anchor="start" textLength="55.5" lengthAdjust="spacingAndGlyphs">5,000.00</text>
<line x1="3453.7" y1="871.4" x2="3458.7" y2="871.4" stroke="#9aa4ad" stroke-width="1" />
<text x="3460" y="874.6" font-size="14.3" fill="#9aa4ad" font-weight="bold" text-anchor="start" textLength="55.5" lengthAdjust="spacingAndGlyphs">4,000.00</text>
<line x1="3453.7" y1="1150.3" x2="3458.7" y2="1150.3" stroke="#9aa4ad" stroke-width="1" />
<text x="3460" y="1153.5" font-size="14.3" fill="#9aa4ad" font-weight="bold" text-anchor="start" textLength="55.5" lengthAdjust="spacingAndGlyphs">3,000.00</text>
<line x1="3453.7" y1="1310.6" x2="3458.7" y2="1310.6" stroke="#9aa4ad" stroke-width="1" />
<text x="3458.8" y="1314.5" font-size="14.4" fill="#fff" font-weight="bold" text-anchor="start" >80</text>
<line x1="3453.7" y1="1472.9" x2="3458.7" y2="1472.9" stroke="#9aa4ad" stroke-width="1" />
<text x="3458.8" y="1476.8" font-size="14.4" fill="#fff" font-weight="bold" text-anchor="start" >20</text>
<line x1="3453.7" y1="1550" x2="3457.7" y2="1550" stroke="#9aa4ad" stroke-width="1" />
<text x="3459.5" y="1553.4" font-size="13.8" fill="#9aa4ad" font-weight="bold" text-anchor="start" >200.00</text>
<line x1="3453.7" y1="1620.2" x2="3457.7" y2="1620.2" stroke="#9aa4ad" stroke-width="1" />
<text x="3459.5" y="1623.7" font-size="13.8" fill="#9aa4ad" font-weight="bold" text-anchor="start" >125.00</text>
<line x1="3453.7" y1="1643.7" x2="3457.7" y2="1643.7" stroke="#9aa4ad" stroke-width="1" />
<text x="3459.5" y="1647.1" font-size="13.8" fill="#9aa4ad" font-weight="bold" text-anchor="start" >100.00</text>
<line x1="3453.7" y1="1667.1" x2="3457.7" y2="1667.1" stroke="#9aa4ad" stroke-width="1" />
<text x="3459.5" y="1670.5" font-size="13.8" fill="#9aa4ad" font-weight="bold" text-anchor="start" >75.00</text>
<line x1="3453.7" y1="1690.5" x2="3457.7" y2="1690.5" stroke="#9aa4ad" stroke-width="1" />
<text x="3459.5" y="1693.9" font-size="13.8" fill="#9aa4ad" font-weight="bold" text-anchor="start" >50.00</text>
<line x1="3453.7" y1="1714" x2="3457.7" y2="1714" stroke="#9aa4ad" stroke-width="1" />
<text x="3459.5" y="1717.4" font-size="13.8" fill="#9aa4ad" font-weight="bold" text-anchor="start" >25.00</text>
<line x1="3453.7" y1="1737.4" x2="3457.7" y2="1737.4" stroke="#9aa4ad" stroke-width="1" />
<text x="3459.5" y="1740.8" font-size="13.8" fill="#9aa4ad" font-weight="bold" text-anchor="start" >0.00</text>
<line x1="3453.7" y1="1760.8" x2="3457.7" y2="1760.8" stroke="#9aa4ad" stroke-width="1" />
<text x="3459.5" y="1764.2" font-size="13.8" fill="#9aa4ad" font-weight="bold" text-anchor="start" >-25.00</text>
<line x1="3453.7" y1="1784.3" x2="3457.7" y2="1784.3" stroke="#9aa4ad" stroke-width="1" />
<text x="3459.5" y="1787.7" font-size="13.8" fill="#9aa4ad" font-weight="bold" text-anchor="start" >-50.00</text>
<line x1="3453.7" y1="1807.7" x2="3457.7" y2="1807.7" stroke="#9aa4ad" stroke-width="1" />
<text x="3459.5" y="1811.1" font-size="13.8" fill="#9aa4ad" font-weight="bold" text-anchor="start" >-75.00</text>
<line x1="3453.7" y1="1831.1" x2="3457.7" y2="1831.1" stroke="#9aa4ad" stroke-width="1" />
<text x="3459.5" y="1834.5" font-size="13.8" fill="#9aa4ad" font-weight="bold" text-anchor="start" >-100.00</text>
<line x1="3453.7" y1="1854.6" x2="3457.7" y2="1854.6" stroke="#9aa4ad" stroke-width="1" />
<text x="3459.5" y="1858" font-size="13.8" fill="#9aa4ad" font-weight="bold" text-anchor="start" >-125.00</text>
<line x1="3453.7" y1="1878" x2="3457.7" y2="1878" stroke="#9aa4ad" stroke-width="1" />
<text x="3459.5" y="1881.4" font-size="13.8" fill="#9aa4ad" font-weight="bold" text-anchor="start" >-150.00</text>
<text x="3459.5" y="1576.8" font-size="13.8" fill="#9aa4ad" font-weight="bold" text-anchor="start" >175.00</text>
<text x="3459.5" y="1600.2" font-size="13.8" fill="#9aa4ad" font-weight="bold" text-anchor="start" >150.00</text>
<rect x="3451.7" y="107.5" width="58.5" height="23" rx="2.5" fill="#fff"/>
<text x="3459.6" y="123.4" font-size="13.8" fill="#000" font-weight="bold" text-anchor="start" textLength="46.6" lengthAdjust="spacingAndGlyphs">6,697.18</text>
<rect x="3451.7" y="172.8" width="65.0" height="24" rx="2.5" fill="#0a7a63"/>
<text x="3459.6" y="189.2" font-size="13.8" fill="#fff" font-weight="bold" text-anchor="start" textLength="52.6" lengthAdjust="spacingAndGlyphs">6,460.26</text>
<rect x="3451.7" y="268.9" width="54.5" height="23" rx="2.5" fill="#fff"/>
<text x="3459.6" y="284.8" font-size="13.8" fill="#000" font-weight="bold" text-anchor="start" textLength="42.1" lengthAdjust="spacingAndGlyphs">6,117.61</text>
<rect x="3451.7" y="316.4" width="62.0" height="23" rx="2.5" fill="#ff0000"/>
<text x="3459.6" y="332.3" font-size="13.8" fill="#fff" font-weight="bold" text-anchor="start" textLength="49.6" lengthAdjust="spacingAndGlyphs">5,947.26</text>
<rect x="3451.7" y="430.6" width="64.5" height="23" rx="2.5" fill="#fff"/>
<text x="3459.6" y="446.5" font-size="13.8" fill="#000" font-weight="bold" text-anchor="start" textLength="52.1" lengthAdjust="spacingAndGlyphs">5,538.03</text>
<rect x="3451.7" y="1001.2" width="64.5" height="23" rx="2.5" fill="#fff"/>
<text x="3459.6" y="1017.1" font-size="13.8" fill="#1a1a1a" font-weight="bold" text-anchor="start" textLength="52.1" lengthAdjust="spacingAndGlyphs">3,492.45</text>
<rect x="3453.2" y="1214.8" width="44.5" height="24" rx="3" fill="#b9bdc9"/>
<text x="3459.7" y="1231.5" font-size="14" fill="#4a4f58" font-weight="bold" text-anchor="start" textLength="34" lengthAdjust="spacingAndGlyphs">2.55B</text>
<rect x="3451.7" y="1338.7" width="46.0" height="24.5" rx="2.5" fill="#fff"/>
<text x="3459.6" y="1355.4" font-size="12.6" fill="#000" font-weight="normal" stroke="#000" stroke-width="0.4" text-anchor="start" textLength="33" lengthAdjust="spacingAndGlyphs">64.92</text>
<rect x="3451.7" y="1550.4" width="48.0" height="24.5" rx="2.5" fill="#fff"/>
<text x="3459.6" y="1567" font-size="12.6" fill="#000" font-weight="normal" stroke="#000" stroke-width="0.4" text-anchor="start" textLength="36.5" lengthAdjust="spacingAndGlyphs">185.76</text>
<rect x="3451.7" y="1582.4" width="48.0" height="24.5" rx="2.5" fill="#ff0000"/>
<text x="3459.6" y="1599.1" font-size="12.6" fill="#fff" font-weight="bold" text-anchor="start" textLength="36.5" lengthAdjust="spacingAndGlyphs">151.56</text>
<rect x="3510" y="692" width="9.5" height="30" rx="2" fill="#1f6fe0"/>
<polyline points="3513.3,704.5 3516,707 3513.3,709.5" fill="none" stroke="#fff" stroke-width="1.1"/>
<rect x="9" y="111.5" width="362.5" height="18.5" rx="3" fill="rgba(36,39,46,0.6)"/>
<text x="13" y="126" font-size="15" fill="#cacccf" font-weight="normal" text-anchor="start" textLength="70.5" lengthAdjust="spacingAndGlyphs" stroke="#cacccf" stroke-width="0.4">O:4,282.99</text>
<text x="91.5" y="126" font-size="15" fill="#cacccf" font-weight="normal" text-anchor="start" textLength="70" lengthAdjust="spacingAndGlyphs" stroke="#cacccf" stroke-width="0.4">H:4,322.62</text>
<text x="169" y="126" font-size="15" fill="#cacccf" font-weight="normal" text-anchor="start" textLength="65" lengthAdjust="spacingAndGlyphs" stroke="#cacccf" stroke-width="0.4">L:4,261.07</text>
<text x="241" y="126" font-size="15" fill="#cacccf" font-weight="normal" text-anchor="start" textLength="70.5" lengthAdjust="spacingAndGlyphs" stroke="#cacccf" stroke-width="0.4">C:4,298.86</text>
<text x="319" y="126" font-size="15" fill="#cacccf" font-weight="normal" text-anchor="start" textLength="50" lengthAdjust="spacingAndGlyphs" stroke="#cacccf" stroke-width="0.4">V:20.0b</text>
<rect x="9" y="147" width="191.5" height="23" rx="3" fill="rgba(36,39,46,0.6)"/>
<text x="13" y="163.1" font-size="15" fill="#cacccf" font-weight="normal" text-anchor="start" textLength="53" lengthAdjust="spacingAndGlyphs" stroke="#cacccf" stroke-width="0.4">vol undr</text>
<text x="73.5" y="163.1" font-size="15" fill="#cacccf" font-weight="normal" text-anchor="start" textLength="124" lengthAdjust="spacingAndGlyphs" stroke="#cacccf" stroke-width="0.4">19,960,900,000.00</text>
<rect x="9" y="178.7" width="156" height="23" rx="3" fill="rgba(36,39,46,0.6)"/>
<text x="13" y="195" font-size="15" fill="#cacccf" font-weight="normal" text-anchor="start" textLength="85" lengthAdjust="spacingAndGlyphs" stroke="#cacccf" stroke-width="0.4">ma (50,ma,0)</text>
<text x="105.5" y="195" font-size="15" fill="#d0262a" font-weight="normal" text-anchor="start" textLength="55.5" lengthAdjust="spacingAndGlyphs" stroke="#d0262a" stroke-width="0.4">3,992.23</text>
<rect x="9" y="210.5" width="359" height="23" rx="3" fill="rgba(36,39,46,0.6)"/>
<text x="13" y="227" font-size="15" fill="#cacccf" font-weight="normal" text-anchor="start" textLength="177" lengthAdjust="spacingAndGlyphs" stroke="#cacccf" stroke-width="0.4">Bollinger Bands (20,2,ma,y)</text>
<text x="198" y="227" font-size="15" fill="#cacccf" font-weight="normal" text-anchor="start" textLength="166" lengthAdjust="spacingAndGlyphs" stroke="#cacccf" stroke-width="0.4">4,316.89 4,101.77 3,886.66</text>
<rect x="9" y="242.5" width="100.5" height="23" rx="3" fill="rgba(36,39,46,0.6)"/>
<text x="13" y="259" font-size="15" fill="#cacccf" font-weight="normal" text-anchor="start" textLength="86" lengthAdjust="spacingAndGlyphs" stroke="#cacccf" stroke-width="0.4">VWAP (n,n,n)</text>
<rect x="9" y="274.5" width="79.5" height="23" rx="3" fill="rgba(36,39,46,0.6)"/>
<text x="13" y="291" font-size="15" fill="#cacccf" font-weight="normal" text-anchor="start" textLength="64.5" lengthAdjust="spacingAndGlyphs" stroke="#cacccf" stroke-width="0.4">vol profile</text>
<rect x="9" y="306.5" width="23.8" height="23" rx="3" fill="rgba(36,39,46,0.6)"/>
<polyline points="17.5,320 21,316.5 24.5,320" fill="none" stroke="#c8ccd2" stroke-width="1.2"/>
<rect x="1.6" y="1248.2" width="93" height="22" rx="3" fill="rgba(36,39,46,0.6)"/>
<text x="5.4" y="1264.1" font-size="15" fill="#cacccf" font-weight="normal" text-anchor="start" textLength="42" lengthAdjust="spacingAndGlyphs" stroke="#cacccf" stroke-width="0.4">rsi (14)</text>
<text x="55.5" y="1264.1" font-size="15" fill="#cacccf" font-weight="normal" text-anchor="start" textLength="35.5" lengthAdjust="spacingAndGlyphs" stroke="#cacccf" stroke-width="0.4">63.66</text>
<rect x="1.6" y="1536.6" width="218" height="23.4" rx="3" fill="rgba(36,39,46,0.6)"/>
<text x="5.4" y="1553.2" font-size="15" fill="#cacccf" font-weight="normal" text-anchor="start" textLength="92" lengthAdjust="spacingAndGlyphs" stroke="#cacccf" stroke-width="0.4">macd (12,26,9)</text>
<text x="105" y="1553.2" font-size="15" fill="#cacccf" font-weight="normal" text-anchor="start" textLength="31.5" lengthAdjust="spacingAndGlyphs" stroke="#cacccf" stroke-width="0.4">72.12</text>
<text x="140.5" y="1553.2" font-size="15" fill="#d0201f" font-weight="normal" text-anchor="start" textLength="36" lengthAdjust="spacingAndGlyphs" stroke="#d0201f" stroke-width="0.4">49.23</text>
<text x="180" y="1553.2" font-size="15" fill="#cacccf" font-weight="normal" text-anchor="start" textLength="36" lengthAdjust="spacingAndGlyphs" stroke="#cacccf" stroke-width="0.4">22.89</text>
<text x="1726.8" y="1200.6" font-size="16.3" fill="rgba(255,255,255,0.5)" font-weight="normal" text-anchor="middle" textLength="162" lengthAdjust="spacingAndGlyphs">VWAP is Intraday Only</text>
<rect x="1700.4" y="1216.3" width="51.5" height="19" rx="2.5" fill="rgba(30,42,58,0.82)"/>
<rect x="1700.4" y="1216.3" width="13" height="19" fill="rgba(90,40,50,0.35)"/><rect x="1726" y="1216.3" width="13.2" height="19" fill="rgba(90,40,50,0.35)"/>
<rect x="1708" y="1225.3" width="10.5" height="1.8" fill="#c9ccd2" />
<rect x="1734.5" y="1225.3" width="10.5" height="1.8" fill="#c9ccd2" />
<rect x="1738.9" y="1221" width="1.8" height="10.5" fill="#c9ccd2" />
<rect x="0" y="0" width="3824" height="36.8" fill="#1a8f7c" />
<rect x="8" y="8.2" width="304" height="20.6" rx="10.3" fill="#3b3b3b"/>
<circle cx="25.2" cy="17.2" r="4.7" fill="none" stroke="#fff" stroke-width="1.4"/><line x1="28.7" y1="20.7" x2="34" y2="26" stroke="#fff" stroke-width="1.6"/>
<text x="40" y="23.2" font-size="13.8" fill="#9c9c9c" font-weight="normal" text-anchor="start" textLength="88.5" lengthAdjust="spacingAndGlyphs">Quote Lookup</text>
<text x="2000.3" y="25" font-size="21.5" fill="#e2e2e2" font-weight="bold" text-anchor="start" textLength="62.5" lengthAdjust="spacingAndGlyphs" stroke="#e2e2e2" stroke-width="0.5">yahoo</text>
<text x="2063.2" y="24.6" font-size="21.5" fill="#e2e2e2" font-weight="bold" text-anchor="start" font-style="italic" stroke="#e2e2e2" stroke-width="0.5">!</text>
<text x="2074.5" y="25" font-size="21.5" fill="#a9d3cb" font-weight="bold" text-anchor="start" textLength="70.5" lengthAdjust="spacingAndGlyphs" stroke="#a9d3cb" stroke-width="0.4">finance</text>
<text x="8" y="54" font-size="15.2" fill="#fff" font-weight="bold" text-anchor="start" textLength="115.5" lengthAdjust="spacingAndGlyphs">S&amp;P 500 INDEX (^</text>
<text x="123.5" y="54" font-size="15.2" fill="#7fc8ff" font-weight="bold" text-anchor="start" textLength="26" lengthAdjust="spacingAndGlyphs">SPX</text>
<text x="149.7" y="54" font-size="15.2" fill="#fff" font-weight="bold" text-anchor="start" >)</text>
<text x="8" y="73" font-size="12.6" fill="#f0f0f0" font-weight="normal" text-anchor="start" textLength="218" lengthAdjust="spacingAndGlyphs" stroke="#f0f0f0" stroke-width="0.5">Chicago Options - Delayed Quote • USD</text>
<text x="242" y="57" font-size="14.6" fill="#fff" font-weight="bold" text-anchor="start" textLength="57.5" lengthAdjust="spacingAndGlyphs">6,460.26</text>
<text x="307.5" y="57.5" font-size="14.6" fill="#ff4d5a" font-weight="bold" text-anchor="start" textLength="41" lengthAdjust="spacingAndGlyphs">-41.60</text>
<text x="357" y="57" font-size="14.6" fill="#ff4d5a" font-weight="bold" text-anchor="start" textLength="55.5" lengthAdjust="spacingAndGlyphs">(-0.64%)</text>
<text x="242" y="77" font-size="12.4" fill="#f0f0f0" font-weight="normal" text-anchor="start" textLength="213" lengthAdjust="spacingAndGlyphs" stroke="#f0f0f0" stroke-width="0.55">At close: August 29 at 5:35:52 PM EDT</text>
<rect x="471.6" y="50.6" width="80.6" height="22.6" rx="11.3" fill="none" stroke="#e8e8e8" stroke-width="1.1"/>
<path d="M489,56.6 l1.55,3.3 3.6,0.45 -2.65,2.5 0.7,3.6 -3.2,-1.75 -3.2,1.75 0.7,-3.6 -2.65,-2.5 3.6,-0.45z" fill="none" stroke="#fff" stroke-width="1.1" stroke-linejoin="round"/>
<text x="500" y="66.6" font-size="14.2" fill="#fff" font-weight="bold" text-anchor="start" textLength="42.5" lengthAdjust="spacingAndGlyphs">Follow</text>
<text x="3456.7" y="66.2" font-size="14.6" fill="#aab1bb" font-weight="bold" text-anchor="start" textLength="46" lengthAdjust="spacingAndGlyphs">Candle</text>
<polyline points="3510.5,60.3 3513.8,63.5 3517.1,60.3" fill="none" stroke="#aab1bb" stroke-width="1.3"/>
<path d="M3553.5,53.5 h-3 v13 h3 M3558,53.5 h3 v13 h-3" fill="none" stroke="#aab1bb" stroke-width="1.3"/><line x1="3555.7" y1="52.5" x2="3555.7" y2="67.5" stroke="#aab1bb" stroke-width="1.1" stroke-dasharray="2,1.5"/>
<polyline points="3591.8,58.2 3591.8,56.6 3584.4,56.6 3588.3,60.4 3584.4,64.2 3591.8,64.2 3591.8,62.6" fill="none" stroke="#aab1bb" stroke-width="1.9" stroke-linejoin="miter"/>
<line x1="3608.3" y1="50" x2="3608.3" y2="74" stroke="#3a3e43" stroke-width="1.2" />
<polyline points="3622,64.5 3626,59 3629.5,62.5 3634.5,56" fill="none" stroke="#aab1bb" stroke-width="1.4"/><circle cx="3622" cy="64.5" r="1.2" fill="#aab1bb"/><circle cx="3626" cy="59" r="1.4" fill="#aab1bb"/><circle cx="3629.5" cy="62.5" r="1.4" fill="#aab1bb"/><circle cx="3634.5" cy="56" r="1.2" fill="#aab1bb"/><path d="M3630.5,53.5 l0.8,1.4 1.4,0.8 -1.4,0.8 -0.8,1.4 -0.8,-1.4 -1.4,-0.8 1.4,-0.8z" fill="#aab1bb"/><circle cx="3623" cy="57" r="0.7" fill="#aab1bb"/>
<rect x="3655.5" y="55.2" width="11" height="11" rx="1.3" fill="none" stroke="#aab1bb" stroke-width="1.4"/><line x1="3655.5" y1="58.2" x2="3666.5" y2="58.2" stroke="#aab1bb" stroke-width="1.4"/><line x1="3658" y1="53.3" x2="3658" y2="56" stroke="#aab1bb" stroke-width="1.4"/><line x1="3664" y1="53.3" x2="3664" y2="56" stroke="#aab1bb" stroke-width="1.4"/><rect x="3661" y="60.8" width="3.2" height="3.2" fill="#aab1bb"/>
<line x1="3681.3" y1="50" x2="3681.3" y2="74" stroke="#3a3e43" stroke-width="1.2" />
<path d="M3696.3,67.2 l0.6,-3 7.3,-7.3 2.3,2.3 -7.3,7.3z M3705,56 l1.2,-1.2 2.3,2.3 -1.2,1.2z" fill="none" stroke="#aab1bb" stroke-width="1.2" stroke-linejoin="round"/>
<path d="M3750.9,63.6 L3750.3,65 L3748.7,64.6 L3747.3,66 L3747.7,67.6 L3746.3,68.2 L3745.5,66.7 L3743.5,66.7 L3742.7,68.2 L3741.3,67.6 L3741.7,66 L3740.3,64.6 L3738.7,65 L3738.1,63.6 L3739.6,62.8 L3739.6,60.8 L3738.1,60 L3738.7,58.6 L3740.3,59 L3741.7,57.6 L3741.3,56 L3742.7,55.4 L3743.5,56.9 L3745.5,56.9 L3746.3,55.4 L3747.7,56 L3747.3,57.6 L3748.7,59 L3750.3,58.6 L3750.9,60 L3749.4,60.8 L3749.4,62.8Z" fill="none" stroke="#aab1bb" stroke-width="1.5" stroke-linejoin="round"/><circle cx="3744.5" cy="61.8" r="2.2" fill="none" stroke="#aab1bb" stroke-width="1.5"/>
<text x="3756.8" y="66.2" font-size="14.6" fill="#aab1bb" font-weight="bold" text-anchor="start" textLength="52" lengthAdjust="spacingAndGlyphs">Settings</text>
<text x="3524.9" y="114.4" font-size="13.9" fill="#f2f2f2" font-weight="bold" text-anchor="start" textLength="151.5" lengthAdjust="spacingAndGlyphs" stroke="#f2f2f2" stroke-width="0.3">My Portfolio &amp; Markets</text>
<text x="3722.9" y="113.2" font-size="13.2" fill="#2c7be5" font-weight="bold" text-anchor="start" textLength="62.5" lengthAdjust="spacingAndGlyphs">Customize</text>
<path d="M3805.4,112.1 L3804.8,113.6 L3803.2,113.2 L3801.8,114.6 L3802.2,116.2 L3800.7,116.8 L3799.9,115.4 L3797.9,115.4 L3797.1,116.8 L3795.6,116.2 L3796,114.6 L3794.6,113.2 L3793,113.6 L3792.4,112.1 L3793.8,111.3 L3793.8,109.3 L3792.4,108.5 L3793,107 L3794.6,107.4 L3796,106 L3795.6,104.4 L3797.1,103.8 L3797.9,105.2 L3799.9,105.2 L3800.7,103.8 L3802.2,104.4 L3801.8,106 L3803.2,107.4 L3804.8,107 L3805.4,108.5 L3804,109.3 L3804,111.3Z" fill="none" stroke="#2c7be5" stroke-width="1.4" stroke-linejoin="round"/><circle cx="3798.9" cy="110.3" r="2.2" fill="none" stroke="#2c7be5" stroke-width="1.4"/>
<text x="3525.3" y="153.3" font-size="15.4" fill="#222a33" font-weight="bold" text-anchor="start" textLength="101" lengthAdjust="spacingAndGlyphs">My Watchlists</text>
<rect x="3525.4" y="168.5" width="288.3" height="106.8" rx="1.5" fill="none" stroke="#f0f0f0" stroke-width="1"/>
<text x="3669.6" y="202.7" font-size="12.6" fill="#fff" font-weight="bold" text-anchor="middle" textLength="242.5" lengthAdjust="spacingAndGlyphs">Sign-in to view your list and add symbols.</text>
<rect x="3620.1" y="219.4" width="99.8" height="35.3" rx="4.5" fill="#1a64d6"/>
<text x="3670" y="241.3" font-size="12.4" fill="#fff" font-weight="bold" text-anchor="middle" textLength="37.5" lengthAdjust="spacingAndGlyphs">Sign In</text>
<rect x="301" y="1940.4" width="37.8" height="23.5" rx="3.5" fill="#22386b"/>
<text x="34.7" y="1956.3" font-size="12.6" fill="#aab0b9" font-weight="bold" text-anchor="middle" textLength="14" lengthAdjust="spacingAndGlyphs">1D</text>
<text x="73.4" y="1956.3" font-size="12.6" fill="#aab0b9" font-weight="bold" text-anchor="middle" textLength="16" lengthAdjust="spacingAndGlyphs">5D</text>
<text x="113" y="1956.3" font-size="12.6" fill="#aab0b9" font-weight="bold" text-anchor="middle" textLength="16.5" lengthAdjust="spacingAndGlyphs">1M</text>
<text x="154" y="1956.3" font-size="12.6" fill="#aab0b9" font-weight="bold" text-anchor="middle" textLength="18" lengthAdjust="spacingAndGlyphs">3M</text>
<text x="195.7" y="1956.3" font-size="12.6" fill="#aab0b9" font-weight="bold" text-anchor="middle" textLength="18" lengthAdjust="spacingAndGlyphs">6M</text>
<text x="240.8" y="1956.3" font-size="12.6" fill="#aab0b9" font-weight="bold" text-anchor="middle" textLength="24" lengthAdjust="spacingAndGlyphs">YTD</text>
<text x="282.5" y="1956.3" font-size="12.6" fill="#aab0b9" font-weight="bold" text-anchor="middle" textLength="13.5" lengthAdjust="spacingAndGlyphs">1Y</text>
<text x="319.8" y="1956.3" font-size="12.6" fill="#7cc3ff" font-weight="bold" text-anchor="middle" textLength="14.5" lengthAdjust="spacingAndGlyphs">5Y</text>
<text x="358.6" y="1956.3" font-size="12.6" fill="#aab0b9" font-weight="bold" text-anchor="middle" textLength="16" lengthAdjust="spacingAndGlyphs">All</text>
<line x1="394.7" y1="1942" x2="394.7" y2="1961.5" stroke="#3a3e43" stroke-width="1.2" />
<line x1="441.7" y1="1942" x2="441.7" y2="1961.5" stroke="#3a3e43" stroke-width="1.2" />
<rect x="413.5" y="1946.3" width="8.8" height="8.6" rx="1" fill="none" stroke="#aab0b9" stroke-width="1.2"/><rect x="413.5" y="1946.3" width="8.8" height="2.4" fill="#aab0b9"/><line x1="415.5" y1="1944.8" x2="415.5" y2="1946.5" stroke="#aab0b9" stroke-width="1.2"/><line x1="420.3" y1="1944.8" x2="420.3" y2="1946.5" stroke="#aab0b9" stroke-width="1.2"/>
<text x="458.8" y="1956.3" font-size="12.6" fill="#aab0b9" font-weight="bold" text-anchor="start" textLength="53" lengthAdjust="spacingAndGlyphs">Interval:</text>
<text x="539" y="1956.3" font-size="12.6" fill="#aab0b9" font-weight="bold" text-anchor="start" textLength="42.5" lengthAdjust="spacingAndGlyphs">1 week</text>
<polyline points="590,1950.2 593,1953.2 596,1950.2" fill="none" stroke="#aab0b9" stroke-width="1.2"/>
<rect x="0" y="1973" width="3824" height="40" fill="#000" />
<text x="16" y="1997.6" font-size="12.6" fill="#fff" font-weight="bold" text-anchor="start" textLength="388" lengthAdjust="spacingAndGlyphs">© 2025 Yahoo. All rights reserved.In partnership with ChartIQ</text>
<text x="3358.7" y="1988.8" font-size="10.6" fill="#fff" font-weight="bold" text-anchor="start" textLength="79.5" lengthAdjust="spacingAndGlyphs">Data Disclaimer</text>
<text x="3358.7" y="2002.9" font-size="10.6" fill="#fff" font-weight="bold" text-anchor="start" textLength="58.5" lengthAdjust="spacingAndGlyphs">What's New</text>
<text x="3450.2" y="1988.8" font-size="10.6" fill="#fff" font-weight="bold" text-anchor="start" textLength="23" lengthAdjust="spacingAndGlyphs">Help</text>
<text x="3450.2" y="2002.9" font-size="10.6" fill="#fff" font-weight="bold" text-anchor="start" textLength="73" lengthAdjust="spacingAndGlyphs">About Our Ads</text>
<text x="3541.6" y="1988.8" font-size="10.6" fill="#fff" font-weight="bold" text-anchor="start" textLength="48.5" lengthAdjust="spacingAndGlyphs">Feedback</text>
<text x="3541.6" y="2002.9" font-size="10.6" fill="#fff" font-weight="bold" text-anchor="start" textLength="29.5" lengthAdjust="spacingAndGlyphs">Terms</text>
<text x="3632.9" y="1988.8" font-size="10.6" fill="#fff" font-weight="bold" text-anchor="start" textLength="41" lengthAdjust="spacingAndGlyphs">Sitemap</text>
<text x="3632.9" y="2002.9" font-size="10.6" fill="#fff" font-weight="bold" text-anchor="start" textLength="68.5" lengthAdjust="spacingAndGlyphs">Privacy Policy</text>
<circle cx="3724" cy="1992.9" r="12" fill="#e0e0e0"/>
<circle cx="3760" cy="1992.9" r="12" fill="#e0e0e0"/>
<circle cx="3796" cy="1992.9" r="12" fill="#e0e0e0"/>
<path d="M3718.4,1987.6 h3.2 l8,10.8 h-3.2z" stroke="#111" stroke-width="1" fill="none" stroke-linejoin="round"/><path d="M3729.2,1987.6 l-4.3,4.9 M3722.9,1994.1 l-3.9,4.3" stroke="#111" stroke-width="1" fill="none"/>
<path d="M3762.3,2004.5 v-9 h3 l0.5,-3.5 h-3.5 v-2.2 q0,-1.6 1.7,-1.6 h1.9 v-3 q-1.4,-0.2 -2.8,-0.2 q-4.3,0 -4.3,4.3 v2.7 h-3 v3.5 h3 v9z" fill="#111"/>
<rect x="3789.7" y="1990.3" width="2.5" height="8" fill="#111"/><circle cx="3790.95" cy="1987.6" r="1.5" fill="#111"/><path d="M3794,1990.3 h2.4 v1.1 q1,-1.4 2.9,-1.4 q3.1,0 3.1,3.5 v4.8 h-2.5 v-4.3 q0,-1.8 -1.5,-1.8 q-1.9,0 -1.9,2 v4.1 h-2.5z" fill="#111"/>
</svg></body></html>
